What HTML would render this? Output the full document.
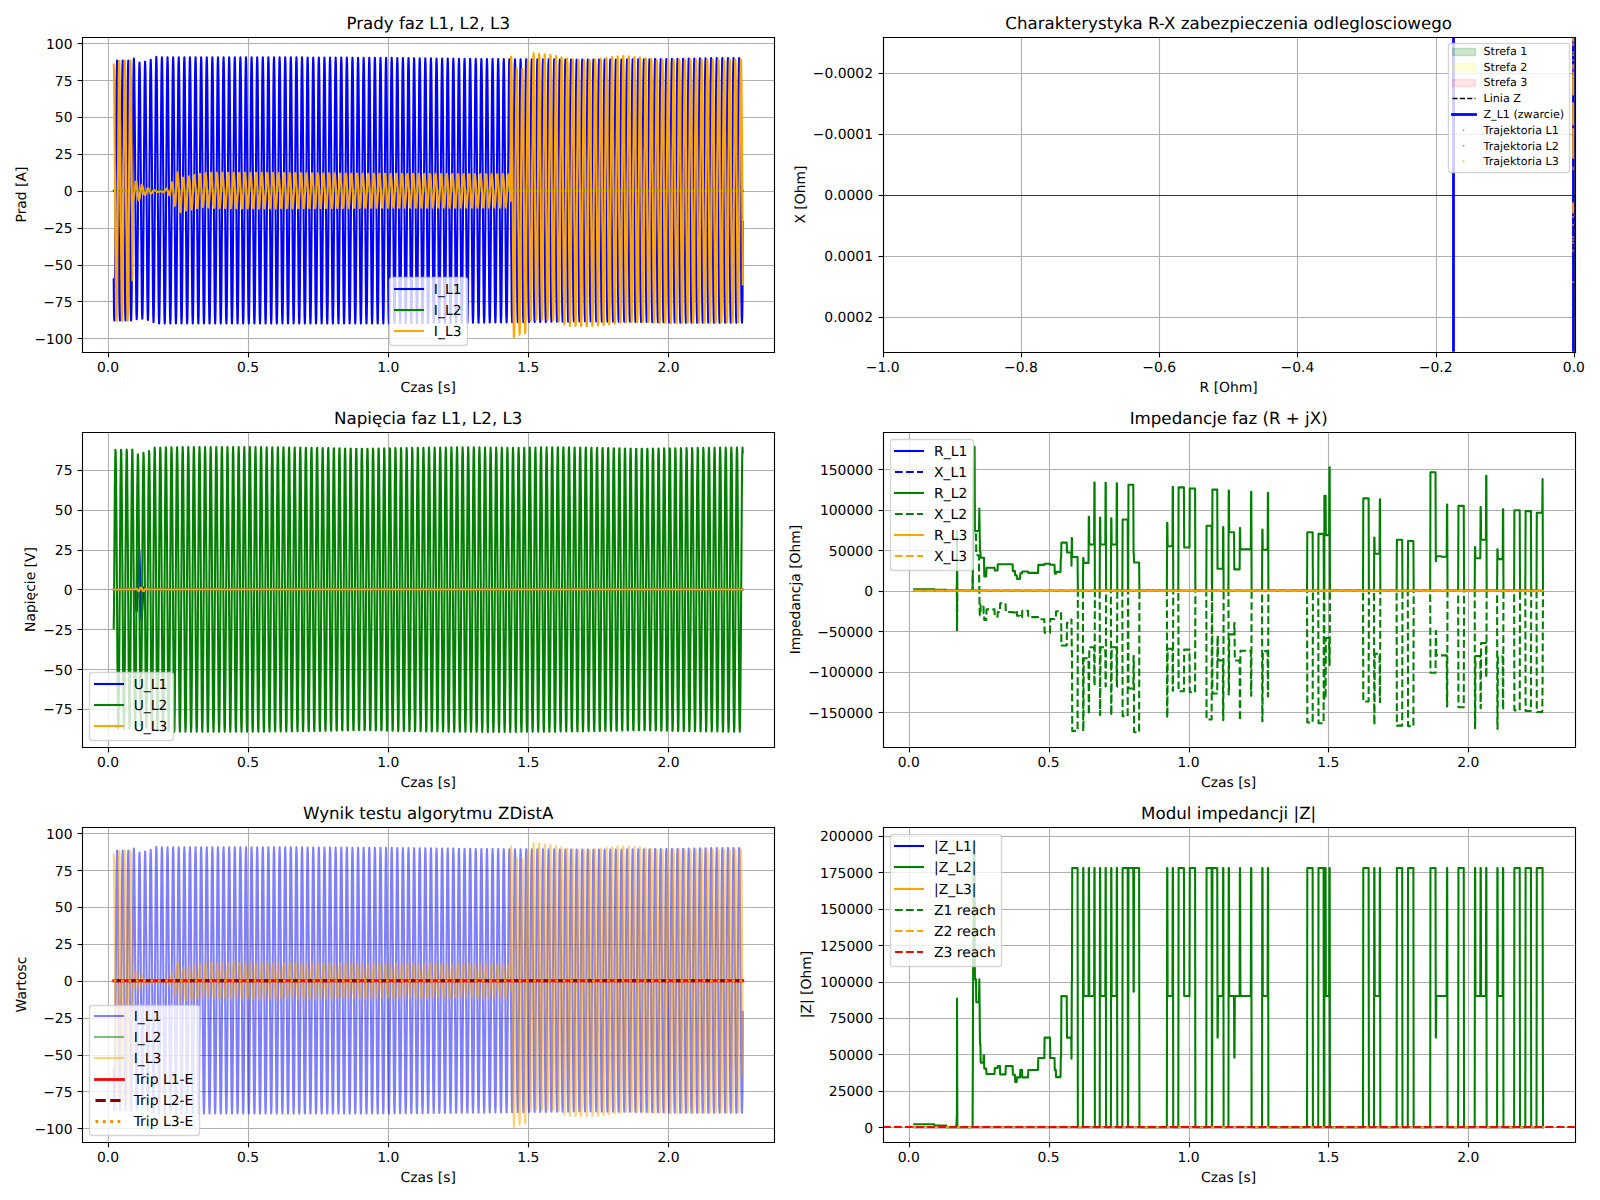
<!DOCTYPE html>
<html lang="pl"><head><meta charset="utf-8"><title>ZDistA test</title>
<style>html,body{margin:0;padding:0;background:#fff}svg{display:block}svg text{font-family:"DejaVu Sans","Liberation Sans",sans-serif;text-rendering:geometricPrecision}</style>
</head><body><svg width="1600" height="1200" viewBox="0 0 1152 864"><defs><style type="text/css">*{stroke-linejoin: round; stroke-linecap: butt}</style></defs><g id="figure_1"><g id="patch_1"><path d="M0 864L1152 864L1152 0L0 0z" style="fill:#ffffff"/></g><g id="axes_1"><g id="patch_2"><path d="M59.24 253.24L557.42 253.24L557.42 26.88L59.24 26.88z" style="fill:#ffffff"/></g><g id="matplotlib.axis_1"><g id="xtick_1"><g id="line2d_1"><path d="M78.12 253.8L78.12 27" clip-path="url(#p536cd106fd)" style="fill:none;stroke:#b0b0b0;stroke-width:0.8;stroke-linecap:square"/></g><g id="line2d_2"><defs><path id="m1504cfccaf" d="M0 0L0 3.5" style="stroke:#000000;stroke-width:0.8"/></defs><g><use x="78.12" y="253.8" style="stroke:#000000;stroke-width:0.8" href="#m1504cfccaf"/></g></g><g id="text_1"><text style="font-size:10px;text-anchor:middle" x="77.81" y="268.16">0.0</text></g></g><g id="xtick_2"><g id="line2d_3"><path d="M178.92 253.8L178.92 27" clip-path="url(#p536cd106fd)" style="fill:none;stroke:#b0b0b0;stroke-width:0.8;stroke-linecap:square"/></g><g id="line2d_4"><g><use x="178.92" y="253.8" style="stroke:#000000;stroke-width:0.8" href="#m1504cfccaf"/></g></g><g id="text_2"><text style="font-size:10px;text-anchor:middle" x="178.68" y="268.16">0.5</text></g></g><g id="xtick_3"><g id="line2d_5"><path d="M279.72 253.8L279.72 27" clip-path="url(#p536cd106fd)" style="fill:none;stroke:#b0b0b0;stroke-width:0.8;stroke-linecap:square"/></g><g id="line2d_6"><g><use x="279.72" y="253.8" style="stroke:#000000;stroke-width:0.8" href="#m1504cfccaf"/></g></g><g id="text_3"><text style="font-size:10px;text-anchor:middle" x="279.56" y="268.16">1.0</text></g></g><g id="xtick_4"><g id="line2d_7"><path d="M380.52 253.8L380.52 27" clip-path="url(#p536cd106fd)" style="fill:none;stroke:#b0b0b0;stroke-width:0.8;stroke-linecap:square"/></g><g id="line2d_8"><g><use x="380.52" y="253.8" style="stroke:#000000;stroke-width:0.8" href="#m1504cfccaf"/></g></g><g id="text_4"><text style="font-size:10px;text-anchor:middle" x="380.43" y="268.16">1.5</text></g></g><g id="xtick_5"><g id="line2d_9"><path d="M481.32 253.8L481.32 27" clip-path="url(#p536cd106fd)" style="fill:none;stroke:#b0b0b0;stroke-width:0.8;stroke-linecap:square"/></g><g id="line2d_10"><g><use x="481.32" y="253.8" style="stroke:#000000;stroke-width:0.8" href="#m1504cfccaf"/></g></g><g id="text_5"><text style="font-size:10px;text-anchor:middle" x="481.31" y="268.16">2.0</text></g></g><g id="text_6"><text style="font-size:10px;text-anchor:middle" x="308.33" y="282.24">Czas [s]</text></g></g><g id="matplotlib.axis_2"><g id="ytick_1"><g id="line2d_11"><path d="M59.4 243.72L557.64 243.72" clip-path="url(#p536cd106fd)" style="fill:none;stroke:#b0b0b0;stroke-width:0.8;stroke-linecap:square"/></g><g id="line2d_12"><defs><path id="m5d545ce8f8" d="M0 0L-3.5 0" style="stroke:#000000;stroke-width:0.8"/></defs><g><use x="59.4" y="243.72" style="stroke:#000000;stroke-width:0.8" href="#m5d545ce8f8"/></g></g><g id="text_7"><text style="font-size:10px;text-anchor:end" x="52.24" y="247.5">−100</text></g></g><g id="ytick_2"><g id="line2d_13"><path d="M59.4 217.08L557.64 217.08" clip-path="url(#p536cd106fd)" style="fill:none;stroke:#b0b0b0;stroke-width:0.8;stroke-linecap:square"/></g><g id="line2d_14"><g><use x="59.4" y="217.08" style="stroke:#000000;stroke-width:0.8" href="#m5d545ce8f8"/></g></g><g id="text_8"><text style="font-size:10px;text-anchor:end" x="52.24" y="220.95">−75</text></g></g><g id="ytick_3"><g id="line2d_15"><path d="M59.4 191.16L557.64 191.16" clip-path="url(#p536cd106fd)" style="fill:none;stroke:#b0b0b0;stroke-width:0.8;stroke-linecap:square"/></g><g id="line2d_16"><g><use x="59.4" y="191.16" style="stroke:#000000;stroke-width:0.8" href="#m5d545ce8f8"/></g></g><g id="text_9"><text style="font-size:10px;text-anchor:end" x="52.24" y="194.4">−50</text></g></g><g id="ytick_4"><g id="line2d_17"><path d="M59.4 164.52L557.64 164.52" clip-path="url(#p536cd106fd)" style="fill:none;stroke:#b0b0b0;stroke-width:0.8;stroke-linecap:square"/></g><g id="line2d_18"><g><use x="59.4" y="164.52" style="stroke:#000000;stroke-width:0.8" href="#m5d545ce8f8"/></g></g><g id="text_10"><text style="font-size:10px;text-anchor:end" x="52.24" y="167.85">−25</text></g></g><g id="ytick_5"><g id="line2d_19"><path d="M59.4 137.88L557.64 137.88" clip-path="url(#p536cd106fd)" style="fill:none;stroke:#b0b0b0;stroke-width:0.8;stroke-linecap:square"/></g><g id="line2d_20"><g><use x="59.4" y="137.88" style="stroke:#000000;stroke-width:0.8" href="#m5d545ce8f8"/></g></g><g id="text_11"><text style="font-size:10px;text-anchor:end" x="52.24" y="141.3">0</text></g></g><g id="ytick_6"><g id="line2d_21"><path d="M59.4 111.24L557.64 111.24" clip-path="url(#p536cd106fd)" style="fill:none;stroke:#b0b0b0;stroke-width:0.8;stroke-linecap:square"/></g><g id="line2d_22"><g><use x="59.4" y="111.24" style="stroke:#000000;stroke-width:0.8" href="#m5d545ce8f8"/></g></g><g id="text_12"><text style="font-size:10px;text-anchor:end" x="52.24" y="114.75">25</text></g></g><g id="ytick_7"><g id="line2d_23"><path d="M59.4 84.6L557.64 84.6" clip-path="url(#p536cd106fd)" style="fill:none;stroke:#b0b0b0;stroke-width:0.8;stroke-linecap:square"/></g><g id="line2d_24"><g><use x="59.4" y="84.6" style="stroke:#000000;stroke-width:0.8" href="#m5d545ce8f8"/></g></g><g id="text_13"><text style="font-size:10px;text-anchor:end" x="52.24" y="88.2">50</text></g></g><g id="ytick_8"><g id="line2d_25"><path d="M59.4 57.96L557.64 57.96" clip-path="url(#p536cd106fd)" style="fill:none;stroke:#b0b0b0;stroke-width:0.8;stroke-linecap:square"/></g><g id="line2d_26"><g><use x="59.4" y="57.96" style="stroke:#000000;stroke-width:0.8" href="#m5d545ce8f8"/></g></g><g id="text_14"><text style="font-size:10px;text-anchor:end" x="52.24" y="61.65">75</text></g></g><g id="ytick_9"><g id="line2d_27"><path d="M59.4 31.32L557.64 31.32" clip-path="url(#p536cd106fd)" style="fill:none;stroke:#b0b0b0;stroke-width:0.8;stroke-linecap:square"/></g><g id="line2d_28"><g><use x="59.4" y="31.32" style="stroke:#000000;stroke-width:0.8" href="#m5d545ce8f8"/></g></g><g id="text_15"><text style="font-size:10px;text-anchor:end" x="52.24" y="35.1">100</text></g></g><g id="text_16"><text style="font-size:10px;text-anchor:middle" x="18.72" y="140.06" transform="rotate(-90 18.72 140.06)">Prad [A]</text></g></g><g id="line2d_29"><path d="M81.88 201.06L82.09 226.23L82.29 230.8L82.49 226.23L82.69 212.95L83.09 166.22L83.9 61.47L84.1 48.15L84.31 43.56L84.51 48.15L84.71 61.47L85.11 108.36L85.92 212.95L86.12 226.23L86.32 230.8L86.52 226.23L86.73 212.95L87.13 166.22L87.94 61.47L88.14 48.15L88.34 43.56L88.54 48.15L88.74 61.47L89.15 108.36L89.95 212.95L90.16 226.23L90.36 230.8L90.56 226.23L90.76 212.95L91.16 166.22L91.97 61.47L92.17 48.15L92.38 43.56L92.58 48.15L92.78 61.47L93.18 108.36L93.99 212.95L94.19 226.23L94.39 230.8L94.59 226.23L94.8 212.95L95.2 166.22L96.01 60.58L96.21 46.9L96.41 42.1L96.61 46.86L97.02 81.55L98.02 212.29L98.23 225.38L98.43 229.83L98.63 225.23L98.83 212.04L99.23 165.82L100.04 62.64L100.24 49.66L100.45 45.11L100.65 49.6L100.85 62.67L101.25 108.8L102.06 211.84L102.26 224.94L102.46 229.47L102.66 224.98L102.87 211.91L103.27 165.84L104.08 62.21L104.28 48.99L104.48 44.4L104.68 48.88L104.88 62.04L105.29 108.54L106.09 212.45L106.3 225.72L106.5 230.35L106.7 225.88L106.9 212.72L107.3 166.19L108.11 61.15L108.31 47.7L108.52 43.01L108.72 47.52L108.92 60.85L109.32 108.05L110.13 213.82L110.33 227.29L110.53 231.97L110.73 227.38L110.94 213.97L111.34 166.64L112.15 59.4L112.35 45.61L112.55 40.81L112.75 45.55L112.95 59.27L113.36 107.53L114.16 214.58L114.37 228.14L114.57 232.82L114.77 228.14L114.97 214.58L115.37 166.84L116.18 59.52L116.38 45.87L116.59 41.19L116.79 45.91L116.99 59.58L117.39 107.65L118.2 214.58L118.4 228.14L118.6 232.82L118.8 228.14L119.01 214.58L119.41 166.84L120.22 59.67L120.42 46.03L120.62 41.33L120.82 46.03L121.02 59.67L121.43 107.67L122.23 214.58L122.44 228.14L122.64 232.82L122.84 228.14L123.04 214.58L123.44 166.84L124.25 59.66L124.45 46.03L124.66 41.33L124.86 46.02L125.06 59.66L125.46 107.67L126.27 214.58L126.47 228.14L126.67 232.82L126.87 228.14L127.08 214.58L127.48 166.84L128.29 59.66L128.49 46.02L128.69 41.32L128.89 46.02L129.09 59.66L129.5 107.67L130.3 214.58L130.51 228.14L130.71 232.82L130.91 228.14L131.11 214.58L131.51 166.84L132.32 59.65L132.52 46.02L132.73 41.31L132.93 46.01L133.13 59.65L133.53 107.67L134.34 214.58L134.54 228.14L134.74 232.82L134.94 228.14L135.15 214.58L135.55 166.84L136.36 59.65L136.56 46.01L136.76 41.31L136.96 46.01L137.16 59.65L137.57 107.67L138.37 214.58L138.58 228.14L138.78 232.82L138.98 228.14L139.18 214.58L139.58 166.84L140.39 59.65L140.59 46.01L140.8 41.3L141 46L141.2 59.65L141.6 107.66L142.41 214.58L142.61 228.14L142.81 232.82L143.01 228.14L143.22 214.58L143.62 166.84L144.43 59.64L144.63 46L144.83 41.3L145.03 46L145.23 59.64L145.64 107.66L146.44 214.58L146.65 228.14L146.85 232.82L147.05 228.14L147.25 214.58L147.65 166.84L148.46 59.64L148.66 45.99L148.87 41.29L149.07 45.99L149.27 59.64L149.67 107.66L150.48 214.58L150.68 228.14L150.88 232.82L151.08 228.14L151.29 214.58L151.69 166.84L152.5 59.63L152.7 45.99L152.9 41.29L153.1 45.99L153.3 59.63L153.71 107.66L154.51 214.58L154.72 228.14L154.92 232.82L155.12 228.14L155.32 214.58L155.72 166.84L156.53 59.63L156.73 45.98L156.94 41.28L157.14 45.98L157.34 59.63L157.74 107.66L158.55 214.58L158.75 228.14L158.95 232.82L159.15 228.14L159.36 214.58L159.76 166.84L160.57 59.62L160.77 45.98L160.97 41.28L161.17 45.98L161.37 59.62L161.78 107.66L162.58 214.58L162.79 228.14L162.99 232.82L163.19 228.14L163.39 214.58L163.79 166.84L164.6 59.62L164.8 45.97L165 41.27L165.21 45.97L165.41 59.62L165.81 107.65L166.62 214.58L166.82 228.14L167.02 232.82L167.22 228.14L167.43 214.58L167.83 166.84L168.64 59.62L168.84 45.97L169.04 41.27L169.24 45.97L169.44 59.62L169.85 107.65L170.65 214.58L170.86 228.14L171.06 232.82L171.26 228.14L171.46 214.58L171.86 166.84L172.67 59.61L172.87 45.96L173.07 41.26L173.28 45.96L173.48 59.61L173.88 107.65L174.69 214.58L174.89 228.14L175.09 232.82L175.29 228.14L175.5 214.58L175.9 166.84L176.71 59.61L176.91 45.96L177.11 41.26L177.31 45.96L177.51 59.61L177.92 107.65L178.72 214.58L178.93 228.14L179.13 232.82L179.33 228.14L179.53 214.58L179.93 166.84L180.74 59.6L180.94 45.95L181.14 41.25L181.35 45.95L181.55 59.6L181.95 107.65L182.76 214.58L182.96 228.14L183.16 232.82L183.36 228.14L183.57 214.58L183.97 166.84L184.78 59.6L184.98 45.95L185.18 41.25L185.38 45.95L185.58 59.6L185.99 107.65L186.79 214.58L187 228.14L187.2 232.82L187.4 228.14L187.6 214.58L188 166.84L188.81 59.59L189.01 45.94L189.21 41.24L189.42 45.94L189.62 59.59L190.02 107.64L190.83 214.58L191.03 228.14L191.23 232.82L191.43 228.14L191.64 214.58L192.04 166.84L192.85 59.59L193.05 45.94L193.25 41.24L193.45 45.94L193.65 59.59L194.06 107.64L194.86 214.58L195.07 228.14L195.27 232.82L195.47 228.14L195.67 214.58L196.07 166.84L196.88 59.59L197.08 45.93L197.28 41.23L197.49 45.93L197.69 59.59L198.09 107.64L198.9 214.58L199.1 228.14L199.3 232.82L199.5 228.14L199.71 214.58L200.11 166.84L200.92 59.59L201.12 45.94L201.32 41.24L201.52 45.95L201.72 59.6L202.13 107.65L202.93 214.58L203.14 228.14L203.34 232.82L203.54 228.14L203.74 214.58L204.14 166.84L204.95 59.61L205.15 45.96L205.35 41.26L205.56 45.97L205.76 59.61L206.16 107.65L206.97 214.58L207.17 228.14L207.37 232.82L207.57 228.14L207.78 214.58L208.18 166.84L208.99 59.63L209.19 45.98L209.39 41.28L209.59 45.99L209.79 59.63L210.2 107.66L211 214.58L211.21 228.14L211.41 232.82L211.61 228.14L211.81 214.58L212.21 166.84L213.02 59.64L213.22 46L213.42 41.3L213.63 46.01L213.83 59.65L214.23 107.67L215.04 214.58L215.24 228.14L215.44 232.82L215.64 228.14L215.85 214.58L216.25 166.84L217.06 59.66L217.26 46.02L217.46 41.33L217.66 46.03L217.86 59.66L218.27 107.67L219.07 214.58L219.28 228.14L219.48 232.82L219.68 228.14L219.88 214.58L220.28 166.84L221.09 59.68L221.29 46.04L221.49 41.35L221.7 46.05L221.9 59.68L222.3 107.68L223.11 214.58L223.31 228.14L223.51 232.82L223.71 228.14L223.92 214.58L224.32 166.84L225.13 59.7L225.33 46.06L225.53 41.37L225.73 46.07L225.93 59.7L226.34 107.69L227.14 214.58L227.35 228.14L227.55 232.82L227.75 228.14L227.95 214.58L228.35 166.84L229.16 59.71L229.36 46.08L229.56 41.39L229.77 46.09L229.97 59.72L230.37 107.69L231.18 214.58L231.38 228.14L231.58 232.82L231.78 228.14L231.99 214.58L232.39 166.84L233.2 59.73L233.4 46.1L233.6 41.41L233.8 46.11L234 59.73L234.41 107.7L235.21 214.58L235.42 228.14L235.62 232.82L235.82 228.14L236.02 214.58L236.42 166.84L237.23 59.75L237.43 46.13L237.63 41.43L237.84 46.13L238.04 59.75L238.44 107.7L239.25 214.58L239.45 228.14L239.65 232.82L239.85 228.14L240.06 214.58L240.46 166.84L241.27 59.76L241.47 46.15L241.67 41.45L241.87 46.15L242.07 59.77L242.48 107.71L243.28 214.58L243.49 228.14L243.69 232.82L243.89 228.14L244.09 214.58L244.49 166.84L245.3 59.78L245.5 46.17L245.7 41.47L245.91 46.17L246.11 59.79L246.51 107.72L247.32 214.58L247.52 228.14L247.72 232.82L247.92 228.14L248.13 214.58L248.53 166.84L249.34 59.8L249.54 46.19L249.74 41.5L249.94 46.19L250.14 59.8L250.55 107.72L251.35 214.58L251.56 228.14L251.76 232.82L251.96 228.14L252.16 214.58L252.56 166.84L253.37 59.82L253.57 46.21L253.77 41.52L253.98 46.21L254.18 59.82L254.58 107.73L255.39 214.58L255.59 228.14L255.79 232.82L255.99 228.14L256.2 214.58L256.6 166.84L257.41 59.83L257.61 46.23L257.81 41.54L258.01 46.23L258.21 59.84L258.62 107.74L259.42 214.58L259.63 228.14L259.83 232.82L260.03 228.14L260.23 214.58L260.63 166.84L261.44 59.85L261.64 46.25L261.84 41.56L262.05 46.25L262.25 59.85L262.65 107.74L263.46 214.58L263.66 228.14L263.86 232.82L264.06 228.14L264.27 214.58L264.67 166.84L265.48 59.87L265.68 46.27L265.88 41.58L266.08 46.27L266.28 59.87L266.69 107.75L267.49 214.58L267.7 228.14L267.9 232.82L268.1 228.14L268.3 214.58L268.7 166.84L269.51 59.88L269.71 46.29L269.91 41.6L270.12 46.29L270.32 59.89L270.72 107.76L271.53 214.58L271.73 228.14L271.93 232.82L272.13 228.14L272.34 214.58L272.74 166.84L273.55 59.9L273.75 46.31L273.95 41.62L274.15 46.31L274.35 59.91L274.76 107.76L275.56 214.58L275.77 228.14L275.97 232.82L276.17 228.14L276.37 214.58L276.77 166.84L277.58 59.92L277.78 46.33L277.98 41.64L278.19 46.33L278.39 59.92L278.79 107.77L279.6 214.58L279.8 228.14L280 232.81L280.2 228.14L280.41 214.58L280.81 166.84L281.62 59.95L281.82 46.36L282.02 41.68L282.22 46.37L282.42 59.96L282.83 107.78L283.63 214.56L283.84 228.11L284.04 232.78L284.24 228.11L284.44 214.55L284.84 166.83L285.65 59.99L285.85 46.41L286.05 41.73L286.26 46.41L286.46 60L286.86 107.8L287.67 214.53L287.87 228.08L288.07 232.75L288.27 228.08L288.48 214.53L288.88 166.82L289.69 60.03L289.89 46.46L290.09 41.78L290.29 46.46L290.49 60.04L290.9 107.81L291.7 214.51L291.91 228.05L292.11 232.72L292.31 228.05L292.51 214.5L292.91 166.81L293.72 60.07L293.92 46.5L294.12 41.83L294.33 46.51L294.53 60.08L294.93 107.83L295.74 214.48L295.94 228.02L296.14 232.69L296.34 228.02L296.55 214.47L296.95 166.8L297.76 60.11L297.96 46.55L298.16 41.88L298.36 46.56L298.56 60.12L298.97 107.85L299.77 214.45L299.98 227.99L300.18 232.65L300.38 227.99L300.58 214.45L300.98 166.79L301.79 60.15L301.99 46.6L302.19 41.93L302.4 46.6L302.6 60.16L303 107.86L303.81 214.43L304.01 227.96L304.21 232.62L304.41 227.96L304.62 214.42L305.02 166.78L305.83 60.19L306.03 46.65L306.23 41.98L306.43 46.65L306.63 60.2L307.04 107.88L307.84 214.4L308.05 227.93L308.25 232.59L308.45 227.93L308.65 214.4L309.05 166.77L309.86 60.23L310.06 46.69L310.26 42.03L310.47 46.7L310.67 60.24L311.07 107.89L311.88 214.38L312.08 227.9L312.28 232.56L312.48 227.9L312.69 214.37L313.09 166.76L313.9 60.27L314.1 46.74L314.3 42.08L314.5 46.74L314.7 60.28L315.11 107.91L315.91 214.35L316.12 227.87L316.32 232.53L316.52 227.87L316.72 214.35L317.12 166.75L317.93 60.31L318.13 46.79L318.33 42.13L318.54 46.79L318.74 60.32L319.14 107.92L319.95 214.32L320.15 227.84L320.35 232.5L320.55 227.84L320.76 214.32L321.16 166.74L321.97 60.35L322.17 46.83L322.37 42.18L322.57 46.84L322.77 60.36L323.18 107.94L323.98 214.3L324.19 227.81L324.39 232.46L324.59 227.81L324.79 214.29L325.19 166.73L326 60.39L326.2 46.88L326.4 42.23L326.61 46.89L326.81 60.4L327.21 107.95L328.02 214.27L328.22 227.78L328.42 232.43L328.62 227.78L328.83 214.27L329.23 166.72L330.04 60.43L330.24 46.93L330.44 42.28L330.64 46.93L330.84 60.44L331.25 107.97L332.05 214.25L332.26 227.75L332.46 232.4L332.66 227.75L332.86 214.24L333.26 166.71L334.07 60.47L334.27 46.98L334.47 42.33L334.68 46.98L334.88 60.48L335.28 107.98L336.09 214.22L336.29 227.72L336.49 232.37L336.69 227.72L336.9 214.22L337.3 166.7L338.11 60.51L338.31 47.02L338.51 42.38L338.71 47.03L338.91 60.52L339.32 108L340.12 214.2L340.33 227.69L340.53 232.34L340.73 227.68L340.93 214.19L341.33 166.69L342.14 60.54L342.34 47.06L342.54 42.42L342.75 47.06L342.95 60.55L343.35 108.01L344.16 214.17L344.36 227.66L344.56 232.3L344.76 227.65L344.97 214.17L345.37 166.68L346.18 60.57L346.38 47.09L346.58 42.45L346.78 47.09L346.98 60.57L347.39 108.02L348.19 214.14L348.39 227.63L348.6 232.27L348.8 227.62L349 214.14L349.4 166.67L350.21 60.6L350.41 47.12L350.61 42.48L350.82 47.13L351.02 60.6L351.42 108.03L352.23 214.12L352.43 227.6L352.63 232.24L352.83 227.59L353.04 214.11L353.44 166.66L354.25 60.62L354.45 47.15L354.65 42.51L354.85 47.16L355.05 60.63L355.46 108.04L356.26 214.09L356.46 227.57L356.67 232.21L356.87 227.56L357.07 214.09L357.47 166.65L358.28 60.65L358.48 47.18L358.68 42.55L358.89 47.19L359.09 60.65L359.49 108.05L360.3 214.07L360.5 227.53L360.7 232.17L360.9 227.53L361.11 214.06L361.51 166.64L362.32 60.67L362.52 47.22L362.72 42.58L362.92 47.22L363.12 60.68L363.53 108.06L364.33 214.02L364.53 227.47L364.74 232.11L364.94 227.47L365.14 214.01L365.54 166.62L366.35 60.7L366.55 47.25L366.75 42.61L366.96 47.25L367.16 60.7L367.56 108.07L368.37 213.96L368.57 227.41L368.77 232.05L368.97 227.41L369.18 213.95L369.58 166.6L370.39 60.7L370.59 47.25L370.79 42.61L370.99 47.25L371.19 60.7L371.6 108.07L372.4 213.91L372.6 227.35L372.81 231.98L373.01 227.35L373.21 213.9L373.61 166.58L374.42 60.7L374.62 47.25L374.82 42.61L375.03 47.25L375.23 60.7L375.63 108.07L376.44 213.86L376.64 227.29L376.84 231.92L377.04 227.29L377.25 213.85L377.65 166.56L378.46 60.7L378.66 47.25L378.86 42.61L379.06 47.25L379.26 60.7L379.67 108.07L380.47 213.81L380.67 227.23L380.88 231.86L381.08 227.23L381.28 213.8L381.68 166.55L382.49 60.71L382.69 47.26L382.89 42.63L383.1 47.27L383.3 60.72L383.7 108.08L384.51 213.77L384.71 227.19L384.91 231.81L385.11 227.19L385.32 213.77L385.72 166.53L386.53 60.74L386.73 47.29L386.93 42.66L387.13 47.3L387.33 60.74L387.74 108.09L388.54 213.74L388.74 227.15L388.95 231.77L389.15 227.15L389.35 213.73L389.75 166.52L390.56 60.77L390.76 47.32L390.96 42.69L391.17 47.33L391.37 60.77L391.77 108.09L392.58 213.71L392.78 227.11L392.98 231.73L393.18 227.11L393.39 213.7L393.79 166.51L394.6 60.79L394.8 47.35L395 42.72L395.2 47.36L395.4 60.8L395.81 108.1L396.61 213.67L396.81 227.07L397.02 231.69L397.22 227.07L397.42 213.66L397.82 166.49L398.63 60.82L398.83 47.38L399.03 42.76L399.24 47.39L399.44 60.82L399.84 108.11L400.65 213.64L400.85 227.03L401.05 231.64L401.25 227.03L401.46 213.63L401.86 166.48L402.67 60.84L402.87 47.41L403.07 42.79L403.27 47.42L403.47 60.85L403.88 108.12L404.68 213.6L404.88 226.99L405.09 231.6L405.29 226.99L405.49 213.6L405.89 166.47L406.7 60.87L406.9 47.44L407.1 42.82L407.31 47.45L407.51 60.87L407.91 108.13L408.72 213.57L408.92 226.95L409.12 231.56L409.32 226.95L409.52 213.56L409.93 166.45L410.74 60.89L410.94 47.47L411.14 42.85L411.34 47.48L411.54 60.9L411.95 108.14L412.75 213.53L412.95 226.91L413.16 231.52L413.36 226.91L413.56 213.53L413.96 166.44L414.77 60.92L414.97 47.5L415.17 42.88L415.38 47.51L415.58 60.93L415.98 108.15L416.79 213.5L416.99 226.87L417.19 231.47L417.39 226.87L417.59 213.49L418 166.43L418.81 60.95L419.01 47.53L419.21 42.91L419.41 47.54L419.61 60.95L420.02 108.16L420.82 213.47L421.02 226.83L421.23 231.44L421.43 226.84L421.63 213.47L422.03 166.42L422.84 60.95L423.04 47.54L423.24 42.91L423.45 47.53L423.65 60.95L424.05 108.16L424.86 213.49L425.06 226.86L425.26 231.47L425.46 226.87L425.66 213.5L426.07 166.43L426.88 60.93L427.08 47.52L427.28 42.89L427.48 47.51L427.68 60.93L428.09 108.15L428.89 213.52L429.09 226.89L429.3 231.5L429.5 226.9L429.7 213.52L430.1 166.44L430.91 60.92L431.11 47.5L431.31 42.87L431.52 47.49L431.72 60.91L432.12 108.15L432.93 213.54L433.13 226.92L433.33 231.54L433.53 226.93L433.73 213.55L434.14 166.45L434.95 60.9L435.15 47.48L435.35 42.85L435.55 47.47L435.75 60.89L436.16 108.14L436.96 213.57L437.16 226.95L437.37 231.57L437.57 226.96L437.77 213.57L438.17 166.46L438.98 60.88L439.18 47.46L439.38 42.83L439.59 47.45L439.79 60.88L440.19 108.13L441 213.6L441.2 226.98L441.4 231.6L441.6 226.99L441.8 213.6L442.21 166.47L443.02 60.86L443.22 47.44L443.42 42.81L443.62 47.43L443.82 60.86L444.23 108.13L445.03 213.62L445.23 227.01L445.44 231.63L445.64 227.02L445.84 213.63L446.24 166.48L447.05 60.85L447.25 47.42L447.45 42.79L447.66 47.41L447.86 60.84L448.26 108.12L449.07 213.65L449.27 227.05L449.47 231.66L449.67 227.05L449.87 213.65L450.28 166.49L451.09 60.83L451.29 47.4L451.49 42.77L451.69 47.39L451.89 60.83L452.3 108.11L453.1 213.67L453.3 227.08L453.51 231.7L453.71 227.08L453.91 213.68L454.31 166.5L455.12 60.81L455.32 47.38L455.52 42.74L455.73 47.37L455.93 60.81L456.33 108.11L457.14 213.7L457.34 227.11L457.54 231.73L457.74 227.11L457.94 213.7L458.35 166.51L459.16 60.8L459.36 47.36L459.56 42.72L459.76 47.35L459.96 60.79L460.37 108.1L461.17 213.72L461.37 227.14L461.58 231.76L461.78 227.15L461.98 213.74L462.38 166.52L463.19 60.76L463.39 47.32L463.59 42.68L463.8 47.31L464 60.75L464.4 108.09L465.21 213.78L465.41 227.21L465.61 231.83L465.81 227.21L466.01 213.79L466.42 166.55L467.23 60.72L467.43 47.26L467.63 42.62L467.83 47.26L468.03 60.71L468.44 108.07L469.24 213.84L469.44 227.27L469.65 231.9L469.85 227.28L470.05 213.85L470.45 166.57L471.26 60.67L471.46 47.21L471.66 42.57L471.87 47.2L472.07 60.66L472.47 108.05L473.28 213.9L473.48 227.34L473.68 231.98L473.88 227.35L474.08 213.91L474.49 166.59L475.3 60.63L475.5 47.15L475.7 42.51L475.9 47.15L476.1 60.62L476.51 108.03L477.31 213.95L477.51 227.41L477.72 232.05L477.92 227.41L478.12 213.96L478.52 166.61L479.33 60.58L479.53 47.1L479.73 42.45L479.94 47.1L480.14 60.57L480.54 108.02L481.35 214.01L481.55 227.48L481.75 232.12L481.95 227.48L482.15 214.02L482.56 166.63L483.37 60.53L483.57 47.05L483.77 42.4L483.97 47.04L484.17 60.53L484.58 108L485.38 214.07L485.58 227.54L485.79 232.19L485.99 227.55L486.19 214.08L486.59 166.65L487.4 60.49L487.6 46.99L487.8 42.34L488.01 46.99L488.21 60.48L488.61 107.98L489.42 214.13L489.62 227.61L489.82 232.26L490.02 227.62L490.22 214.14L490.63 166.68L491.44 60.44L491.64 46.94L491.84 42.28L492.04 46.93L492.24 60.43L492.65 107.96L493.45 214.16L493.65 227.64L493.86 232.29L494.06 227.64L494.26 214.16L494.66 166.68L495.47 60.37L495.67 46.86L495.87 42.2L496.08 46.85L496.28 60.36L496.68 107.93L497.49 214.16L497.69 227.65L497.89 232.3L498.09 227.65L498.29 214.17L498.7 166.69L499.51 60.3L499.71 46.78L499.91 42.11L500.11 46.77L500.31 60.29L500.72 107.91L501.52 214.17L501.72 227.66L501.93 232.31L502.13 227.66L502.33 214.17L502.73 166.69L503.54 60.24L503.74 46.69L503.94 42.03L504.15 46.69L504.35 60.22L504.75 107.88L505.56 214.18L505.76 227.67L505.96 232.32L506.16 227.67L506.36 214.18L506.77 166.69L507.58 60.17L507.78 46.61L507.98 41.94L508.18 46.61L508.38 60.15L508.79 107.86L509.59 214.18L509.79 227.68L510 232.33L510.2 227.68L510.4 214.19L510.8 166.69L511.61 60.1L511.81 46.54L512.01 41.86L512.22 46.54L512.42 60.1L512.82 107.84L513.63 214.19L513.83 227.68L514.03 232.33L514.23 227.69L514.43 214.19L514.84 166.7L515.65 60.09L515.85 46.52L516.05 41.85L516.25 46.52L516.45 60.09L516.86 107.83L517.66 214.2L517.86 227.69L518.07 232.34L518.27 227.69L518.47 214.2L518.87 166.7L519.68 60.08L519.88 46.51L520.08 41.84L520.29 46.51L520.49 60.07L520.89 107.83L521.7 214.2L521.9 227.7L522.1 232.35L522.3 227.7L522.5 214.21L522.91 166.7L523.72 60.06L523.92 46.5L524.12 41.82L524.32 46.5L524.52 60.06L524.93 107.82L525.73 214.21L525.93 227.71L526.14 232.36L526.34 227.71L526.54 214.21L526.94 166.7L527.75 60.05L527.95 46.48L528.15 41.81L528.36 46.48L528.56 60.05L528.96 107.82L529.77 214.22L529.97 227.72L530.17 232.37L530.37 227.72L530.57 214.22L530.98 166.71L531.78 60.04L531.99 46.47L532.19 41.79L532.39 46.47L532.59 60.04L533 107.81L533.8 214.23L534 227.72L534.21 232.38L534.41 227.73L534.61 214.23L534.81 159.64L534.81 159.64" clip-path="url(#p536cd106fd)" style="fill:none;stroke:#0000ff;stroke-width:1.5;stroke-linecap:square"/></g><g id="line2d_30"><path d="M81.88 137.34L534.81 137.34" clip-path="url(#p536cd106fd)" style="fill:none;stroke:#008000;stroke-width:1.5;stroke-linecap:square"/></g><g id="line2d_31"><path d="M81.88 46.43L82.09 52.01L82.49 91.91L83.5 219.98L83.7 229.98L83.9 230.91L84.1 222.67L84.51 182.77L85.52 54.7L85.72 44.7L85.92 43.78L86.12 52.01L86.52 91.91L87.53 219.98L87.74 229.98L87.94 230.91L88.14 222.67L88.54 182.77L89.55 54.7L89.75 44.7L89.95 43.78L90.16 52.01L90.56 91.91L91.57 219.98L91.77 229.98L91.97 230.91L92.17 222.67L92.58 182.77L93.59 54.7L93.79 44.7L93.99 43.78L94.19 52.01L94.59 91.91L95.4 201.9L95.6 144.54L95.81 144.75L96.01 144.33L96.41 141.82L97.62 131.22L97.82 130.65L98.02 130.66L98.23 131.26L98.63 133.97L99.64 143.01L99.84 143.97L100.04 144.38L100.24 144.11L100.65 142.01L101.86 133.55L102.06 133.12L102.26 133.13L102.46 133.53L102.87 135.23L103.67 139.36L104.08 140.37L104.48 140.45L104.68 140.26L105.09 139.29L106.3 135.48L106.5 135.3L106.7 135.44L107.1 136.3L108.11 139.07L108.52 139.32L108.92 139.25L109.32 138.84L110.53 137.1L110.94 136.9L111.34 136.98L111.94 137.41L112.95 138.23L113.36 138.32L113.96 138.16L114.97 137.72L115.58 137.76L116.38 137.99L116.99 138.11L117.8 138.3L118.2 138.09L118.6 137.56L119.61 135.88L119.81 135.79L120.01 135.85L120.42 136.48L121.23 138.81L121.83 140.5L122.03 140.62L122.23 140.33L122.44 139.6L123.04 135.47L123.65 131.71L123.85 131.22L124.05 131.35L124.25 132.15L124.66 135.61L125.66 147.64L125.87 148.13L126.07 147.56L126.27 145.93L126.67 140.08L127.48 126.55L127.68 124.68L127.88 124.16L128.08 125.3L128.49 130.72L129.7 152.35L129.9 152.89L130.1 151.7L130.51 145.44L131.11 133.47L131.51 128.95L131.72 127.93L131.92 127.79L132.12 128.43L132.52 132.21L132.93 138.36L133.53 149.51L133.73 151.19L133.94 151.53L134.14 150.5L134.54 144.84L135.35 130.75L135.75 127.28L135.95 126.94L136.15 127.62L136.56 131.69L137.16 142.37L137.57 148.78L137.77 150.43L137.97 150.79L138.17 149.84L138.58 144.51L139.38 130.21L139.79 126.38L139.99 125.99L140.19 126.71L140.59 131.14L141.8 149.59L142.01 149.95L142.21 149.07L142.61 144.11L143.62 127.24L143.82 125.67L144.02 125.24L144.22 126L144.63 130.68L145.64 147.19L145.84 148.65L146.04 149.02L146.24 148.29L146.65 143.78L147.86 125.11L148.06 124.64L148.26 125.42L148.66 130.29L149.67 147.38L149.87 148.97L150.08 149.42L150.28 148.69L150.68 144.07L151.89 124.77L152.09 124.29L152.29 125.09L152.7 130.08L153.71 147.58L153.91 149.21L154.11 149.68L154.31 148.94L154.72 144.25L155.93 124.81L156.13 124.31L156.33 125.08L156.73 130.02L157.74 147.59L157.94 149.25L158.15 149.75L158.35 149.03L158.75 144.35L159.96 124.85L160.16 124.32L160.36 125.06L160.77 129.95L161.78 147.6L161.98 149.29L162.18 149.81L162.38 149.12L162.79 144.46L164 124.89L164.2 124.33L164.4 125.05L164.8 129.89L165.81 147.61L166.01 149.33L166.22 149.88L166.42 149.21L166.82 144.56L168.03 124.93L168.23 124.35L168.43 125.03L168.84 129.83L169.85 147.61L170.05 149.37L170.25 149.95L170.45 149.3L170.86 144.67L172.07 124.97L172.27 124.36L172.47 125.02L172.87 129.77L173.88 147.62L174.08 149.41L174.29 150.01L174.49 149.39L174.69 147.58L175.09 141.24L175.9 126.84L176.1 125.01L176.3 124.38L176.5 125.01L176.71 126.85L177.11 133.32L177.92 147.62L178.12 149.44L178.32 150.08L178.52 149.47L178.72 147.68L179.13 141.33L179.93 126.91L180.14 125.05L180.34 124.4L180.54 125L180.74 126.82L181.14 133.25L181.95 147.57L182.15 149.41L182.36 150.07L182.56 149.49L182.76 147.71L183.16 141.41L183.97 126.98L184.17 125.1L184.37 124.42L184.57 125L184.78 126.79L185.18 133.17L185.99 147.51L186.19 149.37L186.39 150.05L186.59 149.49L186.79 147.75L187.2 141.48L188 127.05L188.21 125.15L188.41 124.45L188.61 125L188.81 126.76L189.21 133.1L190.02 147.45L190.22 149.32L190.43 150.03L190.63 149.5L190.83 147.78L191.23 141.55L192.04 127.12L192.24 125.21L192.44 124.48L192.64 125L192.85 126.73L193.25 133.03L194.06 147.38L194.26 149.28L194.46 150.01L194.66 149.51L194.86 147.82L195.27 141.63L196.07 127.19L196.28 125.26L196.48 124.5L196.68 125L196.88 126.71L197.28 132.96L198.09 147.32L198.29 149.24L198.5 149.99L198.7 149.52L198.9 147.85L199.3 141.7L200.11 127.27L200.31 125.31L200.51 124.53L200.71 125L200.92 126.68L201.32 132.89L202.13 147.25L202.33 149.19L202.53 149.97L202.73 149.52L202.93 147.88L203.34 141.77L204.14 127.34L204.35 125.36L204.55 124.56L204.75 125.01L204.95 126.66L205.35 132.82L206.16 147.19L206.36 149.15L206.57 149.95L206.77 149.53L206.97 147.91L207.37 141.84L208.18 127.41L208.38 125.42L208.58 124.59L208.78 125.01L208.99 126.63L209.39 132.75L210.2 147.12L210.4 149.1L210.6 149.93L210.8 149.53L211 147.94L211.41 141.91L212.21 127.48L212.42 125.47L212.62 124.62L212.82 125.01L213.02 126.61L213.42 132.69L214.23 147.06L214.43 149.06L214.64 149.91L214.84 149.54L215.04 147.97L215.44 141.98L216.25 127.56L216.45 125.53L216.65 124.65L216.85 125.02L217.06 126.59L217.46 132.62L218.27 146.99L218.47 149.01L218.67 149.89L218.87 149.54L219.07 148L219.48 142.05L220.28 127.63L220.49 125.58L220.69 124.68L220.89 125.02L221.09 126.56L221.49 132.55L222.3 146.93L222.5 148.96L222.71 149.86L222.91 149.54L223.11 148.03L223.51 142.12L224.32 127.7L224.52 125.64L224.72 124.71L224.92 125.03L225.13 126.54L225.53 132.48L226.34 146.86L226.74 149.84L226.94 149.55L227.14 148.06L227.55 142.19L228.35 127.77L228.76 124.75L228.96 125.03L229.16 126.52L229.56 132.42L230.37 146.79L230.78 149.82L230.98 149.55L231.18 148.09L231.58 142.26L232.39 127.85L232.79 124.78L232.99 125.04L233.2 126.5L233.6 132.35L234.41 146.73L234.81 149.79L235.01 149.55L235.21 148.11L235.62 142.33L236.42 127.92L236.83 124.81L237.03 125.05L237.23 126.48L237.63 132.29L238.44 146.66L238.85 149.77L239.05 149.55L239.25 148.14L239.65 142.4L240.46 127.99L240.86 124.85L241.06 125.05L241.27 126.46L241.67 132.22L242.48 146.59L242.88 149.74L243.08 149.55L243.28 148.17L243.69 142.46L244.49 128.07L244.9 124.88L245.1 125.06L245.3 126.44L245.7 132.16L246.51 146.53L246.92 149.72L247.12 149.55L247.32 148.19L247.72 142.53L248.53 128.14L248.93 124.91L249.13 125.07L249.34 126.42L249.74 132.09L250.55 146.46L250.95 149.69L251.15 149.55L251.35 148.22L251.76 142.6L252.56 128.22L252.97 124.95L253.17 125.08L253.37 126.41L253.77 132.03L254.58 146.39L254.99 149.66L255.19 149.55L255.39 148.24L255.79 142.66L256.8 126.09L257 124.99L257.2 125.09L257.41 126.39L257.81 131.97L258.62 146.32L259.02 149.64L259.22 149.55L259.42 148.26L259.83 142.73L260.84 126.15L261.04 125.02L261.24 125.1L261.44 126.37L261.84 131.9L262.85 148.47L263.06 149.61L263.26 149.54L263.46 148.29L263.86 142.79L264.87 126.21L265.07 125.06L265.27 125.11L265.48 126.36L265.88 131.84L266.89 148.42L267.09 149.58L267.29 149.54L267.49 148.31L267.9 142.86L268.91 126.26L269.11 125.1L269.31 125.12L269.51 126.34L269.91 131.78L270.92 148.37L271.13 149.55L271.33 149.54L271.53 148.33L271.93 142.92L272.94 126.32L273.14 125.13L273.34 125.13L273.55 126.33L273.95 131.72L274.96 148.32L275.16 149.52L275.36 149.53L275.56 148.35L275.97 142.99L276.98 126.38L277.18 125.17L277.38 125.15L277.58 126.32L277.98 131.66L278.99 148.27L279.2 149.49L279.4 149.53L279.6 148.37L280 143.05L281.01 126.44L281.21 125.21L281.41 125.16L281.62 126.3L282.02 131.6L283.03 148.22L283.23 149.47L283.43 149.53L283.63 148.4L284.04 143.12L285.05 126.5L285.25 125.24L285.45 125.17L285.65 126.28L286.05 131.54L287.06 148.18L287.26 149.44L287.47 149.53L287.67 148.43L288.07 143.18L289.08 126.55L289.28 125.27L289.48 125.17L289.69 126.26L290.09 131.48L291.1 148.13L291.3 149.42L291.5 149.53L291.7 148.45L292.11 143.25L293.12 126.61L293.32 125.31L293.52 125.18L293.72 126.25L294.12 131.42L295.13 148.08L295.33 149.4L295.54 149.53L295.74 148.48L296.14 143.32L297.15 126.66L297.35 125.34L297.55 125.19L297.76 126.23L298.16 131.36L299.17 148.03L299.37 149.37L299.57 149.53L299.77 148.5L300.18 143.38L301.19 126.72L301.39 125.38L301.59 125.2L301.79 126.22L302.19 131.3L303.2 147.99L303.4 149.35L303.61 149.53L303.81 148.53L304.21 143.45L305.22 126.77L305.42 125.41L305.62 125.21L305.83 126.2L306.23 131.24L307.24 147.94L307.44 149.32L307.64 149.53L307.84 148.55L308.25 143.51L309.26 126.83L309.46 125.45L309.66 125.22L309.86 126.19L310.26 131.18L311.27 147.89L311.47 149.29L311.68 149.53L311.88 148.57L312.28 143.57L313.29 126.89L313.49 125.48L313.69 125.24L313.9 126.17L314.3 131.12L315.31 147.84L315.51 149.27L315.71 149.53L315.91 148.6L316.32 143.64L317.33 126.95L317.53 125.52L317.73 125.25L317.93 126.16L318.33 131.06L319.34 147.79L319.54 149.24L319.75 149.52L319.95 148.62L320.35 143.7L321.36 127L321.56 125.56L321.76 125.26L321.97 126.15L322.37 131L323.38 147.74L323.58 149.21L323.78 149.52L323.98 148.64L324.39 143.76L325.4 127.06L325.6 125.59L325.8 125.27L326 126.13L326.4 130.95L327.41 147.69L327.61 149.18L327.82 149.52L328.02 148.66L328.42 143.83L329.43 127.12L329.63 125.63L329.83 125.29L330.04 126.12L330.44 130.89L331.45 147.64L331.65 149.15L331.85 149.51L332.05 148.68L332.46 143.89L333.47 127.18L333.67 125.67L333.87 125.3L334.07 126.11L334.47 130.83L335.48 147.59L335.68 149.12L335.89 149.51L336.09 148.7L336.49 143.95L337.5 127.24L337.7 125.71L337.9 125.32L338.11 126.1L338.51 130.78L339.52 147.54L339.72 149.09L339.92 149.5L340.12 148.72L340.53 144.01L341.54 127.3L341.74 125.75L341.94 125.33L342.14 126.09L342.54 130.72L343.55 147.48L343.75 149.06L343.96 149.5L344.16 148.74L344.56 144.07L345.57 127.35L345.77 125.79L345.97 125.35L346.18 126.08L346.58 130.67L347.59 147.43L347.79 149.03L347.99 149.49L348.19 148.76L348.6 144.13L349.61 127.41L349.81 125.83L350.01 125.37L350.21 126.07L350.61 130.61L351.62 147.38L351.82 149L352.03 149.48L352.23 148.78L352.63 144.19L353.64 127.47L353.84 125.87L354.04 125.38L354.25 126.06L354.65 130.56L355.86 148.97L356.06 149.47L356.26 148.79L356.67 144.25L357.68 127.53L357.88 125.91L358.08 125.4L358.28 126.06L358.68 130.51L359.89 148.94L360.1 149.47L360.3 148.81L360.7 144.31L361.71 127.6L361.91 125.95L362.11 125.42L362.32 126.05L362.72 130.45L363.93 148.9L364.13 149.46L364.33 148.83L364.74 144.37L365.75 127.66L365.95 125.99L366.15 125.44L366.35 126.04L366.75 130.4L367.56 144.5L367.76 49.41L367.96 40.93L368.17 41.89L368.37 52.19L368.77 96.35L369.78 233.44L369.98 242.71L370.18 241.66L370.39 230.41L370.79 182.48L371.6 71.77L372 48.99L372.2 50.31L372.4 60.1L372.81 99.79L373.82 231.97L374.02 241L374.22 239.88L374.42 228.73L374.82 181.7L375.63 72.84L376.03 49.51L376.24 50.36L376.44 59.72L376.84 99.33L377.85 230.89L378.05 239.86L378.25 238.79L378.46 227.8L378.86 180.88L379.67 68.69L380.07 43.21L380.27 43.8L380.47 53.58L380.88 96.45L381.68 206.89L382.09 231.03L382.29 229.62L382.49 219.24L382.89 177.14L383.9 47.34L384.1 38.44L384.31 39.19L384.51 49.58L384.91 94.73L385.72 205.54L386.12 230.17L386.32 229.25L386.53 219.34L386.93 177.19L387.94 47.3L388.14 38.65L388.34 39.67L388.54 50.23L388.95 95.03L389.75 205.62L390.16 230.29L390.36 229.37L390.56 219.45L390.96 177.24L391.97 47.64L392.17 39.01L392.38 40L392.58 50.52L392.98 95.18L393.79 205.71L394.19 230.4L394.39 229.49L394.6 219.55L395 177.29L396.01 48.1L396.21 39.52L396.41 40.51L396.61 50.98L397.02 95.42L397.82 205.8L398.23 230.52L398.43 229.6L398.63 219.65L399.03 177.34L400.04 48.83L400.24 40.33L400.45 41.33L400.65 51.73L401.05 95.78L401.86 206.34L402.26 231.45L402.46 230.63L402.67 220.65L403.07 177.91L404.08 49.68L404.28 41.27L404.48 42.27L404.68 52.57L405.09 96.19L405.89 207.86L406.3 233.52L406.5 232.66L406.7 222.47L407.1 178.79L407.91 67.38L408.31 42.22L408.52 43.21L408.72 53.4L409.12 96.58L410.13 226.15L410.33 234.72L410.53 233.76L410.74 223.36L411.14 179.14L411.95 67.82L412.35 42.78L412.55 43.74L412.75 53.86L413.16 96.79L414.17 226.2L414.37 234.77L414.57 233.81L414.77 223.4L415.17 179.16L415.98 68.09L416.38 43.12L416.59 44.07L416.79 54.14L417.19 96.92L418.2 226.25L418.4 234.83L418.6 233.86L418.81 223.45L419.21 179.18L420.02 68.13L420.42 43.14L420.62 44.08L420.82 54.14L421.23 96.92L422.24 226.29L422.44 234.88L422.64 233.91L422.84 223.5L423.24 179.21L424.05 68.13L424.45 43.14L424.66 44.08L424.86 54.14L425.26 96.9L426.27 226.19L426.47 234.74L426.67 233.75L426.88 223.33L427.28 179.1L428.09 67.88L428.49 42.76L428.69 43.68L428.89 53.76L429.3 96.71L430.31 225.82L430.51 234.34L430.71 233.36L430.91 222.98L431.31 178.94L432.12 67.51L432.52 42.24L432.73 43.16L432.93 53.3L433.33 96.48L434.34 225.48L434.54 233.97L434.74 232.99L434.95 222.66L435.35 178.78L436.16 67.06L436.56 41.62L436.76 42.54L436.96 52.74L437.37 96.21L438.17 208.06L438.58 233.53L438.78 232.56L438.98 222.26L439.38 178.58L440.19 66.59L440.59 40.99L440.8 41.91L441 52.18L441.4 95.95L442.21 207.67L442.61 233.01L442.81 232.03L443.02 221.79L443.42 178.35L444.43 49.08L444.63 40.55L444.83 41.49L445.03 51.81L445.44 95.78L446.24 207.3L446.65 232.5L446.85 231.54L447.05 221.35L447.45 178.14L448.46 48.86L448.66 40.32L448.87 41.27L449.07 51.63L449.47 95.7L450.28 206.95L450.68 232.03L450.88 231.07L451.09 220.93L451.49 177.94L452.5 49L452.7 40.49L452.9 41.46L453.1 51.82L453.51 95.81L454.31 206.71L454.72 231.75L454.92 230.81L455.12 220.73L455.52 177.86L456.53 49.36L456.73 40.89L456.94 41.87L457.14 52.19L457.54 95.99L458.35 206.71L458.75 231.75L458.95 230.81L459.16 220.73L459.56 177.86L460.57 49.74L460.77 41.32L460.97 42.29L461.17 52.56L461.58 96.18L462.38 206.71L462.79 231.75L462.99 230.81L463.19 220.73L463.59 177.86L464.6 50.29L464.8 41.93L465.01 42.91L465.21 53.12L465.61 96.45L466.42 206.82L466.82 231.94L467.02 231.03L467.23 220.94L467.63 177.98L468.44 67.65L468.84 42.56L469.04 43.53L469.24 53.68L469.65 96.71L470.45 207.16L470.86 232.42L471.06 231.5L471.26 221.36L471.66 178.18L472.47 68.06L472.87 43.1L473.08 44.06L473.28 54.14L473.68 96.92L474.69 224.29L474.89 232.67L475.09 231.73L475.3 221.54L475.7 178.25L476.51 68.13L476.91 43.14L477.11 44.08L477.31 54.14L477.72 96.92L478.72 224.24L478.93 232.62L479.13 231.68L479.33 221.5L479.73 178.23L480.54 68.13L480.94 43.14L481.15 44.08L481.35 54.14L481.75 96.91L482.76 224.28L482.96 232.68L483.16 231.74L483.37 221.57L483.77 178.27L484.58 68L484.98 42.95L485.18 43.88L485.38 53.95L485.79 96.83L486.79 224.31L487 232.69L487.2 231.73L487.4 221.53L487.8 178.24L488.61 67.97L489.01 42.93L489.22 43.87L489.42 53.95L489.82 96.83L490.83 224.05L491.03 232.41L491.23 231.45L491.44 221.29L491.84 178.13L492.65 67.97L493.05 42.93L493.25 43.87L493.45 53.95L493.86 96.83L494.66 207.16L495.07 232.37L495.27 231.42L495.47 221.27L495.87 178.12L496.68 67.97L497.08 42.93L497.29 43.87L497.49 53.95L497.89 96.83L498.7 207.15L499.1 232.35L499.3 231.41L499.51 221.26L499.91 178.11L500.72 67.97L501.12 42.93L501.32 43.87L501.52 53.95L501.93 96.83L502.73 207.14L503.14 232.33L503.34 231.39L503.54 221.24L503.94 178.11L504.75 67.97L505.15 42.93L505.36 43.87L505.56 53.95L505.96 96.83L506.77 207.13L507.17 232.31L507.37 231.37L507.58 221.23L507.98 178.1L508.79 67.97L509.19 42.93L509.39 43.87L509.59 53.95L510 96.83L510.8 207.11L511.21 232.3L511.41 231.36L511.61 221.21L512.01 178.09L512.82 67.97L513.22 42.93L513.43 43.87L513.63 53.95L514.03 96.83L514.84 207.1L515.24 232.28L515.44 231.34L515.65 221.2L516.05 178.08L516.86 67.97L517.26 42.93L517.46 43.87L517.66 53.95L518.07 96.83L518.87 207.09L519.28 232.26L519.48 231.32L519.68 221.18L520.08 178.08L520.89 67.97L521.29 42.93L521.5 43.87L521.7 53.95L522.1 96.83L522.91 207.08L523.31 232.25L523.51 231.31L523.72 221.17L524.12 178.07L524.93 67.97L525.33 42.93L525.53 43.87L525.73 53.95L526.14 96.83L526.94 207.06L527.35 232.23L527.55 231.29L527.75 221.15L528.15 178.06L528.96 67.97L529.36 42.93L529.57 43.87L529.77 53.95L530.17 96.83L530.98 207.05L531.38 232.21L531.58 231.27L531.78 221.14L532.19 178.06L533 67.97L533.4 42.93L533.6 43.87L533.8 53.95L534.21 96.83L534.61 155.26L534.81 204.78L534.81 204.78" clip-path="url(#p536cd106fd)" style="fill:none;stroke:#ffa500;stroke-width:1.5;stroke-linecap:square"/></g><g id="patch_3"><path d="M59.4 253.8L59.4 27" style="fill:none;stroke:#000000;stroke-width:0.8;stroke-linejoin:miter;stroke-linecap:square"/></g><g id="patch_4"><path d="M557.64 253.8L557.64 27" style="fill:none;stroke:#000000;stroke-width:0.8;stroke-linejoin:miter;stroke-linecap:square"/></g><g id="patch_5"><path d="M59.4 253.8L557.64 253.8" style="fill:none;stroke:#000000;stroke-width:0.8;stroke-linejoin:miter;stroke-linecap:square"/></g><g id="patch_6"><path d="M59.4 27L557.64 27" style="fill:none;stroke:#000000;stroke-width:0.8;stroke-linejoin:miter;stroke-linecap:square"/></g><g id="text_17"><text style="font-size:12px;text-anchor:middle" x="308.33" y="20.88">Prady faz L1, L2, L3</text></g><g id="legend_1"><g id="patch_7"><path d="M282.6 248.76L334.44 248.76Q336.6 248.76 336.6 246.6L336.6 201.96Q336.6 199.8 334.44 199.8L282.6 199.8Q280.44 199.8 280.44 201.96L280.44 246.6Q280.44 248.76 282.6 248.76z" style="fill:#ffffff;fill-opacity:0.8;stroke-opacity:0.8;stroke:#cccccc;stroke-linejoin:miter"/></g><g id="line2d_32"><path d="M284.4 208.08L294.48 208.08L304.56 208.08" style="fill:none;stroke:#0000ff;stroke-width:1.5;stroke-linecap:square"/></g><g id="text_18"><text style="font-size:10px;text-anchor:start" x="312.38" y="211.62">I_L1</text></g><g id="line2d_33"><path d="M284.4 223.2L294.48 223.2L304.56 223.2" style="fill:none;stroke:#008000;stroke-width:1.5;stroke-linecap:square"/></g><g id="text_19"><text style="font-size:10px;text-anchor:start" x="312.38" y="226.8">I_L2</text></g><g id="line2d_34"><path d="M284.4 238.32L294.48 238.32L304.56 238.32" style="fill:none;stroke:#ffa500;stroke-width:1.5;stroke-linecap:square"/></g><g id="text_20"><text style="font-size:10px;text-anchor:start" x="312.38" y="241.98">I_L3</text></g></g></g><g id="axes_2"><g id="patch_8"><path d="M635.56 253.24L1133.73 253.24L1133.73 26.88L635.56 26.88z" style="fill:#ffffff"/></g><g id="patch_9"><path d="M1133.64 140.76L1133.64 140.76L1133.64 184.68L1133.64 184.68z" clip-path="url(#p5d44a16f98)" style="fill:#008000;fill-opacity:0.2;stroke-opacity:0.2;stroke:#008000;stroke-linejoin:miter"/></g><g id="patch_10"><path d="M1133.64 140.76L1133.64 140.76L1133.64 207L1133.64 207z" clip-path="url(#p5d44a16f98)" style="fill:#ffff00;fill-opacity:0.15;stroke-opacity:0.15;stroke:#ffff00;stroke-linejoin:miter"/></g><g id="patch_11"><path d="M1133.64 140.76L1133.64 140.76L1133.64 228.6L1133.64 228.6z" clip-path="url(#p5d44a16f98)" style="fill:#ff0000;fill-opacity:0.1;stroke-opacity:0.1;stroke:#ff0000;stroke-linejoin:miter"/></g><g id="matplotlib.axis_3"><g id="xtick_6"><g id="line2d_35"><path d="M636.12 253.8L636.12 27" clip-path="url(#p5d44a16f98)" style="fill:none;stroke:#b0b0b0;stroke-width:0.8;stroke-linecap:square"/></g><g id="line2d_36"><g><use x="636.12" y="253.8" style="stroke:#000000;stroke-width:0.8" href="#m1504cfccaf"/></g></g><g id="text_21"><text style="font-size:10px;text-anchor:middle" x="635.56" y="268.16">−1.0</text></g></g><g id="xtick_7"><g id="line2d_37"><path d="M735.48 253.8L735.48 27" clip-path="url(#p5d44a16f98)" style="fill:none;stroke:#b0b0b0;stroke-width:0.8;stroke-linecap:square"/></g><g id="line2d_38"><g><use x="735.48" y="253.8" style="stroke:#000000;stroke-width:0.8" href="#m1504cfccaf"/></g></g><g id="text_22"><text style="font-size:10px;text-anchor:middle" x="735.09" y="268.16">−0.8</text></g></g><g id="xtick_8"><g id="line2d_39"><path d="M834.84 253.8L834.84 27" clip-path="url(#p5d44a16f98)" style="fill:none;stroke:#b0b0b0;stroke-width:0.8;stroke-linecap:square"/></g><g id="line2d_40"><g><use x="834.84" y="253.8" style="stroke:#000000;stroke-width:0.8" href="#m1504cfccaf"/></g></g><g id="text_23"><text style="font-size:10px;text-anchor:middle" x="834.63" y="268.16">−0.6</text></g></g><g id="xtick_9"><g id="line2d_41"><path d="M934.2 253.8L934.2 27" clip-path="url(#p5d44a16f98)" style="fill:none;stroke:#b0b0b0;stroke-width:0.8;stroke-linecap:square"/></g><g id="line2d_42"><g><use x="934.2" y="253.8" style="stroke:#000000;stroke-width:0.8" href="#m1504cfccaf"/></g></g><g id="text_24"><text style="font-size:10px;text-anchor:middle" x="934.16" y="268.16">−0.4</text></g></g><g id="xtick_10"><g id="line2d_43"><path d="M1034.28 253.8L1034.28 27" clip-path="url(#p5d44a16f98)" style="fill:none;stroke:#b0b0b0;stroke-width:0.8;stroke-linecap:square"/></g><g id="line2d_44"><g><use x="1034.28" y="253.8" style="stroke:#000000;stroke-width:0.8" href="#m1504cfccaf"/></g></g><g id="text_25"><text style="font-size:10px;text-anchor:middle" x="1033.7" y="268.16">−0.2</text></g></g><g id="xtick_11"><g id="line2d_45"><path d="M1133.64 253.8L1133.64 27" clip-path="url(#p5d44a16f98)" style="fill:none;stroke:#b0b0b0;stroke-width:0.8;stroke-linecap:square"/></g><g id="line2d_46"><g><use x="1133.64" y="253.8" style="stroke:#000000;stroke-width:0.8" href="#m1504cfccaf"/></g></g><g id="text_26"><text style="font-size:10px;text-anchor:middle" x="1133.23" y="268.16">0.0</text></g></g><g id="text_27"><text style="font-size:10px;text-anchor:middle" x="884.64" y="282.24">R [Ohm]</text></g></g><g id="matplotlib.axis_4"><g id="ytick_10"><g id="line2d_47"><path d="M636.12 52.92L1134.36 52.92" clip-path="url(#p5d44a16f98)" style="fill:none;stroke:#b0b0b0;stroke-width:0.8;stroke-linecap:square"/></g><g id="line2d_48"><g><use x="636.12" y="52.92" style="stroke:#000000;stroke-width:0.8" href="#m5d545ce8f8"/></g></g><g id="text_28"><text style="font-size:10px;text-anchor:end" x="628.56" y="56.52">−0.0002</text></g></g><g id="ytick_11"><g id="line2d_49"><path d="M636.12 96.84L1134.36 96.84" clip-path="url(#p5d44a16f98)" style="fill:none;stroke:#b0b0b0;stroke-width:0.8;stroke-linecap:square"/></g><g id="line2d_50"><g><use x="636.12" y="96.84" style="stroke:#000000;stroke-width:0.8" href="#m5d545ce8f8"/></g></g><g id="text_29"><text style="font-size:10px;text-anchor:end" x="628.56" y="100.44">−0.0001</text></g></g><g id="ytick_12"><g id="line2d_51"><path d="M636.12 140.76L1134.36 140.76" clip-path="url(#p5d44a16f98)" style="fill:none;stroke:#b0b0b0;stroke-width:0.8;stroke-linecap:square"/></g><g id="line2d_52"><g><use x="636.12" y="140.76" style="stroke:#000000;stroke-width:0.8" href="#m5d545ce8f8"/></g></g><g id="text_30"><text style="font-size:10px;text-anchor:end" x="628.56" y="144.36">0.0000</text></g></g><g id="ytick_13"><g id="line2d_53"><path d="M636.12 184.68L1134.36 184.68" clip-path="url(#p5d44a16f98)" style="fill:none;stroke:#b0b0b0;stroke-width:0.8;stroke-linecap:square"/></g><g id="line2d_54"><g><use x="636.12" y="184.68" style="stroke:#000000;stroke-width:0.8" href="#m5d545ce8f8"/></g></g><g id="text_31"><text style="font-size:10px;text-anchor:end" x="628.56" y="188.28">0.0001</text></g></g><g id="ytick_14"><g id="line2d_55"><path d="M636.12 228.6L1134.36 228.6" clip-path="url(#p5d44a16f98)" style="fill:none;stroke:#b0b0b0;stroke-width:0.8;stroke-linecap:square"/></g><g id="line2d_56"><g><use x="636.12" y="228.6" style="stroke:#000000;stroke-width:0.8" href="#m5d545ce8f8"/></g></g><g id="text_32"><text style="font-size:10px;text-anchor:end" x="628.56" y="232.2">0.0002</text></g></g><g id="text_33"><text style="font-size:10px;text-anchor:middle" x="579.29" y="140.06" transform="rotate(-90 579.29 140.06)">X [Ohm]</text></g></g><g id="line2d_57"><path d="M1133.23 140.4L1133.26 228.24" clip-path="url(#p5d44a16f98)" style="fill:none;stroke-dasharray:3.7,1.6;stroke-dashoffset:0;stroke:#000000"/></g><g id="line2d_58"><path d="M1046.52 -0.36L1046.52 865.08M1132.92 -0.36L1132.92 865.08" clip-path="url(#p5d44a16f98)" style="fill:none;stroke:#0000ff;stroke-width:2;stroke-linecap:square"/></g><g id="line2d_59"><defs><path id="m9ddd6b55b9" d="M0 0.25C0.07 0.25 0.13 0.22 0.18 0.18C0.22 0.13 0.25 0.07 0.25 0C0.25 -0.07 0.22 -0.13 0.18 -0.18C0.13 -0.22 0.07 -0.25 0 -0.25C-0.07 -0.25 -0.13 -0.22 -0.18 -0.18C-0.22 -0.13 -0.25 -0.07 -0.25 0C-0.25 0.07 -0.22 0.13 -0.18 0.18C-0.13 0.22 -0.07 0.25 0 0.25z" style="stroke:#0000ff;stroke-opacity:0.3"/></defs><g clip-path="url(#p5d44a16f98)"><use x="1132.685" y="25.924" style="fill:#0000ff;fill-opacity:0.3;stroke:#0000ff;stroke-opacity:0.3" href="#m9ddd6b55b9"/><use x="1132.685" y="27.004" style="fill:#0000ff;fill-opacity:0.3;stroke:#0000ff;stroke-opacity:0.3" href="#m9ddd6b55b9"/><use x="1132.685" y="28.084" style="fill:#0000ff;fill-opacity:0.3;stroke:#0000ff;stroke-opacity:0.3" href="#m9ddd6b55b9"/><use x="1132.685" y="29.164" style="fill:#0000ff;fill-opacity:0.3;stroke:#0000ff;stroke-opacity:0.3" href="#m9ddd6b55b9"/><use x="1132.685" y="30.244" style="fill:#0000ff;fill-opacity:0.3;stroke:#0000ff;stroke-opacity:0.3" href="#m9ddd6b55b9"/><use x="1132.685" y="31.324" style="fill:#0000ff;fill-opacity:0.3;stroke:#0000ff;stroke-opacity:0.3" href="#m9ddd6b55b9"/><use x="1132.685" y="32.404" style="fill:#0000ff;fill-opacity:0.3;stroke:#0000ff;stroke-opacity:0.3" href="#m9ddd6b55b9"/><use x="1132.685" y="33.484" style="fill:#0000ff;fill-opacity:0.3;stroke:#0000ff;stroke-opacity:0.3" href="#m9ddd6b55b9"/><use x="1132.685" y="34.564" style="fill:#0000ff;fill-opacity:0.3;stroke:#0000ff;stroke-opacity:0.3" href="#m9ddd6b55b9"/><use x="1132.685" y="35.644" style="fill:#0000ff;fill-opacity:0.3;stroke:#0000ff;stroke-opacity:0.3" href="#m9ddd6b55b9"/><use x="1132.685" y="36.724" style="fill:#0000ff;fill-opacity:0.3;stroke:#0000ff;stroke-opacity:0.3" href="#m9ddd6b55b9"/><use x="1132.685" y="37.804" style="fill:#0000ff;fill-opacity:0.3;stroke:#0000ff;stroke-opacity:0.3" href="#m9ddd6b55b9"/><use x="1132.685" y="38.884" style="fill:#0000ff;fill-opacity:0.3;stroke:#0000ff;stroke-opacity:0.3" href="#m9ddd6b55b9"/><use x="1132.685" y="39.964" style="fill:#0000ff;fill-opacity:0.3;stroke:#0000ff;stroke-opacity:0.3" href="#m9ddd6b55b9"/><use x="1132.685" y="41.044" style="fill:#0000ff;fill-opacity:0.3;stroke:#0000ff;stroke-opacity:0.3" href="#m9ddd6b55b9"/><use x="1132.685" y="42.124" style="fill:#0000ff;fill-opacity:0.3;stroke:#0000ff;stroke-opacity:0.3" href="#m9ddd6b55b9"/><use x="1132.685" y="43.204" style="fill:#0000ff;fill-opacity:0.3;stroke:#0000ff;stroke-opacity:0.3" href="#m9ddd6b55b9"/><use x="1132.685" y="44.284" style="fill:#0000ff;fill-opacity:0.3;stroke:#0000ff;stroke-opacity:0.3" href="#m9ddd6b55b9"/><use x="1132.685" y="45.364" style="fill:#0000ff;fill-opacity:0.3;stroke:#0000ff;stroke-opacity:0.3" href="#m9ddd6b55b9"/><use x="1132.685" y="46.444" style="fill:#0000ff;fill-opacity:0.3;stroke:#0000ff;stroke-opacity:0.3" href="#m9ddd6b55b9"/><use x="1132.685" y="47.524" style="fill:#0000ff;fill-opacity:0.3;stroke:#0000ff;stroke-opacity:0.3" href="#m9ddd6b55b9"/><use x="1132.685" y="48.604" style="fill:#0000ff;fill-opacity:0.3;stroke:#0000ff;stroke-opacity:0.3" href="#m9ddd6b55b9"/><use x="1132.685" y="49.684" style="fill:#0000ff;fill-opacity:0.3;stroke:#0000ff;stroke-opacity:0.3" href="#m9ddd6b55b9"/><use x="1132.685" y="50.764" style="fill:#0000ff;fill-opacity:0.3;stroke:#0000ff;stroke-opacity:0.3" href="#m9ddd6b55b9"/><use x="1132.685" y="51.844" style="fill:#0000ff;fill-opacity:0.3;stroke:#0000ff;stroke-opacity:0.3" href="#m9ddd6b55b9"/><use x="1132.685" y="52.924" style="fill:#0000ff;fill-opacity:0.3;stroke:#0000ff;stroke-opacity:0.3" href="#m9ddd6b55b9"/><use x="1132.685" y="54.004" style="fill:#0000ff;fill-opacity:0.3;stroke:#0000ff;stroke-opacity:0.3" href="#m9ddd6b55b9"/><use x="1132.685" y="55.084" style="fill:#0000ff;fill-opacity:0.3;stroke:#0000ff;stroke-opacity:0.3" href="#m9ddd6b55b9"/><use x="1132.685" y="56.164" style="fill:#0000ff;fill-opacity:0.3;stroke:#0000ff;stroke-opacity:0.3" href="#m9ddd6b55b9"/><use x="1132.685" y="57.244" style="fill:#0000ff;fill-opacity:0.3;stroke:#0000ff;stroke-opacity:0.3" href="#m9ddd6b55b9"/><use x="1132.685" y="58.324" style="fill:#0000ff;fill-opacity:0.3;stroke:#0000ff;stroke-opacity:0.3" href="#m9ddd6b55b9"/><use x="1132.685" y="59.404" style="fill:#0000ff;fill-opacity:0.3;stroke:#0000ff;stroke-opacity:0.3" href="#m9ddd6b55b9"/><use x="1132.685" y="60.484" style="fill:#0000ff;fill-opacity:0.3;stroke:#0000ff;stroke-opacity:0.3" href="#m9ddd6b55b9"/><use x="1132.685" y="61.564" style="fill:#0000ff;fill-opacity:0.3;stroke:#0000ff;stroke-opacity:0.3" href="#m9ddd6b55b9"/><use x="1132.685" y="62.644" style="fill:#0000ff;fill-opacity:0.3;stroke:#0000ff;stroke-opacity:0.3" href="#m9ddd6b55b9"/><use x="1132.685" y="63.724" style="fill:#0000ff;fill-opacity:0.3;stroke:#0000ff;stroke-opacity:0.3" href="#m9ddd6b55b9"/><use x="1132.685" y="64.804" style="fill:#0000ff;fill-opacity:0.3;stroke:#0000ff;stroke-opacity:0.3" href="#m9ddd6b55b9"/><use x="1132.685" y="65.884" style="fill:#0000ff;fill-opacity:0.3;stroke:#0000ff;stroke-opacity:0.3" href="#m9ddd6b55b9"/><use x="1132.685" y="66.964" style="fill:#0000ff;fill-opacity:0.3;stroke:#0000ff;stroke-opacity:0.3" href="#m9ddd6b55b9"/><use x="1132.685" y="68.044" style="fill:#0000ff;fill-opacity:0.3;stroke:#0000ff;stroke-opacity:0.3" href="#m9ddd6b55b9"/><use x="1132.685" y="69.124" style="fill:#0000ff;fill-opacity:0.3;stroke:#0000ff;stroke-opacity:0.3" href="#m9ddd6b55b9"/><use x="1132.685" y="70.204" style="fill:#0000ff;fill-opacity:0.3;stroke:#0000ff;stroke-opacity:0.3" href="#m9ddd6b55b9"/><use x="1132.685" y="71.284" style="fill:#0000ff;fill-opacity:0.3;stroke:#0000ff;stroke-opacity:0.3" href="#m9ddd6b55b9"/><use x="1132.685" y="72.364" style="fill:#0000ff;fill-opacity:0.3;stroke:#0000ff;stroke-opacity:0.3" href="#m9ddd6b55b9"/><use x="1132.685" y="73.444" style="fill:#0000ff;fill-opacity:0.3;stroke:#0000ff;stroke-opacity:0.3" href="#m9ddd6b55b9"/><use x="1132.685" y="74.524" style="fill:#0000ff;fill-opacity:0.3;stroke:#0000ff;stroke-opacity:0.3" href="#m9ddd6b55b9"/><use x="1132.685" y="75.604" style="fill:#0000ff;fill-opacity:0.3;stroke:#0000ff;stroke-opacity:0.3" href="#m9ddd6b55b9"/><use x="1132.685" y="76.684" style="fill:#0000ff;fill-opacity:0.3;stroke:#0000ff;stroke-opacity:0.3" href="#m9ddd6b55b9"/><use x="1132.685" y="77.764" style="fill:#0000ff;fill-opacity:0.3;stroke:#0000ff;stroke-opacity:0.3" href="#m9ddd6b55b9"/><use x="1132.685" y="78.844" style="fill:#0000ff;fill-opacity:0.3;stroke:#0000ff;stroke-opacity:0.3" href="#m9ddd6b55b9"/><use x="1132.685" y="79.924" style="fill:#0000ff;fill-opacity:0.3;stroke:#0000ff;stroke-opacity:0.3" href="#m9ddd6b55b9"/><use x="1132.685" y="81.004" style="fill:#0000ff;fill-opacity:0.3;stroke:#0000ff;stroke-opacity:0.3" href="#m9ddd6b55b9"/><use x="1132.685" y="82.084" style="fill:#0000ff;fill-opacity:0.3;stroke:#0000ff;stroke-opacity:0.3" href="#m9ddd6b55b9"/><use x="1132.685" y="83.164" style="fill:#0000ff;fill-opacity:0.3;stroke:#0000ff;stroke-opacity:0.3" href="#m9ddd6b55b9"/><use x="1132.685" y="84.243" style="fill:#0000ff;fill-opacity:0.3;stroke:#0000ff;stroke-opacity:0.3" href="#m9ddd6b55b9"/><use x="1132.685" y="85.323" style="fill:#0000ff;fill-opacity:0.3;stroke:#0000ff;stroke-opacity:0.3" href="#m9ddd6b55b9"/><use x="1132.685" y="86.403" style="fill:#0000ff;fill-opacity:0.3;stroke:#0000ff;stroke-opacity:0.3" href="#m9ddd6b55b9"/><use x="1132.685" y="87.483" style="fill:#0000ff;fill-opacity:0.3;stroke:#0000ff;stroke-opacity:0.3" href="#m9ddd6b55b9"/><use x="1132.685" y="88.563" style="fill:#0000ff;fill-opacity:0.3;stroke:#0000ff;stroke-opacity:0.3" href="#m9ddd6b55b9"/><use x="1132.685" y="89.643" style="fill:#0000ff;fill-opacity:0.3;stroke:#0000ff;stroke-opacity:0.3" href="#m9ddd6b55b9"/><use x="1132.685" y="90.723" style="fill:#0000ff;fill-opacity:0.3;stroke:#0000ff;stroke-opacity:0.3" href="#m9ddd6b55b9"/><use x="1132.685" y="91.803" style="fill:#0000ff;fill-opacity:0.3;stroke:#0000ff;stroke-opacity:0.3" href="#m9ddd6b55b9"/><use x="1132.685" y="92.883" style="fill:#0000ff;fill-opacity:0.3;stroke:#0000ff;stroke-opacity:0.3" href="#m9ddd6b55b9"/><use x="1132.685" y="93.963" style="fill:#0000ff;fill-opacity:0.3;stroke:#0000ff;stroke-opacity:0.3" href="#m9ddd6b55b9"/><use x="1132.685" y="95.043" style="fill:#0000ff;fill-opacity:0.3;stroke:#0000ff;stroke-opacity:0.3" href="#m9ddd6b55b9"/><use x="1132.685" y="96.123" style="fill:#0000ff;fill-opacity:0.3;stroke:#0000ff;stroke-opacity:0.3" href="#m9ddd6b55b9"/><use x="1132.685" y="97.203" style="fill:#0000ff;fill-opacity:0.3;stroke:#0000ff;stroke-opacity:0.3" href="#m9ddd6b55b9"/><use x="1132.685" y="98.283" style="fill:#0000ff;fill-opacity:0.3;stroke:#0000ff;stroke-opacity:0.3" href="#m9ddd6b55b9"/><use x="1132.685" y="99.363" style="fill:#0000ff;fill-opacity:0.3;stroke:#0000ff;stroke-opacity:0.3" href="#m9ddd6b55b9"/><use x="1132.685" y="100.443" style="fill:#0000ff;fill-opacity:0.3;stroke:#0000ff;stroke-opacity:0.3" href="#m9ddd6b55b9"/><use x="1132.685" y="101.523" style="fill:#0000ff;fill-opacity:0.3;stroke:#0000ff;stroke-opacity:0.3" href="#m9ddd6b55b9"/><use x="1132.685" y="102.603" style="fill:#0000ff;fill-opacity:0.3;stroke:#0000ff;stroke-opacity:0.3" href="#m9ddd6b55b9"/><use x="1132.685" y="103.683" style="fill:#0000ff;fill-opacity:0.3;stroke:#0000ff;stroke-opacity:0.3" href="#m9ddd6b55b9"/><use x="1132.685" y="104.763" style="fill:#0000ff;fill-opacity:0.3;stroke:#0000ff;stroke-opacity:0.3" href="#m9ddd6b55b9"/><use x="1132.685" y="105.843" style="fill:#0000ff;fill-opacity:0.3;stroke:#0000ff;stroke-opacity:0.3" href="#m9ddd6b55b9"/><use x="1132.685" y="106.923" style="fill:#0000ff;fill-opacity:0.3;stroke:#0000ff;stroke-opacity:0.3" href="#m9ddd6b55b9"/><use x="1132.685" y="108.003" style="fill:#0000ff;fill-opacity:0.3;stroke:#0000ff;stroke-opacity:0.3" href="#m9ddd6b55b9"/><use x="1132.685" y="109.083" style="fill:#0000ff;fill-opacity:0.3;stroke:#0000ff;stroke-opacity:0.3" href="#m9ddd6b55b9"/><use x="1132.685" y="110.163" style="fill:#0000ff;fill-opacity:0.3;stroke:#0000ff;stroke-opacity:0.3" href="#m9ddd6b55b9"/><use x="1132.685" y="111.243" style="fill:#0000ff;fill-opacity:0.3;stroke:#0000ff;stroke-opacity:0.3" href="#m9ddd6b55b9"/><use x="1132.685" y="112.323" style="fill:#0000ff;fill-opacity:0.3;stroke:#0000ff;stroke-opacity:0.3" href="#m9ddd6b55b9"/><use x="1132.685" y="113.403" style="fill:#0000ff;fill-opacity:0.3;stroke:#0000ff;stroke-opacity:0.3" href="#m9ddd6b55b9"/><use x="1132.685" y="114.483" style="fill:#0000ff;fill-opacity:0.3;stroke:#0000ff;stroke-opacity:0.3" href="#m9ddd6b55b9"/><use x="1132.685" y="115.563" style="fill:#0000ff;fill-opacity:0.3;stroke:#0000ff;stroke-opacity:0.3" href="#m9ddd6b55b9"/><use x="1132.685" y="116.643" style="fill:#0000ff;fill-opacity:0.3;stroke:#0000ff;stroke-opacity:0.3" href="#m9ddd6b55b9"/><use x="1132.685" y="117.723" style="fill:#0000ff;fill-opacity:0.3;stroke:#0000ff;stroke-opacity:0.3" href="#m9ddd6b55b9"/><use x="1132.685" y="118.803" style="fill:#0000ff;fill-opacity:0.3;stroke:#0000ff;stroke-opacity:0.3" href="#m9ddd6b55b9"/><use x="1132.685" y="119.883" style="fill:#0000ff;fill-opacity:0.3;stroke:#0000ff;stroke-opacity:0.3" href="#m9ddd6b55b9"/><use x="1132.685" y="120.963" style="fill:#0000ff;fill-opacity:0.3;stroke:#0000ff;stroke-opacity:0.3" href="#m9ddd6b55b9"/><use x="1132.685" y="122.043" style="fill:#0000ff;fill-opacity:0.3;stroke:#0000ff;stroke-opacity:0.3" href="#m9ddd6b55b9"/><use x="1132.685" y="123.123" style="fill:#0000ff;fill-opacity:0.3;stroke:#0000ff;stroke-opacity:0.3" href="#m9ddd6b55b9"/><use x="1132.685" y="124.203" style="fill:#0000ff;fill-opacity:0.3;stroke:#0000ff;stroke-opacity:0.3" href="#m9ddd6b55b9"/><use x="1132.685" y="125.283" style="fill:#0000ff;fill-opacity:0.3;stroke:#0000ff;stroke-opacity:0.3" href="#m9ddd6b55b9"/><use x="1132.685" y="126.363" style="fill:#0000ff;fill-opacity:0.3;stroke:#0000ff;stroke-opacity:0.3" href="#m9ddd6b55b9"/><use x="1132.685" y="127.443" style="fill:#0000ff;fill-opacity:0.3;stroke:#0000ff;stroke-opacity:0.3" href="#m9ddd6b55b9"/><use x="1132.685" y="128.523" style="fill:#0000ff;fill-opacity:0.3;stroke:#0000ff;stroke-opacity:0.3" href="#m9ddd6b55b9"/><use x="1132.685" y="129.603" style="fill:#0000ff;fill-opacity:0.3;stroke:#0000ff;stroke-opacity:0.3" href="#m9ddd6b55b9"/><use x="1132.685" y="130.683" style="fill:#0000ff;fill-opacity:0.3;stroke:#0000ff;stroke-opacity:0.3" href="#m9ddd6b55b9"/><use x="1132.685" y="131.763" style="fill:#0000ff;fill-opacity:0.3;stroke:#0000ff;stroke-opacity:0.3" href="#m9ddd6b55b9"/><use x="1132.685" y="132.843" style="fill:#0000ff;fill-opacity:0.3;stroke:#0000ff;stroke-opacity:0.3" href="#m9ddd6b55b9"/><use x="1132.685" y="133.923" style="fill:#0000ff;fill-opacity:0.3;stroke:#0000ff;stroke-opacity:0.3" href="#m9ddd6b55b9"/><use x="1132.685" y="135.003" style="fill:#0000ff;fill-opacity:0.3;stroke:#0000ff;stroke-opacity:0.3" href="#m9ddd6b55b9"/><use x="1132.685" y="136.083" style="fill:#0000ff;fill-opacity:0.3;stroke:#0000ff;stroke-opacity:0.3" href="#m9ddd6b55b9"/><use x="1132.685" y="137.163" style="fill:#0000ff;fill-opacity:0.3;stroke:#0000ff;stroke-opacity:0.3" href="#m9ddd6b55b9"/><use x="1132.685" y="138.243" style="fill:#0000ff;fill-opacity:0.3;stroke:#0000ff;stroke-opacity:0.3" href="#m9ddd6b55b9"/><use x="1132.685" y="139.323" style="fill:#0000ff;fill-opacity:0.3;stroke:#0000ff;stroke-opacity:0.3" href="#m9ddd6b55b9"/><use x="1132.685" y="140.403" style="fill:#0000ff;fill-opacity:0.3;stroke:#0000ff;stroke-opacity:0.3" href="#m9ddd6b55b9"/><use x="1132.685" y="141.483" style="fill:#0000ff;fill-opacity:0.3;stroke:#0000ff;stroke-opacity:0.3" href="#m9ddd6b55b9"/><use x="1132.685" y="142.563" style="fill:#0000ff;fill-opacity:0.3;stroke:#0000ff;stroke-opacity:0.3" href="#m9ddd6b55b9"/><use x="1132.685" y="143.643" style="fill:#0000ff;fill-opacity:0.3;stroke:#0000ff;stroke-opacity:0.3" href="#m9ddd6b55b9"/><use x="1132.685" y="144.722" style="fill:#0000ff;fill-opacity:0.3;stroke:#0000ff;stroke-opacity:0.3" href="#m9ddd6b55b9"/><use x="1132.685" y="145.802" style="fill:#0000ff;fill-opacity:0.3;stroke:#0000ff;stroke-opacity:0.3" href="#m9ddd6b55b9"/><use x="1132.685" y="146.882" style="fill:#0000ff;fill-opacity:0.3;stroke:#0000ff;stroke-opacity:0.3" href="#m9ddd6b55b9"/><use x="1132.685" y="147.962" style="fill:#0000ff;fill-opacity:0.3;stroke:#0000ff;stroke-opacity:0.3" href="#m9ddd6b55b9"/><use x="1132.685" y="149.042" style="fill:#0000ff;fill-opacity:0.3;stroke:#0000ff;stroke-opacity:0.3" href="#m9ddd6b55b9"/><use x="1132.685" y="150.122" style="fill:#0000ff;fill-opacity:0.3;stroke:#0000ff;stroke-opacity:0.3" href="#m9ddd6b55b9"/><use x="1132.685" y="151.202" style="fill:#0000ff;fill-opacity:0.3;stroke:#0000ff;stroke-opacity:0.3" href="#m9ddd6b55b9"/><use x="1132.685" y="152.282" style="fill:#0000ff;fill-opacity:0.3;stroke:#0000ff;stroke-opacity:0.3" href="#m9ddd6b55b9"/><use x="1132.685" y="153.362" style="fill:#0000ff;fill-opacity:0.3;stroke:#0000ff;stroke-opacity:0.3" href="#m9ddd6b55b9"/><use x="1132.685" y="154.442" style="fill:#0000ff;fill-opacity:0.3;stroke:#0000ff;stroke-opacity:0.3" href="#m9ddd6b55b9"/><use x="1132.685" y="155.522" style="fill:#0000ff;fill-opacity:0.3;stroke:#0000ff;stroke-opacity:0.3" href="#m9ddd6b55b9"/><use x="1132.685" y="156.602" style="fill:#0000ff;fill-opacity:0.3;stroke:#0000ff;stroke-opacity:0.3" href="#m9ddd6b55b9"/><use x="1132.685" y="157.682" style="fill:#0000ff;fill-opacity:0.3;stroke:#0000ff;stroke-opacity:0.3" href="#m9ddd6b55b9"/><use x="1132.685" y="158.762" style="fill:#0000ff;fill-opacity:0.3;stroke:#0000ff;stroke-opacity:0.3" href="#m9ddd6b55b9"/><use x="1132.685" y="159.842" style="fill:#0000ff;fill-opacity:0.3;stroke:#0000ff;stroke-opacity:0.3" href="#m9ddd6b55b9"/><use x="1132.685" y="160.922" style="fill:#0000ff;fill-opacity:0.3;stroke:#0000ff;stroke-opacity:0.3" href="#m9ddd6b55b9"/><use x="1132.685" y="162.002" style="fill:#0000ff;fill-opacity:0.3;stroke:#0000ff;stroke-opacity:0.3" href="#m9ddd6b55b9"/><use x="1132.685" y="163.082" style="fill:#0000ff;fill-opacity:0.3;stroke:#0000ff;stroke-opacity:0.3" href="#m9ddd6b55b9"/><use x="1132.685" y="164.162" style="fill:#0000ff;fill-opacity:0.3;stroke:#0000ff;stroke-opacity:0.3" href="#m9ddd6b55b9"/><use x="1132.685" y="165.242" style="fill:#0000ff;fill-opacity:0.3;stroke:#0000ff;stroke-opacity:0.3" href="#m9ddd6b55b9"/><use x="1132.685" y="166.322" style="fill:#0000ff;fill-opacity:0.3;stroke:#0000ff;stroke-opacity:0.3" href="#m9ddd6b55b9"/><use x="1132.685" y="167.402" style="fill:#0000ff;fill-opacity:0.3;stroke:#0000ff;stroke-opacity:0.3" href="#m9ddd6b55b9"/><use x="1132.685" y="168.482" style="fill:#0000ff;fill-opacity:0.3;stroke:#0000ff;stroke-opacity:0.3" href="#m9ddd6b55b9"/><use x="1132.685" y="169.562" style="fill:#0000ff;fill-opacity:0.3;stroke:#0000ff;stroke-opacity:0.3" href="#m9ddd6b55b9"/><use x="1132.685" y="170.642" style="fill:#0000ff;fill-opacity:0.3;stroke:#0000ff;stroke-opacity:0.3" href="#m9ddd6b55b9"/><use x="1132.685" y="171.722" style="fill:#0000ff;fill-opacity:0.3;stroke:#0000ff;stroke-opacity:0.3" href="#m9ddd6b55b9"/><use x="1132.685" y="172.802" style="fill:#0000ff;fill-opacity:0.3;stroke:#0000ff;stroke-opacity:0.3" href="#m9ddd6b55b9"/><use x="1132.685" y="173.882" style="fill:#0000ff;fill-opacity:0.3;stroke:#0000ff;stroke-opacity:0.3" href="#m9ddd6b55b9"/><use x="1132.685" y="174.962" style="fill:#0000ff;fill-opacity:0.3;stroke:#0000ff;stroke-opacity:0.3" href="#m9ddd6b55b9"/><use x="1132.685" y="176.042" style="fill:#0000ff;fill-opacity:0.3;stroke:#0000ff;stroke-opacity:0.3" href="#m9ddd6b55b9"/><use x="1132.685" y="177.122" style="fill:#0000ff;fill-opacity:0.3;stroke:#0000ff;stroke-opacity:0.3" href="#m9ddd6b55b9"/><use x="1132.685" y="178.202" style="fill:#0000ff;fill-opacity:0.3;stroke:#0000ff;stroke-opacity:0.3" href="#m9ddd6b55b9"/><use x="1132.685" y="179.282" style="fill:#0000ff;fill-opacity:0.3;stroke:#0000ff;stroke-opacity:0.3" href="#m9ddd6b55b9"/><use x="1132.685" y="180.362" style="fill:#0000ff;fill-opacity:0.3;stroke:#0000ff;stroke-opacity:0.3" href="#m9ddd6b55b9"/><use x="1132.685" y="181.442" style="fill:#0000ff;fill-opacity:0.3;stroke:#0000ff;stroke-opacity:0.3" href="#m9ddd6b55b9"/><use x="1132.685" y="182.522" style="fill:#0000ff;fill-opacity:0.3;stroke:#0000ff;stroke-opacity:0.3" href="#m9ddd6b55b9"/><use x="1132.685" y="183.602" style="fill:#0000ff;fill-opacity:0.3;stroke:#0000ff;stroke-opacity:0.3" href="#m9ddd6b55b9"/><use x="1132.685" y="184.682" style="fill:#0000ff;fill-opacity:0.3;stroke:#0000ff;stroke-opacity:0.3" href="#m9ddd6b55b9"/><use x="1132.685" y="185.762" style="fill:#0000ff;fill-opacity:0.3;stroke:#0000ff;stroke-opacity:0.3" href="#m9ddd6b55b9"/><use x="1132.685" y="186.842" style="fill:#0000ff;fill-opacity:0.3;stroke:#0000ff;stroke-opacity:0.3" href="#m9ddd6b55b9"/><use x="1132.685" y="187.922" style="fill:#0000ff;fill-opacity:0.3;stroke:#0000ff;stroke-opacity:0.3" href="#m9ddd6b55b9"/><use x="1132.685" y="189.002" style="fill:#0000ff;fill-opacity:0.3;stroke:#0000ff;stroke-opacity:0.3" href="#m9ddd6b55b9"/><use x="1132.685" y="190.082" style="fill:#0000ff;fill-opacity:0.3;stroke:#0000ff;stroke-opacity:0.3" href="#m9ddd6b55b9"/><use x="1132.685" y="191.162" style="fill:#0000ff;fill-opacity:0.3;stroke:#0000ff;stroke-opacity:0.3" href="#m9ddd6b55b9"/><use x="1132.685" y="192.242" style="fill:#0000ff;fill-opacity:0.3;stroke:#0000ff;stroke-opacity:0.3" href="#m9ddd6b55b9"/><use x="1132.685" y="193.322" style="fill:#0000ff;fill-opacity:0.3;stroke:#0000ff;stroke-opacity:0.3" href="#m9ddd6b55b9"/><use x="1132.685" y="194.402" style="fill:#0000ff;fill-opacity:0.3;stroke:#0000ff;stroke-opacity:0.3" href="#m9ddd6b55b9"/><use x="1132.685" y="195.482" style="fill:#0000ff;fill-opacity:0.3;stroke:#0000ff;stroke-opacity:0.3" href="#m9ddd6b55b9"/><use x="1132.685" y="196.562" style="fill:#0000ff;fill-opacity:0.3;stroke:#0000ff;stroke-opacity:0.3" href="#m9ddd6b55b9"/><use x="1132.685" y="197.642" style="fill:#0000ff;fill-opacity:0.3;stroke:#0000ff;stroke-opacity:0.3" href="#m9ddd6b55b9"/><use x="1132.685" y="198.722" style="fill:#0000ff;fill-opacity:0.3;stroke:#0000ff;stroke-opacity:0.3" href="#m9ddd6b55b9"/><use x="1132.685" y="199.802" style="fill:#0000ff;fill-opacity:0.3;stroke:#0000ff;stroke-opacity:0.3" href="#m9ddd6b55b9"/><use x="1132.685" y="200.882" style="fill:#0000ff;fill-opacity:0.3;stroke:#0000ff;stroke-opacity:0.3" href="#m9ddd6b55b9"/><use x="1132.685" y="201.962" style="fill:#0000ff;fill-opacity:0.3;stroke:#0000ff;stroke-opacity:0.3" href="#m9ddd6b55b9"/><use x="1132.685" y="203.042" style="fill:#0000ff;fill-opacity:0.3;stroke:#0000ff;stroke-opacity:0.3" href="#m9ddd6b55b9"/><use x="1132.685" y="204.122" style="fill:#0000ff;fill-opacity:0.3;stroke:#0000ff;stroke-opacity:0.3" href="#m9ddd6b55b9"/><use x="1132.685" y="205.202" style="fill:#0000ff;fill-opacity:0.3;stroke:#0000ff;stroke-opacity:0.3" href="#m9ddd6b55b9"/><use x="1132.685" y="206.281" style="fill:#0000ff;fill-opacity:0.3;stroke:#0000ff;stroke-opacity:0.3" href="#m9ddd6b55b9"/><use x="1132.685" y="207.361" style="fill:#0000ff;fill-opacity:0.3;stroke:#0000ff;stroke-opacity:0.3" href="#m9ddd6b55b9"/><use x="1132.685" y="208.441" style="fill:#0000ff;fill-opacity:0.3;stroke:#0000ff;stroke-opacity:0.3" href="#m9ddd6b55b9"/><use x="1132.685" y="209.521" style="fill:#0000ff;fill-opacity:0.3;stroke:#0000ff;stroke-opacity:0.3" href="#m9ddd6b55b9"/><use x="1132.685" y="210.601" style="fill:#0000ff;fill-opacity:0.3;stroke:#0000ff;stroke-opacity:0.3" href="#m9ddd6b55b9"/><use x="1132.685" y="211.681" style="fill:#0000ff;fill-opacity:0.3;stroke:#0000ff;stroke-opacity:0.3" href="#m9ddd6b55b9"/><use x="1132.685" y="212.761" style="fill:#0000ff;fill-opacity:0.3;stroke:#0000ff;stroke-opacity:0.3" href="#m9ddd6b55b9"/><use x="1132.685" y="213.841" style="fill:#0000ff;fill-opacity:0.3;stroke:#0000ff;stroke-opacity:0.3" href="#m9ddd6b55b9"/><use x="1132.685" y="214.921" style="fill:#0000ff;fill-opacity:0.3;stroke:#0000ff;stroke-opacity:0.3" href="#m9ddd6b55b9"/><use x="1132.685" y="216.001" style="fill:#0000ff;fill-opacity:0.3;stroke:#0000ff;stroke-opacity:0.3" href="#m9ddd6b55b9"/><use x="1132.685" y="217.081" style="fill:#0000ff;fill-opacity:0.3;stroke:#0000ff;stroke-opacity:0.3" href="#m9ddd6b55b9"/><use x="1132.685" y="218.161" style="fill:#0000ff;fill-opacity:0.3;stroke:#0000ff;stroke-opacity:0.3" href="#m9ddd6b55b9"/><use x="1132.685" y="219.241" style="fill:#0000ff;fill-opacity:0.3;stroke:#0000ff;stroke-opacity:0.3" href="#m9ddd6b55b9"/><use x="1132.685" y="220.321" style="fill:#0000ff;fill-opacity:0.3;stroke:#0000ff;stroke-opacity:0.3" href="#m9ddd6b55b9"/><use x="1132.685" y="221.401" style="fill:#0000ff;fill-opacity:0.3;stroke:#0000ff;stroke-opacity:0.3" href="#m9ddd6b55b9"/><use x="1132.685" y="222.481" style="fill:#0000ff;fill-opacity:0.3;stroke:#0000ff;stroke-opacity:0.3" href="#m9ddd6b55b9"/><use x="1132.685" y="223.561" style="fill:#0000ff;fill-opacity:0.3;stroke:#0000ff;stroke-opacity:0.3" href="#m9ddd6b55b9"/><use x="1132.685" y="224.641" style="fill:#0000ff;fill-opacity:0.3;stroke:#0000ff;stroke-opacity:0.3" href="#m9ddd6b55b9"/><use x="1132.685" y="225.721" style="fill:#0000ff;fill-opacity:0.3;stroke:#0000ff;stroke-opacity:0.3" href="#m9ddd6b55b9"/><use x="1132.685" y="226.801" style="fill:#0000ff;fill-opacity:0.3;stroke:#0000ff;stroke-opacity:0.3" href="#m9ddd6b55b9"/><use x="1132.685" y="227.881" style="fill:#0000ff;fill-opacity:0.3;stroke:#0000ff;stroke-opacity:0.3" href="#m9ddd6b55b9"/><use x="1132.685" y="228.961" style="fill:#0000ff;fill-opacity:0.3;stroke:#0000ff;stroke-opacity:0.3" href="#m9ddd6b55b9"/><use x="1132.685" y="230.041" style="fill:#0000ff;fill-opacity:0.3;stroke:#0000ff;stroke-opacity:0.3" href="#m9ddd6b55b9"/><use x="1132.685" y="231.121" style="fill:#0000ff;fill-opacity:0.3;stroke:#0000ff;stroke-opacity:0.3" href="#m9ddd6b55b9"/><use x="1132.685" y="232.201" style="fill:#0000ff;fill-opacity:0.3;stroke:#0000ff;stroke-opacity:0.3" href="#m9ddd6b55b9"/><use x="1132.685" y="233.281" style="fill:#0000ff;fill-opacity:0.3;stroke:#0000ff;stroke-opacity:0.3" href="#m9ddd6b55b9"/><use x="1132.685" y="234.361" style="fill:#0000ff;fill-opacity:0.3;stroke:#0000ff;stroke-opacity:0.3" href="#m9ddd6b55b9"/><use x="1132.685" y="235.441" style="fill:#0000ff;fill-opacity:0.3;stroke:#0000ff;stroke-opacity:0.3" href="#m9ddd6b55b9"/><use x="1132.685" y="236.521" style="fill:#0000ff;fill-opacity:0.3;stroke:#0000ff;stroke-opacity:0.3" href="#m9ddd6b55b9"/><use x="1132.685" y="237.601" style="fill:#0000ff;fill-opacity:0.3;stroke:#0000ff;stroke-opacity:0.3" href="#m9ddd6b55b9"/><use x="1132.685" y="238.681" style="fill:#0000ff;fill-opacity:0.3;stroke:#0000ff;stroke-opacity:0.3" href="#m9ddd6b55b9"/><use x="1132.685" y="239.761" style="fill:#0000ff;fill-opacity:0.3;stroke:#0000ff;stroke-opacity:0.3" href="#m9ddd6b55b9"/><use x="1132.685" y="240.841" style="fill:#0000ff;fill-opacity:0.3;stroke:#0000ff;stroke-opacity:0.3" href="#m9ddd6b55b9"/><use x="1132.685" y="241.921" style="fill:#0000ff;fill-opacity:0.3;stroke:#0000ff;stroke-opacity:0.3" href="#m9ddd6b55b9"/><use x="1132.685" y="243.001" style="fill:#0000ff;fill-opacity:0.3;stroke:#0000ff;stroke-opacity:0.3" href="#m9ddd6b55b9"/><use x="1132.685" y="244.081" style="fill:#0000ff;fill-opacity:0.3;stroke:#0000ff;stroke-opacity:0.3" href="#m9ddd6b55b9"/><use x="1132.685" y="245.161" style="fill:#0000ff;fill-opacity:0.3;stroke:#0000ff;stroke-opacity:0.3" href="#m9ddd6b55b9"/><use x="1132.685" y="246.241" style="fill:#0000ff;fill-opacity:0.3;stroke:#0000ff;stroke-opacity:0.3" href="#m9ddd6b55b9"/><use x="1132.685" y="247.321" style="fill:#0000ff;fill-opacity:0.3;stroke:#0000ff;stroke-opacity:0.3" href="#m9ddd6b55b9"/><use x="1132.685" y="248.401" style="fill:#0000ff;fill-opacity:0.3;stroke:#0000ff;stroke-opacity:0.3" href="#m9ddd6b55b9"/><use x="1132.685" y="249.481" style="fill:#0000ff;fill-opacity:0.3;stroke:#0000ff;stroke-opacity:0.3" href="#m9ddd6b55b9"/><use x="1132.685" y="250.561" style="fill:#0000ff;fill-opacity:0.3;stroke:#0000ff;stroke-opacity:0.3" href="#m9ddd6b55b9"/><use x="1132.685" y="251.641" style="fill:#0000ff;fill-opacity:0.3;stroke:#0000ff;stroke-opacity:0.3" href="#m9ddd6b55b9"/><use x="1132.685" y="252.721" style="fill:#0000ff;fill-opacity:0.3;stroke:#0000ff;stroke-opacity:0.3" href="#m9ddd6b55b9"/><use x="1132.685" y="253.801" style="fill:#0000ff;fill-opacity:0.3;stroke:#0000ff;stroke-opacity:0.3" href="#m9ddd6b55b9"/></g></g><g id="line2d_60"><defs><path id="m09cc9a606d" d="M0 0.25C0.07 0.25 0.13 0.22 0.18 0.18C0.22 0.13 0.25 0.07 0.25 0C0.25 -0.07 0.22 -0.13 0.18 -0.18C0.13 -0.22 0.07 -0.25 0 -0.25C-0.07 -0.25 -0.13 -0.22 -0.18 -0.18C-0.22 -0.13 -0.25 -0.07 -0.25 0C-0.25 0.07 -0.22 0.13 -0.18 0.18C-0.13 0.22 -0.07 0.25 0 0.25z" style="stroke:#008000;stroke-opacity:0.5"/></defs><g clip-path="url(#p5d44a16f98)"><use x="1132.685" y="103.323" style="fill:#008000;fill-opacity:0.5;stroke:#008000;stroke-opacity:0.5" href="#m09cc9a606d"/><use x="1132.685" y="104.403" style="fill:#008000;fill-opacity:0.5;stroke:#008000;stroke-opacity:0.5" href="#m09cc9a606d"/></g></g><g id="line2d_61"><defs><path id="m63e0c51bf4" d="M0 0.25C0.07 0.25 0.13 0.22 0.18 0.18C0.22 0.13 0.25 0.07 0.25 0C0.25 -0.07 0.22 -0.13 0.18 -0.18C0.13 -0.22 0.07 -0.25 0 -0.25C-0.07 -0.25 -0.13 -0.22 -0.18 -0.18C-0.22 -0.13 -0.25 -0.07 -0.25 0C-0.25 0.07 -0.22 0.13 -0.18 0.18C-0.13 0.22 -0.07 0.25 0 0.25z" style="stroke:#ffa500;stroke-opacity:0.7"/></defs><g clip-path="url(#p5d44a16f98)"><use x="1132.685" y="25.924" style="fill:#ffa500;fill-opacity:0.7;stroke:#ffa500;stroke-opacity:0.7" href="#m63e0c51bf4"/><use x="1132.685" y="26.428" style="fill:#ffa500;fill-opacity:0.7;stroke:#ffa500;stroke-opacity:0.7" href="#m63e0c51bf4"/><use x="1132.685" y="26.932" style="fill:#ffa500;fill-opacity:0.7;stroke:#ffa500;stroke-opacity:0.7" href="#m63e0c51bf4"/><use x="1132.685" y="27.436" style="fill:#ffa500;fill-opacity:0.7;stroke:#ffa500;stroke-opacity:0.7" href="#m63e0c51bf4"/><use x="1132.685" y="27.94" style="fill:#ffa500;fill-opacity:0.7;stroke:#ffa500;stroke-opacity:0.7" href="#m63e0c51bf4"/><use x="1132.685" y="28.444" style="fill:#ffa500;fill-opacity:0.7;stroke:#ffa500;stroke-opacity:0.7" href="#m63e0c51bf4"/><use x="1132.685" y="28.948" style="fill:#ffa500;fill-opacity:0.7;stroke:#ffa500;stroke-opacity:0.7" href="#m63e0c51bf4"/><use x="1132.685" y="54.004" style="fill:#ffa500;fill-opacity:0.7;stroke:#ffa500;stroke-opacity:0.7" href="#m63e0c51bf4"/><use x="1132.685" y="54.508" style="fill:#ffa500;fill-opacity:0.7;stroke:#ffa500;stroke-opacity:0.7" href="#m63e0c51bf4"/><use x="1132.685" y="55.012" style="fill:#ffa500;fill-opacity:0.7;stroke:#ffa500;stroke-opacity:0.7" href="#m63e0c51bf4"/><use x="1132.685" y="55.516" style="fill:#ffa500;fill-opacity:0.7;stroke:#ffa500;stroke-opacity:0.7" href="#m63e0c51bf4"/><use x="1132.685" y="56.02" style="fill:#ffa500;fill-opacity:0.7;stroke:#ffa500;stroke-opacity:0.7" href="#m63e0c51bf4"/><use x="1132.685" y="56.524" style="fill:#ffa500;fill-opacity:0.7;stroke:#ffa500;stroke-opacity:0.7" href="#m63e0c51bf4"/><use x="1132.685" y="57.028" style="fill:#ffa500;fill-opacity:0.7;stroke:#ffa500;stroke-opacity:0.7" href="#m63e0c51bf4"/><use x="1132.685" y="57.532" style="fill:#ffa500;fill-opacity:0.7;stroke:#ffa500;stroke-opacity:0.7" href="#m63e0c51bf4"/><use x="1132.685" y="58.036" style="fill:#ffa500;fill-opacity:0.7;stroke:#ffa500;stroke-opacity:0.7" href="#m63e0c51bf4"/><use x="1132.685" y="58.54" style="fill:#ffa500;fill-opacity:0.7;stroke:#ffa500;stroke-opacity:0.7" href="#m63e0c51bf4"/><use x="1132.685" y="59.044" style="fill:#ffa500;fill-opacity:0.7;stroke:#ffa500;stroke-opacity:0.7" href="#m63e0c51bf4"/><use x="1132.685" y="59.548" style="fill:#ffa500;fill-opacity:0.7;stroke:#ffa500;stroke-opacity:0.7" href="#m63e0c51bf4"/><use x="1132.685" y="60.052" style="fill:#ffa500;fill-opacity:0.7;stroke:#ffa500;stroke-opacity:0.7" href="#m63e0c51bf4"/><use x="1132.685" y="60.556" style="fill:#ffa500;fill-opacity:0.7;stroke:#ffa500;stroke-opacity:0.7" href="#m63e0c51bf4"/><use x="1132.685" y="61.06" style="fill:#ffa500;fill-opacity:0.7;stroke:#ffa500;stroke-opacity:0.7" href="#m63e0c51bf4"/><use x="1132.685" y="61.564" style="fill:#ffa500;fill-opacity:0.7;stroke:#ffa500;stroke-opacity:0.7" href="#m63e0c51bf4"/><use x="1132.685" y="62.068" style="fill:#ffa500;fill-opacity:0.7;stroke:#ffa500;stroke-opacity:0.7" href="#m63e0c51bf4"/><use x="1132.685" y="62.572" style="fill:#ffa500;fill-opacity:0.7;stroke:#ffa500;stroke-opacity:0.7" href="#m63e0c51bf4"/><use x="1132.685" y="63.076" style="fill:#ffa500;fill-opacity:0.7;stroke:#ffa500;stroke-opacity:0.7" href="#m63e0c51bf4"/><use x="1132.685" y="63.58" style="fill:#ffa500;fill-opacity:0.7;stroke:#ffa500;stroke-opacity:0.7" href="#m63e0c51bf4"/><use x="1132.685" y="64.084" style="fill:#ffa500;fill-opacity:0.7;stroke:#ffa500;stroke-opacity:0.7" href="#m63e0c51bf4"/><use x="1132.685" y="64.588" style="fill:#ffa500;fill-opacity:0.7;stroke:#ffa500;stroke-opacity:0.7" href="#m63e0c51bf4"/><use x="1132.685" y="65.092" style="fill:#ffa500;fill-opacity:0.7;stroke:#ffa500;stroke-opacity:0.7" href="#m63e0c51bf4"/><use x="1132.685" y="65.596" style="fill:#ffa500;fill-opacity:0.7;stroke:#ffa500;stroke-opacity:0.7" href="#m63e0c51bf4"/><use x="1132.685" y="66.1" style="fill:#ffa500;fill-opacity:0.7;stroke:#ffa500;stroke-opacity:0.7" href="#m63e0c51bf4"/><use x="1132.685" y="66.604" style="fill:#ffa500;fill-opacity:0.7;stroke:#ffa500;stroke-opacity:0.7" href="#m63e0c51bf4"/><use x="1132.685" y="67.108" style="fill:#ffa500;fill-opacity:0.7;stroke:#ffa500;stroke-opacity:0.7" href="#m63e0c51bf4"/><use x="1132.685" y="67.612" style="fill:#ffa500;fill-opacity:0.7;stroke:#ffa500;stroke-opacity:0.7" href="#m63e0c51bf4"/><use x="1132.685" y="68.116" style="fill:#ffa500;fill-opacity:0.7;stroke:#ffa500;stroke-opacity:0.7" href="#m63e0c51bf4"/><use x="1132.685" y="74.164" style="fill:#ffa500;fill-opacity:0.7;stroke:#ffa500;stroke-opacity:0.7" href="#m63e0c51bf4"/><use x="1132.685" y="74.668" style="fill:#ffa500;fill-opacity:0.7;stroke:#ffa500;stroke-opacity:0.7" href="#m63e0c51bf4"/><use x="1132.685" y="75.172" style="fill:#ffa500;fill-opacity:0.7;stroke:#ffa500;stroke-opacity:0.7" href="#m63e0c51bf4"/><use x="1132.685" y="75.676" style="fill:#ffa500;fill-opacity:0.7;stroke:#ffa500;stroke-opacity:0.7" href="#m63e0c51bf4"/><use x="1132.685" y="76.18" style="fill:#ffa500;fill-opacity:0.7;stroke:#ffa500;stroke-opacity:0.7" href="#m63e0c51bf4"/><use x="1132.685" y="76.684" style="fill:#ffa500;fill-opacity:0.7;stroke:#ffa500;stroke-opacity:0.7" href="#m63e0c51bf4"/><use x="1132.685" y="77.188" style="fill:#ffa500;fill-opacity:0.7;stroke:#ffa500;stroke-opacity:0.7" href="#m63e0c51bf4"/><use x="1132.685" y="77.692" style="fill:#ffa500;fill-opacity:0.7;stroke:#ffa500;stroke-opacity:0.7" href="#m63e0c51bf4"/><use x="1132.685" y="78.196" style="fill:#ffa500;fill-opacity:0.7;stroke:#ffa500;stroke-opacity:0.7" href="#m63e0c51bf4"/><use x="1132.685" y="78.7" style="fill:#ffa500;fill-opacity:0.7;stroke:#ffa500;stroke-opacity:0.7" href="#m63e0c51bf4"/><use x="1132.685" y="79.204" style="fill:#ffa500;fill-opacity:0.7;stroke:#ffa500;stroke-opacity:0.7" href="#m63e0c51bf4"/><use x="1132.685" y="79.708" style="fill:#ffa500;fill-opacity:0.7;stroke:#ffa500;stroke-opacity:0.7" href="#m63e0c51bf4"/><use x="1132.685" y="80.212" style="fill:#ffa500;fill-opacity:0.7;stroke:#ffa500;stroke-opacity:0.7" href="#m63e0c51bf4"/><use x="1132.685" y="80.716" style="fill:#ffa500;fill-opacity:0.7;stroke:#ffa500;stroke-opacity:0.7" href="#m63e0c51bf4"/><use x="1132.685" y="81.22" style="fill:#ffa500;fill-opacity:0.7;stroke:#ffa500;stroke-opacity:0.7" href="#m63e0c51bf4"/><use x="1132.685" y="81.724" style="fill:#ffa500;fill-opacity:0.7;stroke:#ffa500;stroke-opacity:0.7" href="#m63e0c51bf4"/><use x="1132.685" y="82.228" style="fill:#ffa500;fill-opacity:0.7;stroke:#ffa500;stroke-opacity:0.7" href="#m63e0c51bf4"/><use x="1132.685" y="82.732" style="fill:#ffa500;fill-opacity:0.7;stroke:#ffa500;stroke-opacity:0.7" href="#m63e0c51bf4"/><use x="1132.685" y="83.236" style="fill:#ffa500;fill-opacity:0.7;stroke:#ffa500;stroke-opacity:0.7" href="#m63e0c51bf4"/><use x="1132.685" y="83.739" style="fill:#ffa500;fill-opacity:0.7;stroke:#ffa500;stroke-opacity:0.7" href="#m63e0c51bf4"/><use x="1132.685" y="84.243" style="fill:#ffa500;fill-opacity:0.7;stroke:#ffa500;stroke-opacity:0.7" href="#m63e0c51bf4"/><use x="1132.685" y="84.747" style="fill:#ffa500;fill-opacity:0.7;stroke:#ffa500;stroke-opacity:0.7" href="#m63e0c51bf4"/><use x="1132.685" y="85.251" style="fill:#ffa500;fill-opacity:0.7;stroke:#ffa500;stroke-opacity:0.7" href="#m63e0c51bf4"/><use x="1132.685" y="85.755" style="fill:#ffa500;fill-opacity:0.7;stroke:#ffa500;stroke-opacity:0.7" href="#m63e0c51bf4"/><use x="1132.685" y="86.259" style="fill:#ffa500;fill-opacity:0.7;stroke:#ffa500;stroke-opacity:0.7" href="#m63e0c51bf4"/><use x="1132.685" y="86.763" style="fill:#ffa500;fill-opacity:0.7;stroke:#ffa500;stroke-opacity:0.7" href="#m63e0c51bf4"/><use x="1132.685" y="87.267" style="fill:#ffa500;fill-opacity:0.7;stroke:#ffa500;stroke-opacity:0.7" href="#m63e0c51bf4"/><use x="1132.685" y="87.771" style="fill:#ffa500;fill-opacity:0.7;stroke:#ffa500;stroke-opacity:0.7" href="#m63e0c51bf4"/><use x="1132.685" y="88.275" style="fill:#ffa500;fill-opacity:0.7;stroke:#ffa500;stroke-opacity:0.7" href="#m63e0c51bf4"/><use x="1132.685" y="88.779" style="fill:#ffa500;fill-opacity:0.7;stroke:#ffa500;stroke-opacity:0.7" href="#m63e0c51bf4"/><use x="1132.685" y="89.283" style="fill:#ffa500;fill-opacity:0.7;stroke:#ffa500;stroke-opacity:0.7" href="#m63e0c51bf4"/><use x="1132.685" y="89.787" style="fill:#ffa500;fill-opacity:0.7;stroke:#ffa500;stroke-opacity:0.7" href="#m63e0c51bf4"/><use x="1132.685" y="92.523" style="fill:#ffa500;fill-opacity:0.7;stroke:#ffa500;stroke-opacity:0.7" href="#m63e0c51bf4"/><use x="1132.685" y="93.027" style="fill:#ffa500;fill-opacity:0.7;stroke:#ffa500;stroke-opacity:0.7" href="#m63e0c51bf4"/><use x="1132.685" y="93.531" style="fill:#ffa500;fill-opacity:0.7;stroke:#ffa500;stroke-opacity:0.7" href="#m63e0c51bf4"/><use x="1132.685" y="94.035" style="fill:#ffa500;fill-opacity:0.7;stroke:#ffa500;stroke-opacity:0.7" href="#m63e0c51bf4"/><use x="1132.685" y="94.539" style="fill:#ffa500;fill-opacity:0.7;stroke:#ffa500;stroke-opacity:0.7" href="#m63e0c51bf4"/><use x="1132.685" y="95.043" style="fill:#ffa500;fill-opacity:0.7;stroke:#ffa500;stroke-opacity:0.7" href="#m63e0c51bf4"/><use x="1132.685" y="95.547" style="fill:#ffa500;fill-opacity:0.7;stroke:#ffa500;stroke-opacity:0.7" href="#m63e0c51bf4"/><use x="1132.685" y="96.051" style="fill:#ffa500;fill-opacity:0.7;stroke:#ffa500;stroke-opacity:0.7" href="#m63e0c51bf4"/><use x="1132.685" y="96.555" style="fill:#ffa500;fill-opacity:0.7;stroke:#ffa500;stroke-opacity:0.7" href="#m63e0c51bf4"/><use x="1132.685" y="97.059" style="fill:#ffa500;fill-opacity:0.7;stroke:#ffa500;stroke-opacity:0.7" href="#m63e0c51bf4"/><use x="1132.685" y="97.563" style="fill:#ffa500;fill-opacity:0.7;stroke:#ffa500;stroke-opacity:0.7" href="#m63e0c51bf4"/><use x="1132.685" y="98.067" style="fill:#ffa500;fill-opacity:0.7;stroke:#ffa500;stroke-opacity:0.7" href="#m63e0c51bf4"/><use x="1132.685" y="98.571" style="fill:#ffa500;fill-opacity:0.7;stroke:#ffa500;stroke-opacity:0.7" href="#m63e0c51bf4"/><use x="1132.685" y="99.075" style="fill:#ffa500;fill-opacity:0.7;stroke:#ffa500;stroke-opacity:0.7" href="#m63e0c51bf4"/><use x="1132.685" y="99.579" style="fill:#ffa500;fill-opacity:0.7;stroke:#ffa500;stroke-opacity:0.7" href="#m63e0c51bf4"/><use x="1132.685" y="100.083" style="fill:#ffa500;fill-opacity:0.7;stroke:#ffa500;stroke-opacity:0.7" href="#m63e0c51bf4"/><use x="1132.685" y="100.587" style="fill:#ffa500;fill-opacity:0.7;stroke:#ffa500;stroke-opacity:0.7" href="#m63e0c51bf4"/><use x="1132.685" y="101.091" style="fill:#ffa500;fill-opacity:0.7;stroke:#ffa500;stroke-opacity:0.7" href="#m63e0c51bf4"/><use x="1132.685" y="101.595" style="fill:#ffa500;fill-opacity:0.7;stroke:#ffa500;stroke-opacity:0.7" href="#m63e0c51bf4"/><use x="1132.685" y="102.099" style="fill:#ffa500;fill-opacity:0.7;stroke:#ffa500;stroke-opacity:0.7" href="#m63e0c51bf4"/><use x="1132.685" y="102.603" style="fill:#ffa500;fill-opacity:0.7;stroke:#ffa500;stroke-opacity:0.7" href="#m63e0c51bf4"/><use x="1132.685" y="103.107" style="fill:#ffa500;fill-opacity:0.7;stroke:#ffa500;stroke-opacity:0.7" href="#m63e0c51bf4"/><use x="1132.685" y="103.611" style="fill:#ffa500;fill-opacity:0.7;stroke:#ffa500;stroke-opacity:0.7" href="#m63e0c51bf4"/><use x="1132.685" y="104.115" style="fill:#ffa500;fill-opacity:0.7;stroke:#ffa500;stroke-opacity:0.7" href="#m63e0c51bf4"/><use x="1132.685" y="104.619" style="fill:#ffa500;fill-opacity:0.7;stroke:#ffa500;stroke-opacity:0.7" href="#m63e0c51bf4"/><use x="1132.685" y="105.123" style="fill:#ffa500;fill-opacity:0.7;stroke:#ffa500;stroke-opacity:0.7" href="#m63e0c51bf4"/><use x="1132.685" y="105.627" style="fill:#ffa500;fill-opacity:0.7;stroke:#ffa500;stroke-opacity:0.7" href="#m63e0c51bf4"/><use x="1132.685" y="106.131" style="fill:#ffa500;fill-opacity:0.7;stroke:#ffa500;stroke-opacity:0.7" href="#m63e0c51bf4"/><use x="1132.685" y="106.635" style="fill:#ffa500;fill-opacity:0.7;stroke:#ffa500;stroke-opacity:0.7" href="#m63e0c51bf4"/><use x="1132.685" y="107.139" style="fill:#ffa500;fill-opacity:0.7;stroke:#ffa500;stroke-opacity:0.7" href="#m63e0c51bf4"/><use x="1132.685" y="107.643" style="fill:#ffa500;fill-opacity:0.7;stroke:#ffa500;stroke-opacity:0.7" href="#m63e0c51bf4"/><use x="1132.685" y="108.147" style="fill:#ffa500;fill-opacity:0.7;stroke:#ffa500;stroke-opacity:0.7" href="#m63e0c51bf4"/><use x="1132.685" y="108.651" style="fill:#ffa500;fill-opacity:0.7;stroke:#ffa500;stroke-opacity:0.7" href="#m63e0c51bf4"/><use x="1132.685" y="109.155" style="fill:#ffa500;fill-opacity:0.7;stroke:#ffa500;stroke-opacity:0.7" href="#m63e0c51bf4"/><use x="1132.685" y="109.659" style="fill:#ffa500;fill-opacity:0.7;stroke:#ffa500;stroke-opacity:0.7" href="#m63e0c51bf4"/><use x="1132.685" y="110.163" style="fill:#ffa500;fill-opacity:0.7;stroke:#ffa500;stroke-opacity:0.7" href="#m63e0c51bf4"/><use x="1132.685" y="110.667" style="fill:#ffa500;fill-opacity:0.7;stroke:#ffa500;stroke-opacity:0.7" href="#m63e0c51bf4"/><use x="1132.685" y="111.171" style="fill:#ffa500;fill-opacity:0.7;stroke:#ffa500;stroke-opacity:0.7" href="#m63e0c51bf4"/><use x="1132.685" y="111.675" style="fill:#ffa500;fill-opacity:0.7;stroke:#ffa500;stroke-opacity:0.7" href="#m63e0c51bf4"/><use x="1132.685" y="112.179" style="fill:#ffa500;fill-opacity:0.7;stroke:#ffa500;stroke-opacity:0.7" href="#m63e0c51bf4"/><use x="1132.685" y="112.683" style="fill:#ffa500;fill-opacity:0.7;stroke:#ffa500;stroke-opacity:0.7" href="#m63e0c51bf4"/><use x="1132.685" y="113.187" style="fill:#ffa500;fill-opacity:0.7;stroke:#ffa500;stroke-opacity:0.7" href="#m63e0c51bf4"/><use x="1132.685" y="113.691" style="fill:#ffa500;fill-opacity:0.7;stroke:#ffa500;stroke-opacity:0.7" href="#m63e0c51bf4"/><use x="1132.685" y="146.162" style="fill:#ffa500;fill-opacity:0.7;stroke:#ffa500;stroke-opacity:0.7" href="#m63e0c51bf4"/><use x="1132.685" y="146.666" style="fill:#ffa500;fill-opacity:0.7;stroke:#ffa500;stroke-opacity:0.7" href="#m63e0c51bf4"/><use x="1132.685" y="147.17" style="fill:#ffa500;fill-opacity:0.7;stroke:#ffa500;stroke-opacity:0.7" href="#m63e0c51bf4"/><use x="1132.685" y="147.674" style="fill:#ffa500;fill-opacity:0.7;stroke:#ffa500;stroke-opacity:0.7" href="#m63e0c51bf4"/><use x="1132.685" y="148.178" style="fill:#ffa500;fill-opacity:0.7;stroke:#ffa500;stroke-opacity:0.7" href="#m63e0c51bf4"/><use x="1132.685" y="148.682" style="fill:#ffa500;fill-opacity:0.7;stroke:#ffa500;stroke-opacity:0.7" href="#m63e0c51bf4"/><use x="1132.685" y="149.186" style="fill:#ffa500;fill-opacity:0.7;stroke:#ffa500;stroke-opacity:0.7" href="#m63e0c51bf4"/><use x="1132.685" y="149.69" style="fill:#ffa500;fill-opacity:0.7;stroke:#ffa500;stroke-opacity:0.7" href="#m63e0c51bf4"/><use x="1132.685" y="150.194" style="fill:#ffa500;fill-opacity:0.7;stroke:#ffa500;stroke-opacity:0.7" href="#m63e0c51bf4"/><use x="1132.685" y="150.698" style="fill:#ffa500;fill-opacity:0.7;stroke:#ffa500;stroke-opacity:0.7" href="#m63e0c51bf4"/><use x="1132.685" y="151.202" style="fill:#ffa500;fill-opacity:0.7;stroke:#ffa500;stroke-opacity:0.7" href="#m63e0c51bf4"/><use x="1132.685" y="151.706" style="fill:#ffa500;fill-opacity:0.7;stroke:#ffa500;stroke-opacity:0.7" href="#m63e0c51bf4"/><use x="1132.685" y="152.21" style="fill:#ffa500;fill-opacity:0.7;stroke:#ffa500;stroke-opacity:0.7" href="#m63e0c51bf4"/><use x="1132.685" y="152.714" style="fill:#ffa500;fill-opacity:0.7;stroke:#ffa500;stroke-opacity:0.7" href="#m63e0c51bf4"/><use x="1132.685" y="153.218" style="fill:#ffa500;fill-opacity:0.7;stroke:#ffa500;stroke-opacity:0.7" href="#m63e0c51bf4"/><use x="1132.685" y="29.812" style="fill:#ffa500;fill-opacity:0.7;stroke:#ffa500;stroke-opacity:0.7" href="#m63e0c51bf4"/><use x="1132.685" y="31.756" style="fill:#ffa500;fill-opacity:0.7;stroke:#ffa500;stroke-opacity:0.7" href="#m63e0c51bf4"/><use x="1132.685" y="32.404" style="fill:#ffa500;fill-opacity:0.7;stroke:#ffa500;stroke-opacity:0.7" href="#m63e0c51bf4"/><use x="1132.685" y="37.588" style="fill:#ffa500;fill-opacity:0.7;stroke:#ffa500;stroke-opacity:0.7" href="#m63e0c51bf4"/><use x="1132.685" y="39.532" style="fill:#ffa500;fill-opacity:0.7;stroke:#ffa500;stroke-opacity:0.7" href="#m63e0c51bf4"/><use x="1132.685" y="43.42" style="fill:#ffa500;fill-opacity:0.7;stroke:#ffa500;stroke-opacity:0.7" href="#m63e0c51bf4"/><use x="1132.685" y="46.66" style="fill:#ffa500;fill-opacity:0.7;stroke:#ffa500;stroke-opacity:0.7" href="#m63e0c51bf4"/><use x="1132.685" y="47.308" style="fill:#ffa500;fill-opacity:0.7;stroke:#ffa500;stroke-opacity:0.7" href="#m63e0c51bf4"/><use x="1132.685" y="47.956" style="fill:#ffa500;fill-opacity:0.7;stroke:#ffa500;stroke-opacity:0.7" href="#m63e0c51bf4"/><use x="1132.685" y="48.604" style="fill:#ffa500;fill-opacity:0.7;stroke:#ffa500;stroke-opacity:0.7" href="#m63e0c51bf4"/><use x="1132.685" y="49.9" style="fill:#ffa500;fill-opacity:0.7;stroke:#ffa500;stroke-opacity:0.7" href="#m63e0c51bf4"/><use x="1132.685" y="51.844" style="fill:#ffa500;fill-opacity:0.7;stroke:#ffa500;stroke-opacity:0.7" href="#m63e0c51bf4"/><use x="1132.685" y="52.492" style="fill:#ffa500;fill-opacity:0.7;stroke:#ffa500;stroke-opacity:0.7" href="#m63e0c51bf4"/><use x="1132.685" y="53.14" style="fill:#ffa500;fill-opacity:0.7;stroke:#ffa500;stroke-opacity:0.7" href="#m63e0c51bf4"/><use x="1132.685" y="120.603" style="fill:#ffa500;fill-opacity:0.7;stroke:#ffa500;stroke-opacity:0.7" href="#m63e0c51bf4"/><use x="1132.685" y="121.899" style="fill:#ffa500;fill-opacity:0.7;stroke:#ffa500;stroke-opacity:0.7" href="#m63e0c51bf4"/><use x="1132.685" y="156.242" style="fill:#ffa500;fill-opacity:0.7;stroke:#ffa500;stroke-opacity:0.7" href="#m63e0c51bf4"/><use x="1132.685" y="162.002" style="fill:#ffa500;fill-opacity:0.7;stroke:#ffa500;stroke-opacity:0.7" href="#m63e0c51bf4"/><use x="1132.685" y="170.642" style="fill:#ffa500;fill-opacity:0.7;stroke:#ffa500;stroke-opacity:0.7" href="#m63e0c51bf4"/><use x="1132.685" y="172.802" style="fill:#ffa500;fill-opacity:0.7;stroke:#ffa500;stroke-opacity:0.7" href="#m63e0c51bf4"/><use x="1132.685" y="174.962" style="fill:#ffa500;fill-opacity:0.7;stroke:#ffa500;stroke-opacity:0.7" href="#m63e0c51bf4"/><use x="1132.685" y="180.362" style="fill:#ffa500;fill-opacity:0.7;stroke:#ffa500;stroke-opacity:0.7" href="#m63e0c51bf4"/><use x="1132.685" y="203.042" style="fill:#ffa500;fill-opacity:0.7;stroke:#ffa500;stroke-opacity:0.7" href="#m63e0c51bf4"/></g></g><g id="line2d_62"><path d="M636.12 140.76L1134.36 140.76" clip-path="url(#p5d44a16f98)" style="fill:none;stroke:#000000;stroke-width:0.5;stroke-linecap:square"/></g><g id="line2d_63"><path d="M1133.64 253.8L1133.64 27" clip-path="url(#p5d44a16f98)" style="fill:none;stroke:#000000;stroke-width:0.5;stroke-linecap:square"/></g><g id="patch_12"><path d="M636.12 253.8L636.12 27" style="fill:none;stroke:#000000;stroke-width:0.8;stroke-linejoin:miter;stroke-linecap:square"/></g><g id="patch_13"><path d="M1134.36 253.8L1134.36 27" style="fill:none;stroke:#000000;stroke-width:0.8;stroke-linejoin:miter;stroke-linecap:square"/></g><g id="patch_14"><path d="M636.12 253.8L1134.36 253.8" style="fill:none;stroke:#000000;stroke-width:0.8;stroke-linejoin:miter;stroke-linecap:square"/></g><g id="patch_15"><path d="M636.12 27L1134.36 27" style="fill:none;stroke:#000000;stroke-width:0.8;stroke-linejoin:miter;stroke-linecap:square"/></g><g id="text_34"><text style="font-size:12px;text-anchor:middle" x="884.64" y="20.88">Charakterystyka R-X zabezpieczenia odleglosciowego</text></g><g id="legend_2"><g id="patch_16"><path d="M1044.36 124.2L1128.6 124.2Q1130.04 124.2 1130.04 122.04L1130.04 32.76Q1130.04 31.32 1128.6 31.32L1044.36 31.32Q1042.92 31.32 1042.92 32.76L1042.92 122.04Q1042.92 124.2 1044.36 124.2z" style="fill:#ffffff;fill-opacity:0.8;stroke-opacity:0.8;stroke:#cccccc;stroke-linejoin:miter"/></g><g id="patch_17"><path d="M1045.8 39.96L1062.36 39.96L1062.36 34.92L1045.8 34.92z" style="fill:#008000;fill-opacity:0.2;stroke-opacity:0.2;stroke:#008000;stroke-linejoin:miter"/></g><g id="text_35"><text style="font-size:8px;text-anchor:start" x="1068.12" y="39.84">Strefa 1</text></g><g id="patch_18"><path d="M1045.8 51.48L1062.36 51.48L1062.36 45.72L1045.8 45.72z" style="fill:#ffff00;fill-opacity:0.15;stroke-opacity:0.15;stroke:#ffff00;stroke-linejoin:miter"/></g><g id="text_36"><text style="font-size:8px;text-anchor:start" x="1068.12" y="51.04">Strefa 2</text></g><g id="patch_19"><path d="M1045.8 62.28L1062.36 62.28L1062.36 57.24L1045.8 57.24z" style="fill:#ff0000;fill-opacity:0.1;stroke-opacity:0.1;stroke:#ff0000;stroke-linejoin:miter"/></g><g id="text_37"><text style="font-size:8px;text-anchor:start" x="1068.12" y="62.24">Strefa 3</text></g><g id="line2d_64"><path d="M1045.8 70.92L1054.44 70.92L1062.36 70.92" style="fill:none;stroke-dasharray:3.7,1.6;stroke-dashoffset:0;stroke:#000000"/></g><g id="text_38"><text style="font-size:8px;text-anchor:start" x="1068.12" y="73.44">Linia Z</text></g><g id="line2d_65"><path d="M1045.8 82.44L1054.44 82.44L1062.36 82.44" style="fill:none;stroke:#0000ff;stroke-width:2;stroke-linecap:square"/></g><g id="text_39"><text style="font-size:8px;text-anchor:start" x="1068.12" y="84.64">Z_L1 (zwarcie)</text></g><g id="line2d_66"><g><use x="1053.72" y="93.692" style="fill:#0000ff;fill-opacity:0.3;stroke:#0000ff;stroke-opacity:0.3" href="#m9ddd6b55b9"/></g></g><g id="text_40"><text style="font-size:8px;text-anchor:start" x="1068.12" y="96.49">Trajektoria L1</text></g><g id="line2d_67"><g><use x="1053.72" y="104.892" style="fill:#008000;fill-opacity:0.5;stroke:#008000;stroke-opacity:0.5" href="#m09cc9a606d"/></g></g><g id="text_41"><text style="font-size:8px;text-anchor:start" x="1068.12" y="107.69">Trajektoria L2</text></g><g id="line2d_68"><g><use x="1053.72" y="116.093" style="fill:#ffa500;fill-opacity:0.7;stroke:#ffa500;stroke-opacity:0.7" href="#m63e0c51bf4"/></g></g><g id="text_42"><text style="font-size:8px;text-anchor:start" x="1068.12" y="118.89">Trajektoria L3</text></g></g></g><g id="axes_3"><g id="patch_20"><path d="M59.24 537.64L557.42 537.64L557.42 311.28L59.24 311.28z" style="fill:#ffffff"/></g><g id="matplotlib.axis_5"><g id="xtick_12"><g id="line2d_69"><path d="M78.12 538.2L78.12 311.4" clip-path="url(#p6669831fa6)" style="fill:none;stroke:#b0b0b0;stroke-width:0.8;stroke-linecap:square"/></g><g id="line2d_70"><g><use x="78.12" y="538.2" style="stroke:#000000;stroke-width:0.8" href="#m1504cfccaf"/></g></g><g id="text_43"><text style="font-size:10px;text-anchor:middle" x="77.81" y="552.56">0.0</text></g></g><g id="xtick_13"><g id="line2d_71"><path d="M178.92 538.2L178.92 311.4" clip-path="url(#p6669831fa6)" style="fill:none;stroke:#b0b0b0;stroke-width:0.8;stroke-linecap:square"/></g><g id="line2d_72"><g><use x="178.92" y="538.2" style="stroke:#000000;stroke-width:0.8" href="#m1504cfccaf"/></g></g><g id="text_44"><text style="font-size:10px;text-anchor:middle" x="178.68" y="552.56">0.5</text></g></g><g id="xtick_14"><g id="line2d_73"><path d="M279.72 538.2L279.72 311.4" clip-path="url(#p6669831fa6)" style="fill:none;stroke:#b0b0b0;stroke-width:0.8;stroke-linecap:square"/></g><g id="line2d_74"><g><use x="279.72" y="538.2" style="stroke:#000000;stroke-width:0.8" href="#m1504cfccaf"/></g></g><g id="text_45"><text style="font-size:10px;text-anchor:middle" x="279.56" y="552.56">1.0</text></g></g><g id="xtick_15"><g id="line2d_75"><path d="M380.52 538.2L380.52 311.4" clip-path="url(#p6669831fa6)" style="fill:none;stroke:#b0b0b0;stroke-width:0.8;stroke-linecap:square"/></g><g id="line2d_76"><g><use x="380.52" y="538.2" style="stroke:#000000;stroke-width:0.8" href="#m1504cfccaf"/></g></g><g id="text_46"><text style="font-size:10px;text-anchor:middle" x="380.43" y="552.56">1.5</text></g></g><g id="xtick_16"><g id="line2d_77"><path d="M481.32 538.2L481.32 311.4" clip-path="url(#p6669831fa6)" style="fill:none;stroke:#b0b0b0;stroke-width:0.8;stroke-linecap:square"/></g><g id="line2d_78"><g><use x="481.32" y="538.2" style="stroke:#000000;stroke-width:0.8" href="#m1504cfccaf"/></g></g><g id="text_47"><text style="font-size:10px;text-anchor:middle" x="481.31" y="552.56">2.0</text></g></g><g id="text_48"><text style="font-size:10px;text-anchor:middle" x="308.33" y="566.64">Czas [s]</text></g></g><g id="matplotlib.axis_6"><g id="ytick_15"><g id="line2d_79"><path d="M59.4 510.84L557.64 510.84" clip-path="url(#p6669831fa6)" style="fill:none;stroke:#b0b0b0;stroke-width:0.8;stroke-linecap:square"/></g><g id="line2d_80"><g><use x="59.4" y="510.84" style="stroke:#000000;stroke-width:0.8" href="#m5d545ce8f8"/></g></g><g id="text_49"><text style="font-size:10px;text-anchor:end" x="52.24" y="514.43">−75</text></g></g><g id="ytick_16"><g id="line2d_81"><path d="M59.4 482.04L557.64 482.04" clip-path="url(#p6669831fa6)" style="fill:none;stroke:#b0b0b0;stroke-width:0.8;stroke-linecap:square"/></g><g id="line2d_82"><g><use x="59.4" y="482.04" style="stroke:#000000;stroke-width:0.8" href="#m5d545ce8f8"/></g></g><g id="text_50"><text style="font-size:10px;text-anchor:end" x="52.24" y="485.76">−50</text></g></g><g id="ytick_17"><g id="line2d_83"><path d="M59.4 453.24L557.64 453.24" clip-path="url(#p6669831fa6)" style="fill:none;stroke:#b0b0b0;stroke-width:0.8;stroke-linecap:square"/></g><g id="line2d_84"><g><use x="59.4" y="453.24" style="stroke:#000000;stroke-width:0.8" href="#m5d545ce8f8"/></g></g><g id="text_51"><text style="font-size:10px;text-anchor:end" x="52.24" y="457.08">−25</text></g></g><g id="ytick_18"><g id="line2d_85"><path d="M59.4 424.44L557.64 424.44" clip-path="url(#p6669831fa6)" style="fill:none;stroke:#b0b0b0;stroke-width:0.8;stroke-linecap:square"/></g><g id="line2d_86"><g><use x="59.4" y="424.44" style="stroke:#000000;stroke-width:0.8" href="#m5d545ce8f8"/></g></g><g id="text_52"><text style="font-size:10px;text-anchor:end" x="52.24" y="428.4">0</text></g></g><g id="ytick_19"><g id="line2d_87"><path d="M59.4 396.36L557.64 396.36" clip-path="url(#p6669831fa6)" style="fill:none;stroke:#b0b0b0;stroke-width:0.8;stroke-linecap:square"/></g><g id="line2d_88"><g><use x="59.4" y="396.36" style="stroke:#000000;stroke-width:0.8" href="#m5d545ce8f8"/></g></g><g id="text_53"><text style="font-size:10px;text-anchor:end" x="52.24" y="399.72">25</text></g></g><g id="ytick_20"><g id="line2d_89"><path d="M59.4 367.56L557.64 367.56" clip-path="url(#p6669831fa6)" style="fill:none;stroke:#b0b0b0;stroke-width:0.8;stroke-linecap:square"/></g><g id="line2d_90"><g><use x="59.4" y="367.56" style="stroke:#000000;stroke-width:0.8" href="#m5d545ce8f8"/></g></g><g id="text_54"><text style="font-size:10px;text-anchor:end" x="52.24" y="371.04">50</text></g></g><g id="ytick_21"><g id="line2d_91"><path d="M59.4 338.76L557.64 338.76" clip-path="url(#p6669831fa6)" style="fill:none;stroke:#b0b0b0;stroke-width:0.8;stroke-linecap:square"/></g><g id="line2d_92"><g><use x="59.4" y="338.76" style="stroke:#000000;stroke-width:0.8" href="#m5d545ce8f8"/></g></g><g id="text_55"><text style="font-size:10px;text-anchor:end" x="52.24" y="342.36">75</text></g></g><g id="text_56"><text style="font-size:10px;text-anchor:middle" x="25.11" y="424.46" transform="rotate(-90 25.11 424.46)">Napięcie [V]</text></g></g><g id="line2d_93"><path d="M81.88 424.44L97.22 424.44L97.42 425.56L98.02 438.13L98.23 440.18L98.43 439.97L98.63 437.24L99.03 425.13L99.84 397.19L100.04 394.99L100.24 395.89L100.45 399.82L100.85 414.61L101.45 439.53L101.86 446.95L102.06 446.57L102.26 443.76L103.27 422.96L103.47 424.44L534.81 424.44L534.81 424.44" clip-path="url(#p6669831fa6)" style="fill:none;stroke:#0000ff;stroke-width:1.5;stroke-linecap:square"/></g><g id="line2d_94"><path d="M81.88 452.43L82.09 436.42L82.69 350.07L83.09 323.84L83.3 325.1L83.5 336.11L83.9 382.18L84.71 498.77L85.11 524.73L85.31 523.37L85.52 512.31L85.92 466.26L86.73 349.64L87.13 323.77L87.33 325.23L87.53 336.42L87.94 382.76L88.74 499.19L89.15 524.8L89.35 523.24L89.55 512L89.95 465.68L90.76 349.21L91.16 323.7L91.37 325.36L91.57 336.74L91.97 383.34L92.78 499.62L93.18 524.87L93.38 523.11L93.59 511.68L93.99 465.11L94.8 348.79L95.2 323.63L95.4 325.49L95.6 337.06L96.01 383.92L96.81 499.83L97.22 524.4L97.42 522.33L97.62 510.68L98.02 464.11L98.83 350.66L99.23 327.09L99.44 329.06L99.64 340.35L100.04 385.83L100.85 498.82L101.25 522.88L101.45 520.8L101.66 509.27L102.06 463.16L102.87 349.93L103.27 326.04L103.47 328.18L103.67 339.77L104.08 385.98L104.88 499.85L105.29 523.86L105.49 521.62L105.69 509.84L106.09 463.03L106.9 348.59L107.3 324.73L107.51 327.04L107.71 338.92L108.11 385.98L108.92 501.53L109.12 518.13L109.32 525.55L109.52 523.07L109.73 510.9L110.13 463.06L110.94 346.44L111.14 329.73L111.34 322.28L111.54 324.95L111.74 337.4L112.15 385.83L112.95 502.84L113.16 519.39L113.36 526.63L113.56 523.84L113.76 511.31L114.16 462.74L114.97 345.81L115.17 329.33L115.37 322.19L115.58 325.08L115.78 337.71L116.18 386.42L116.99 503.25L117.19 519.63L117.39 526.67L117.59 523.68L117.8 510.96L118.2 462.14L119.01 345.37L119.21 329.06L119.41 322.12L119.61 325.2L119.81 338.02L120.22 387L121.02 503.66L121.23 519.87L121.43 526.71L121.63 523.52L121.83 510.62L122.23 461.54L123.04 344.93L123.24 328.8L123.44 322.04L123.65 325.33L123.85 338.34L124.25 387.59L125.06 504.07L125.26 520.1L125.46 526.75L125.66 523.36L125.87 510.27L126.27 460.94L127.08 344.5L127.28 328.54L127.48 321.98L127.68 325.47L127.88 338.67L128.29 388.18L129.09 504.47L129.3 520.33L129.5 526.78L129.7 523.19L129.9 509.92L130.3 460.34L131.11 344.07L131.31 328.28L131.51 321.91L131.72 325.61L131.92 338.99L132.32 388.77L133.13 504.88L133.33 520.56L133.53 526.81L133.73 523.02L133.94 509.56L134.34 459.74L135.15 343.65L135.35 328.02L135.55 321.85L135.75 325.75L135.95 339.32L136.36 389.37L137.16 505.27L137.37 520.78L137.57 526.83L137.77 522.84L137.97 509.2L138.37 459.13L139.18 343.23L139.38 327.78L139.58 321.81L139.79 325.91L139.99 339.67L140.39 389.97L141.2 505.67L141.4 521L141.6 526.85L141.8 522.66L142.01 508.84L142.41 458.53L143.22 342.84L143.42 327.57L143.62 321.8L143.82 326.1L144.02 340.04L144.43 390.58L145.23 506.06L145.44 521.21L145.64 526.87L145.84 522.48L146.04 508.48L146.44 457.92L147.25 342.45L147.45 327.36L147.65 321.79L147.86 326.29L148.06 340.41L148.46 391.19L149.27 506.45L149.47 521.42L149.67 526.88L149.87 522.29L150.08 508.11L150.48 457.31L151.29 342.07L151.49 327.16L151.69 321.79L151.89 326.48L152.09 340.79L152.5 391.8L153.3 506.83L153.51 521.63L153.71 526.89L153.91 522.1L154.11 507.73L154.51 456.7L155.32 341.69L155.52 326.96L155.72 321.79L155.93 326.68L156.13 341.17L156.53 392.42L157.34 507.21L157.54 521.83L157.74 526.89L157.94 521.91L158.15 507.36L158.55 456.09L159.36 341.31L159.56 326.76L159.76 321.79L159.96 326.89L160.16 341.55L160.57 393.03L161.37 507.59L161.58 522.03L161.78 526.89L161.98 521.71L162.38 484.16L163.59 326.57L163.79 321.8L164 327.09L164.4 364.87L165.61 522.22L165.81 526.89L166.01 521.5L166.42 483.63L167.63 326.38L167.83 321.81L168.03 327.3L168.43 365.4L169.44 508.34L169.65 522.41L169.85 526.88L170.05 521.3L170.45 483.11L171.46 340.2L171.66 326.2L171.86 321.83L172.07 327.52L172.47 365.93L173.48 508.71L173.68 522.6L173.88 526.87L174.08 521.08L174.49 482.58L175.5 339.84L175.7 326.02L175.9 321.85L176.1 327.74L176.5 366.46L177.51 509.07L177.72 522.79L177.92 526.85L178.12 520.87L178.52 482.05L179.53 339.48L179.73 325.84L179.93 321.87L180.14 327.96L180.54 367L181.55 509.44L181.75 522.97L181.95 526.83L182.15 520.65L182.56 481.52L183.57 339.13L183.77 325.67L183.97 321.9L184.17 328.18L184.57 367.54L185.58 509.8L185.79 523.14L185.99 526.81L186.19 520.43L186.59 480.98L187.6 338.77L187.8 325.5L188 321.93L188.21 328.41L188.61 368.08L189.62 510.15L189.82 523.31L190.02 526.78L190.22 520.2L190.63 480.44L191.64 338.42L191.84 325.33L192.04 321.97L192.24 328.65L192.64 368.62L193.65 510.5L193.86 523.48L194.06 526.74L194.26 519.97L194.66 479.9L195.67 338.08L195.87 325.17L196.07 322.01L196.28 328.89L196.68 369.16L197.69 510.85L197.89 523.64L198.09 526.71L198.29 519.74L198.7 479.36L199.71 337.73L199.91 325.02L200.11 322.05L200.31 329.13L200.71 369.71L201.72 511.2L201.93 523.8L202.13 526.67L202.33 519.5L202.73 478.82L203.74 337.4L203.94 324.86L204.14 322.1L204.35 329.37L204.75 370.26L205.76 511.54L205.96 523.96L206.16 526.62L206.36 519.26L206.77 478.27L207.78 337.06L207.98 324.72L208.18 322.15L208.38 329.62L208.78 370.81L209.79 511.88L210 524.11L210.2 526.57L210.4 519.02L210.8 477.72L211.81 336.73L212.01 324.57L212.21 322.21L212.42 329.87L212.82 371.36L213.83 512.21L214.03 524.26L214.23 526.52L214.43 518.77L214.84 477.17L215.85 336.4L216.05 324.43L216.25 322.27L216.45 330.13L216.85 371.92L217.86 512.54L218.07 524.41L218.27 526.46L218.47 518.52L218.87 476.62L219.88 336.07L220.08 324.29L220.28 322.33L220.49 330.39L220.89 372.48L221.9 512.87L222.1 524.55L222.3 526.4L222.5 518.26L222.91 476.07L223.92 335.75L224.12 324.16L224.32 322.4L224.52 330.65L224.92 373.04L225.93 513.2L226.13 524.68L226.34 526.34L226.54 518L226.94 475.51L227.95 335.43L228.15 324.03L228.35 322.47L228.56 330.92L228.96 373.6L229.97 513.52L230.17 524.82L230.37 526.27L230.57 517.74L230.98 474.95L231.99 335.12L232.19 323.9L232.39 322.55L232.59 331.19L232.99 374.16L234 513.83L234.2 524.94L234.41 526.2L234.61 517.47L235.01 474.39L236.02 334.81L236.22 323.78L236.42 322.63L236.63 331.46L237.03 374.72L238.04 514.15L238.24 525.07L238.44 526.12L238.64 517.2L239.05 473.83L240.06 334.5L240.26 323.67L240.46 322.72L240.66 331.74L241.06 375.29L242.07 514.46L242.27 525.19L242.48 526.04L242.68 516.92L243.08 473.26L244.09 334.2L244.29 323.55L244.49 322.8L244.7 332.02L245.1 375.86L246.11 514.76L246.31 525.31L246.51 525.95L246.71 516.65L247.12 472.7L248.13 333.9L248.33 323.44L248.53 322.9L248.73 332.31L249.13 376.43L250.14 515.07L250.34 525.42L250.55 525.87L250.75 516.36L251.15 472.13L252.16 333.6L252.36 323.34L252.56 322.99L252.77 332.6L253.17 377L254.18 515.37L254.38 525.53L254.58 525.77L254.78 516.08L255.19 471.56L256.2 333.31L256.4 323.24L256.6 323.09L256.8 332.89L257.2 377.58L258.21 515.66L258.41 525.63L258.62 525.68L258.82 515.79L259.22 470.99L260.23 333.02L260.43 323.14L260.63 323.2L260.84 333.19L261.24 378.15L262.25 515.96L262.45 525.73L262.65 525.58L262.85 515.5L263.26 470.41L264.27 332.73L264.47 323.05L264.67 323.31L264.87 333.49L265.27 378.73L266.28 516.25L266.48 525.83L266.69 525.47L266.89 515.2L267.29 469.84L268.3 332.45L268.5 322.96L268.7 323.42L268.91 333.79L269.31 379.31L270.32 516.53L270.52 525.92L270.72 525.36L270.92 514.9L271.33 469.26L272.34 332.17L272.54 322.87L272.74 323.54L272.94 334.09L273.34 379.89L274.35 516.81L274.55 526.01L274.76 525.25L274.96 514.6L275.36 468.68L276.17 350.08L276.57 322.79L276.77 323.66L276.98 334.41L277.38 380.47L278.19 499L278.59 526.1L278.79 525.13L278.99 514.29L279.4 468.1L280.2 349.64L280.61 322.71L280.81 323.78L281.01 334.72L281.41 381.06L282.22 499.44L282.62 526.18L282.83 525.01L283.03 513.98L283.43 467.51L284.24 349.2L284.64 322.64L284.84 323.91L285.05 335.04L285.45 381.65L286.26 499.88L286.66 526.25L286.86 524.89L287.06 513.67L287.47 466.93L288.27 348.77L288.68 322.57L288.88 324.04L289.08 335.36L289.48 382.23L290.29 500.31L290.69 526.33L290.9 524.76L291.1 513.35L291.5 466.34L292.31 348.34L292.71 322.51L292.91 324.18L293.12 335.68L293.52 382.82L294.33 500.74L294.73 526.4L294.93 524.62L295.13 513.03L295.54 465.76L296.34 347.92L296.75 322.45L296.95 324.32L297.15 336.01L297.55 383.41L298.36 501.17L298.76 526.46L298.97 524.49L299.17 512.7L299.57 465.17L300.38 347.49L300.78 322.39L300.98 324.46L301.19 336.34L301.59 384.01L302.4 501.6L302.8 526.52L303 524.35L303.2 512.37L303.61 464.57L304.41 347.07L304.82 322.34L305.02 324.61L305.22 336.68L305.62 384.6L306.43 502.02L306.83 526.58L307.04 524.2L307.24 512.04L307.64 463.98L308.45 346.65L308.65 329.83L308.85 322.29L309.05 324.76L309.26 337.01L309.66 385.2L310.47 502.44L310.67 519.18L310.87 526.63L311.07 524.05L311.27 511.71L311.68 463.39L312.48 346.24L312.69 329.59L312.89 322.24L313.09 324.92L313.29 337.36L313.69 385.79L314.5 502.86L314.7 519.43L314.9 526.68L315.11 523.9L315.31 511.37L315.71 462.79L316.52 345.83L316.72 329.35L316.92 322.2L317.12 325.08L317.33 337.7L317.73 386.39L318.54 503.27L318.74 519.67L318.94 526.72L319.14 523.74L319.34 511.03L319.75 462.19L320.55 345.42L320.76 329.12L320.96 322.16L321.16 325.24L321.36 338.05L321.76 386.99L322.57 503.68L322.77 519.91L322.97 526.76L323.18 523.58L323.38 510.68L323.78 461.59L324.59 345.02L324.79 328.89L324.99 322.13L325.19 325.41L325.4 338.4L325.8 387.59L326.61 504.09L326.81 520.14L327.01 526.8L327.21 523.42L327.41 510.33L327.82 460.99L328.62 344.61L328.83 328.66L329.03 322.1L329.23 325.58L329.43 338.76L329.83 388.2L330.64 504.5L330.84 520.37L331.04 526.83L331.25 523.25L331.45 509.98L331.85 460.39L332.66 344.22L332.86 328.44L333.06 322.08L333.26 325.76L333.47 339.11L333.87 388.8L334.68 504.9L334.88 520.59L335.08 526.86L335.28 523.08L335.48 509.63L335.89 459.79L336.69 343.82L336.9 328.22L337.1 322.06L337.3 325.94L337.5 339.48L337.9 389.41L338.71 505.3L338.91 520.82L339.11 526.88L339.32 522.9L339.52 509.27L339.92 459.18L340.73 343.44L340.93 328.02L341.13 322.06L341.33 326.14L341.54 339.86L341.94 390.02L342.75 505.69L342.95 521.04L343.15 526.9L343.35 522.72L343.55 508.9L343.96 458.58L344.76 343.09L344.97 327.86L345.17 322.1L345.37 326.38L345.57 340.27L345.97 390.65L346.78 506.08L346.98 521.25L347.18 526.92L347.39 522.54L347.59 508.54L347.99 457.97L348.8 342.75L349 327.71L349.2 322.15L349.4 326.62L349.61 340.69L350.01 391.28L350.82 506.47L351.02 521.46L351.22 526.93L351.42 522.35L351.62 508.17L352.03 457.36L352.83 342.42L353.04 327.56L353.24 322.2L353.44 326.87L353.64 341.11L354.04 391.91L354.85 506.86L355.05 521.67L355.25 526.94L355.46 522.16L355.66 507.8L356.06 456.75L356.87 342.08L357.07 327.41L357.27 322.26L357.47 327.12L357.68 341.53L358.08 392.54L358.89 507.24L359.09 521.87L359.29 526.95L359.49 521.97L359.69 507.42L360.1 456.14L360.9 341.75L361.11 327.27L361.31 322.32L361.51 327.38L361.71 341.96L362.11 393.16L362.92 507.62L363.12 522.07L363.32 526.95L363.53 521.77L363.93 484.22L365.14 327.13L365.34 322.38L365.54 327.64L365.95 365.19L367.16 522.27L367.36 526.94L367.56 521.56L367.96 483.69L368.97 341.11L369.18 327L369.38 322.45L369.58 327.9L369.98 365.75L371.19 522.46L371.39 526.93L371.6 521.36L372 483.17L373.01 340.71L373.21 326.77L373.41 322.41L373.61 328.05L374.02 366.23L375.03 508.74L375.23 522.64L375.43 526.92L375.63 521.15L376.03 482.64L377.04 340.27L377.25 326.49L377.45 322.33L377.65 328.18L378.05 366.7L379.06 509.1L379.26 522.83L379.46 526.91L379.67 520.93L380.07 482.11L381.08 339.83L381.28 326.23L381.48 322.26L381.68 328.31L382.09 367.18L383.1 509.46L383.3 523.01L383.5 526.88L383.7 520.71L384.1 481.57L385.11 339.39L385.32 325.96L385.52 322.19L385.72 328.44L386.12 367.66L387.13 509.82L387.33 523.18L387.53 526.86L387.74 520.49L388.14 481.04L389.15 338.96L389.35 325.7L389.55 322.12L389.75 328.58L390.16 368.15L391.17 510.18L391.37 523.36L391.57 526.83L391.77 520.27L392.17 480.5L393.18 338.53L393.39 325.44L393.59 322.06L393.79 328.72L394.19 368.64L395.2 510.53L395.4 523.52L395.6 526.8L395.81 520.04L396.21 479.96L397.22 338.1L397.42 325.19L397.62 322.01L397.82 328.87L398.23 369.13L399.24 510.88L399.44 523.69L399.64 526.76L399.84 519.8L400.24 479.42L401.25 337.69L401.46 324.96L401.66 321.98L401.86 329.05L402.26 369.65L403.27 511.22L403.47 523.85L403.67 526.72L403.88 519.56L404.28 478.87L405.29 337.36L405.49 324.81L405.69 322.03L405.89 329.3L406.3 370.2L407.31 511.57L407.51 524.01L407.71 526.68L407.91 519.32L408.31 478.33L409.32 337.03L409.52 324.67L409.73 322.09L409.93 329.55L410.33 370.75L411.34 511.91L411.54 524.16L411.74 526.63L411.95 519.08L412.35 477.78L413.36 336.7L413.56 324.53L413.76 322.15L413.96 329.81L414.37 371.31L415.38 512.24L415.58 524.31L415.78 526.58L415.98 518.83L416.38 477.23L417.39 336.38L417.59 324.39L417.8 322.22L418 330.07L418.4 371.87L419.41 512.57L419.61 524.45L419.81 526.52L420.02 518.58L420.42 476.68L421.43 336.05L421.63 324.26L421.83 322.29L422.03 330.34L422.44 372.43L423.45 512.9L423.65 524.59L423.85 526.46L424.05 518.32L424.45 476.12L425.46 335.74L425.66 324.13L425.87 322.36L426.07 330.6L426.47 372.99L427.48 513.23L427.68 524.73L427.88 526.4L428.09 518.06L428.49 475.56L429.5 335.42L429.7 324.01L429.9 322.44L430.1 330.88L430.51 373.55L431.52 513.55L431.72 524.86L431.92 526.33L432.12 517.8L432.52 475.01L433.53 335.11L433.73 323.89L433.94 322.52L434.14 331.15L434.54 374.12L435.55 513.86L435.75 524.99L435.95 526.25L436.16 517.53L436.56 474.44L437.57 334.81L437.77 323.77L437.97 322.61L438.17 331.43L438.58 374.69L439.59 514.18L439.79 525.12L439.99 526.18L440.19 517.26L440.59 473.88L441.6 334.5L441.8 323.66L442.01 322.7L442.21 331.71L442.61 375.26L443.62 514.49L443.82 525.24L444.02 526.1L444.23 516.99L444.63 473.32L445.64 334.2L445.84 323.55L446.04 322.79L446.24 332L446.65 375.83L447.66 514.8L447.86 525.35L448.06 526.01L448.26 516.71L448.66 472.75L449.67 333.91L449.87 323.44L450.08 322.89L450.28 332.29L450.68 376.4L451.69 515.1L451.89 525.47L452.09 525.92L452.3 516.43L452.7 472.18L453.71 333.62L453.91 323.34L454.11 322.99L454.31 332.58L454.72 376.97L455.73 515.4L455.93 525.58L456.13 525.83L456.33 516.14L456.73 471.61L457.74 333.33L457.94 323.25L458.15 323.09L458.35 332.88L458.75 377.55L459.76 515.7L459.96 525.68L460.16 525.73L460.37 515.85L460.77 471.04L461.78 333.04L461.98 323.16L462.18 323.2L462.38 333.18L462.79 378.13L463.8 515.99L464 525.78L464.2 525.63L464.4 515.56L464.8 470.46L465.81 332.76L466.01 323.07L466.22 323.32L466.42 333.48L466.82 378.71L467.83 516.28L468.03 525.88L468.23 525.53L468.44 515.26L468.84 469.89L469.85 332.48L470.05 322.98L470.25 323.43L470.45 333.79L470.86 379.29L471.87 516.56L472.07 525.97L472.27 525.42L472.47 514.96L472.87 469.31L473.88 332.21L474.08 322.9L474.29 323.56L474.49 334.1L474.89 379.87L475.9 516.85L476.1 526.06L476.3 525.31L476.51 514.66L476.91 468.73L477.72 350.12L478.12 322.83L478.32 323.68L478.52 334.42L478.93 380.46L479.73 499.01L480.14 526.15L480.34 525.19L480.54 514.35L480.94 468.15L481.75 349.69L482.15 322.76L482.36 323.81L482.56 334.74L482.96 381.05L483.77 499.46L484.17 526.23L484.37 525.07L484.58 514.04L484.98 467.57L485.79 349.26L486.19 322.69L486.39 323.94L486.59 335.06L487 381.63L487.8 499.89L488.21 526.3L488.41 524.95L488.61 513.73L489.01 466.98L489.82 348.83L490.22 322.62L490.43 324.08L490.63 335.38L491.03 382.22L491.84 500.33L492.24 526.38L492.44 524.82L492.65 513.41L493.05 466.39L493.86 348.4L494.26 322.56L494.46 324.22L494.66 335.71L495.07 382.82L495.87 500.76L496.28 526.45L496.48 524.68L496.68 513.09L497.08 465.81L497.89 347.98L498.29 322.51L498.5 324.37L498.7 336.04L499.1 383.41L499.91 501.19L500.31 526.51L500.51 524.55L500.72 512.77L501.12 465.22L501.93 347.56L502.33 322.45L502.53 324.52L502.73 336.38L503.14 384L503.94 501.62L504.35 526.57L504.55 524.41L504.75 512.44L505.15 464.62L505.96 347.14L506.36 322.41L506.57 324.67L506.77 336.72L507.17 384.6L507.98 502.04L508.38 526.63L508.58 524.26L508.79 512.11L509.19 464.03L510 346.73L510.2 329.91L510.4 322.36L510.6 324.83L510.8 337.06L511.21 385.2L512.01 502.46L512.22 519.22L512.42 526.68L512.62 524.11L512.82 511.77L513.22 463.44L514.03 346.32L514.23 329.67L514.43 322.32L514.64 324.99L514.84 337.41L515.24 385.79L516.05 502.88L516.25 519.46L516.45 526.73L516.65 523.96L516.86 511.43L517.26 462.84L518.07 345.91L518.27 329.44L518.47 322.29L518.67 325.15L518.87 337.75L519.28 386.39L520.08 503.29L520.29 519.71L520.49 526.77L520.69 523.81L520.89 511.09L521.29 462.24L522.1 345.51L522.3 329.21L522.5 322.26L522.71 325.32L522.91 338.11L523.31 387L524.12 503.71L524.32 519.94L524.52 526.81L524.72 523.64L524.93 510.74L525.33 461.64L526.14 345.11L526.34 328.99L526.54 322.23L526.74 325.49L526.94 338.46L527.35 387.6L528.15 504.11L528.36 520.18L528.56 526.85L528.76 523.48L528.96 510.4L529.36 461.04L530.17 344.71L530.37 328.77L530.57 322.2L530.78 325.67L530.98 338.82L531.38 388.2L532.19 504.52L532.39 520.41L532.59 526.88L532.79 523.31L533 510.04L533.4 460.44L534.21 344.32L534.41 328.55L534.61 322.18L534.81 325.85L534.81 325.85" clip-path="url(#p6669831fa6)" style="fill:none;stroke:#008000;stroke-width:1.5;stroke-linecap:square"/></g><g id="line2d_95"><path d="M81.88 424.44L97.22 424.39L98.23 423.91L98.63 424.19L99.64 425.61L99.84 425.66L100.04 425.55L100.45 424.9L101.25 423.15L101.45 422.97L101.66 422.97L101.86 423.14L102.26 423.91L102.87 425.26L103.27 425.63L103.47 425.59L103.87 425.13L104.68 424.03L105.09 423.96L106.3 424.44L534.81 424.44L534.81 424.44" clip-path="url(#p6669831fa6)" style="fill:none;stroke:#ffa500;stroke-width:1.5;stroke-linecap:square"/></g><g id="patch_21"><path d="M59.4 538.2L59.4 311.4" style="fill:none;stroke:#000000;stroke-width:0.8;stroke-linejoin:miter;stroke-linecap:square"/></g><g id="patch_22"><path d="M557.64 538.2L557.64 311.4" style="fill:none;stroke:#000000;stroke-width:0.8;stroke-linejoin:miter;stroke-linecap:square"/></g><g id="patch_23"><path d="M59.4 538.2L557.64 538.2" style="fill:none;stroke:#000000;stroke-width:0.8;stroke-linejoin:miter;stroke-linecap:square"/></g><g id="patch_24"><path d="M59.4 311.4L557.64 311.4" style="fill:none;stroke:#000000;stroke-width:0.8;stroke-linejoin:miter;stroke-linecap:square"/></g><g id="text_57"><text style="font-size:12px;text-anchor:middle" x="308.33" y="305.28">Napięcia faz L1, L2, L3</text></g><g id="legend_3"><g id="patch_25"><path d="M66.6 533.16L122.76 533.16Q124.92 533.16 124.92 531L124.92 486.36Q124.92 484.2 122.76 484.2L66.6 484.2Q64.44 484.2 64.44 486.36L64.44 531Q64.44 533.16 66.6 533.16z" style="fill:#ffffff;fill-opacity:0.8;stroke-opacity:0.8;stroke:#cccccc;stroke-linejoin:miter"/></g><g id="line2d_96"><path d="M68.4 492.48L78.48 492.48L88.56 492.48" style="fill:none;stroke:#0000ff;stroke-width:1.5;stroke-linecap:square"/></g><g id="text_58"><text style="font-size:10px;text-anchor:start" x="96.24" y="496.02">U_L1</text></g><g id="line2d_97"><path d="M68.4 507.6L78.48 507.6L88.56 507.6" style="fill:none;stroke:#008000;stroke-width:1.5;stroke-linecap:square"/></g><g id="text_59"><text style="font-size:10px;text-anchor:start" x="96.24" y="511.2">U_L2</text></g><g id="line2d_98"><path d="M68.4 522.72L78.48 522.72L88.56 522.72" style="fill:none;stroke:#ffa500;stroke-width:1.5;stroke-linecap:square"/></g><g id="text_60"><text style="font-size:10px;text-anchor:start" x="96.24" y="526.38">U_L3</text></g></g></g><g id="axes_4"><g id="patch_26"><path d="M635.56 537.64L1133.73 537.64L1133.73 311.28L635.56 311.28z" style="fill:#ffffff"/></g><g id="matplotlib.axis_7"><g id="xtick_17"><g id="line2d_99"><path d="M654.84 538.2L654.84 311.4" clip-path="url(#p0b3b7d0bce)" style="fill:none;stroke:#b0b0b0;stroke-width:0.8;stroke-linecap:square"/></g><g id="line2d_100"><g><use x="654.84" y="538.2" style="stroke:#000000;stroke-width:0.8" href="#m1504cfccaf"/></g></g><g id="text_61"><text style="font-size:10px;text-anchor:middle" x="654.33" y="552.56">0.0</text></g></g><g id="xtick_18"><g id="line2d_101"><path d="M755.64 538.2L755.64 311.4" clip-path="url(#p0b3b7d0bce)" style="fill:none;stroke:#b0b0b0;stroke-width:0.8;stroke-linecap:square"/></g><g id="line2d_102"><g><use x="755.64" y="538.2" style="stroke:#000000;stroke-width:0.8" href="#m1504cfccaf"/></g></g><g id="text_62"><text style="font-size:10px;text-anchor:middle" x="755.04" y="552.56">0.5</text></g></g><g id="xtick_19"><g id="line2d_103"><path d="M856.44 538.2L856.44 311.4" clip-path="url(#p0b3b7d0bce)" style="fill:none;stroke:#b0b0b0;stroke-width:0.8;stroke-linecap:square"/></g><g id="line2d_104"><g><use x="856.44" y="538.2" style="stroke:#000000;stroke-width:0.8" href="#m1504cfccaf"/></g></g><g id="text_63"><text style="font-size:10px;text-anchor:middle" x="855.75" y="552.56">1.0</text></g></g><g id="xtick_20"><g id="line2d_105"><path d="M956.52 538.2L956.52 311.4" clip-path="url(#p0b3b7d0bce)" style="fill:none;stroke:#b0b0b0;stroke-width:0.8;stroke-linecap:square"/></g><g id="line2d_106"><g><use x="956.52" y="538.2" style="stroke:#000000;stroke-width:0.8" href="#m1504cfccaf"/></g></g><g id="text_64"><text style="font-size:10px;text-anchor:middle" x="956.46" y="552.56">1.5</text></g></g><g id="xtick_21"><g id="line2d_107"><path d="M1057.32 538.2L1057.32 311.4" clip-path="url(#p0b3b7d0bce)" style="fill:none;stroke:#b0b0b0;stroke-width:0.8;stroke-linecap:square"/></g><g id="line2d_108"><g><use x="1057.32" y="538.2" style="stroke:#000000;stroke-width:0.8" href="#m1504cfccaf"/></g></g><g id="text_65"><text style="font-size:10px;text-anchor:middle" x="1057.17" y="552.56">2.0</text></g></g><g id="text_66"><text style="font-size:10px;text-anchor:middle" x="884.64" y="566.64">Czas [s]</text></g></g><g id="matplotlib.axis_8"><g id="ytick_22"><g id="line2d_109"><path d="M636.12 513L1134.36 513" clip-path="url(#p0b3b7d0bce)" style="fill:none;stroke:#b0b0b0;stroke-width:0.8;stroke-linecap:square"/></g><g id="line2d_110"><g><use x="636.12" y="513" style="stroke:#000000;stroke-width:0.8" href="#m5d545ce8f8"/></g></g><g id="text_67"><text style="font-size:10px;text-anchor:end" x="628.56" y="516.82">−150000</text></g></g><g id="ytick_23"><g id="line2d_111"><path d="M636.12 484.2L1134.36 484.2" clip-path="url(#p0b3b7d0bce)" style="fill:none;stroke:#b0b0b0;stroke-width:0.8;stroke-linecap:square"/></g><g id="line2d_112"><g><use x="636.12" y="484.2" style="stroke:#000000;stroke-width:0.8" href="#m5d545ce8f8"/></g></g><g id="text_68"><text style="font-size:10px;text-anchor:end" x="628.56" y="487.66">−100000</text></g></g><g id="ytick_24"><g id="line2d_113"><path d="M636.12 454.68L1134.36 454.68" clip-path="url(#p0b3b7d0bce)" style="fill:none;stroke:#b0b0b0;stroke-width:0.8;stroke-linecap:square"/></g><g id="line2d_114"><g><use x="636.12" y="454.68" style="stroke:#000000;stroke-width:0.8" href="#m5d545ce8f8"/></g></g><g id="text_69"><text style="font-size:10px;text-anchor:end" x="628.56" y="458.5">−50000</text></g></g><g id="ytick_25"><g id="line2d_115"><path d="M636.12 425.88L1134.36 425.88" clip-path="url(#p0b3b7d0bce)" style="fill:none;stroke:#b0b0b0;stroke-width:0.8;stroke-linecap:square"/></g><g id="line2d_116"><g><use x="636.12" y="425.88" style="stroke:#000000;stroke-width:0.8" href="#m5d545ce8f8"/></g></g><g id="text_70"><text style="font-size:10px;text-anchor:end" x="628.56" y="429.34">0</text></g></g><g id="ytick_26"><g id="line2d_117"><path d="M636.12 396.36L1134.36 396.36" clip-path="url(#p0b3b7d0bce)" style="fill:none;stroke:#b0b0b0;stroke-width:0.8;stroke-linecap:square"/></g><g id="line2d_118"><g><use x="636.12" y="396.36" style="stroke:#000000;stroke-width:0.8" href="#m5d545ce8f8"/></g></g><g id="text_71"><text style="font-size:10px;text-anchor:end" x="628.56" y="400.18">50000</text></g></g><g id="ytick_27"><g id="line2d_119"><path d="M636.12 367.56L1134.36 367.56" clip-path="url(#p0b3b7d0bce)" style="fill:none;stroke:#b0b0b0;stroke-width:0.8;stroke-linecap:square"/></g><g id="line2d_120"><g><use x="636.12" y="367.56" style="stroke:#000000;stroke-width:0.8" href="#m5d545ce8f8"/></g></g><g id="text_72"><text style="font-size:10px;text-anchor:end" x="628.56" y="371.02">100000</text></g></g><g id="ytick_28"><g id="line2d_121"><path d="M636.12 338.04L1134.36 338.04" clip-path="url(#p0b3b7d0bce)" style="fill:none;stroke:#b0b0b0;stroke-width:0.8;stroke-linecap:square"/></g><g id="line2d_122"><g><use x="636.12" y="338.04" style="stroke:#000000;stroke-width:0.8" href="#m5d545ce8f8"/></g></g><g id="text_73"><text style="font-size:10px;text-anchor:end" x="628.56" y="341.86">150000</text></g></g><g id="text_74"><text style="font-size:10px;text-anchor:middle" x="576.14" y="424.46" transform="rotate(-90 576.14 424.46)">Impedancja [Ohm]</text></g></g><g id="line2d_123"><path d="M658.29 425.38L1110.96 425.38" clip-path="url(#p0b3b7d0bce)" style="fill:none;stroke:#0000ff;stroke-width:1.5;stroke-linecap:square"/></g><g id="line2d_124"><path d="M658.29 425.38L1110.96 425.38" clip-path="url(#p0b3b7d0bce)" style="fill:none;stroke-dasharray:5.55,2.4;stroke-dashoffset:0;stroke:#0000ff;stroke-width:1.5"/></g><g id="line2d_125"><path d="M658.29 424.22L672.64 424.22L672.84 424.68L681.28 424.68L681.48 425.35L688.4 425.35L688.69 424.21L688.98 421L689.07 382.37L689.07 382.37L689.28 425.35L700.28 425.35L700.99 332.07L701.36 332.07L701.57 321.74L701.72 321.74L701.93 382.37L704.82 382.37L705.11 366.13L705.6 397.27L705.9 397.27L706.1 401.61L708.49 401.61L708.69 415.08L710.08 415.08L710.28 408.82L716.05 408.82L716.25 410.8L718.21 410.8L718.41 406.25L729.08 406.25L729.29 411.24L730.74 411.24L730.94 414.12L732.04 414.12L732.24 416.8L734.41 416.8L734.61 412.72L735.85 412.72L736.05 411.52L740.17 411.52L740.37 412.49L747.37 412.49L747.57 406.72L751.91 406.72L752.11 405.96L756.01 405.96L756.21 406.6L759.25 406.6L759.45 413.13L760.19 413.13L760.39 411.73L763.57 411.73L763.77 402.05L764 402.05L764.21 390.68L768.04 390.68L768.24 397.85L771.28 397.85L771.49 407.3L771.69 387.35L771.82 387.35L772.02 401L775.85 401L776.05 425.38L779.7 425.38L779.9 401.7L780.06 401.7L780.26 405.29L783.73 405.29L783.93 372.1L784.09 372.1L784.29 392.02L787.76 392.02L787.96 347.35L788.12 347.35L788.32 425.38L791.78 425.38L791.99 372.54L792.14 372.54L792.35 392.02L795.81 392.02L796.02 347.64L796.17 347.64L796.38 425.38L799.84 425.38L800.05 373.18L800.2 373.18L800.41 392.02L803.87 392.02L804.08 348.05L804.23 348.05L804.44 425.38L808.08 425.38L808.29 374.06L811.93 374.06L812.14 425.38L812.29 425.38L812.5 348.98L815.96 348.98L816.17 398.29L816.32 398.29L816.53 405.02L820.17 405.02L820.38 425.38L840.14 425.38L840.34 376.33L840.5 376.33L840.7 393.36L844.17 393.36L844.37 350.55L844.53 350.55L844.73 425.38L848.38 425.38L848.58 350.93L852.41 350.93L852.61 394.24L856.44 394.24L856.64 351.66L860.47 351.66L860.67 425.38L868.53 425.38L868.73 378.55L872.38 378.55L872.58 425.38L872.74 425.38L872.94 352.54L876.41 352.54L876.61 409.51L880.44 409.51L880.64 379.45L880.8 379.45L881 425.38L884.47 425.38L884.67 353.27L884.83 353.27L885.03 383.21L888.5 383.21L888.7 409.95L892.53 409.95L892.73 380.18L892.89 380.18L893.09 395.4L900.59 395.4L900.79 354.17L900.95 354.17L901.15 425.38L908.65 425.38L908.85 381.23L909.01 381.23L909.21 395.78L912.68 395.78L912.88 354.81L913.04 354.81L913.24 425.38L941.07 425.38L941.27 383.21L945.1 383.21L945.3 425.38L949.13 425.38L949.33 384.38L952.98 384.38L953.18 425.38L953.54 425.38L953.55 357.03L954.42 357.03L954.62 385.28L957.01 385.28L957.21 336.38L957.37 336.38L957.57 425.38L981.37 425.38L981.57 358.84L985.4 358.84L985.6 425.38L989.25 425.38L989.45 387.06L989.61 387.06L989.81 398.73L993.28 398.73L993.48 359.53L993.64 359.53L993.84 425.38L1005.55 425.38L1005.75 388.61L1009.58 388.61L1009.78 425.38L1013.61 425.38L1013.81 389.51L1017.64 389.51L1017.84 425.38L1029.73 425.38L1029.93 340L1033.57 340L1033.78 404.12L1033.93 404.12L1034.14 400.53L1037.78 400.53L1037.99 400.88L1041.63 400.88L1041.84 363.33L1041.99 363.33L1042.2 425.38L1049.87 425.38L1050.08 364.2L1053.9 364.2L1054.11 425.38L1061.78 425.38L1061.99 393.83L1062.14 393.83L1062.35 401.88L1065.81 401.88L1066.02 365.1L1066.17 365.1L1066.38 388.61L1069.84 388.61L1070.04 342.51L1070.2 342.51L1070.4 425.38L1077.9 425.38L1078.1 395.4L1078.26 395.4L1078.46 402.57L1081.93 402.57L1082.13 366.71L1082.29 366.71L1082.49 425.38L1090.17 425.38L1090.37 367.35L1094.2 367.35L1094.4 425.38L1098.23 425.38L1098.43 367.99L1102.26 367.99L1102.46 425.38L1106.29 425.38L1106.49 369.16L1110.43 369.16L1110.65 344.9L1110.96 425.38L1110.96 425.38" clip-path="url(#p0b3b7d0bce)" style="fill:none;stroke:#008000;stroke-width:1.5;stroke-linecap:square"/></g><g id="line2d_126"><path d="M658.29 425.49L688.4 425.4L688.69 426.25L688.98 428.28L689.07 453.8L689.07 453.8L689.28 425.4L700.28 425.4L700.99 358.95L701.36 358.95L701.57 376.6L701.72 376.6L701.93 384.62L702.73 384.62L702.93 399.81L704.82 399.81L705.11 425.38L705.4 441.61L705.6 443.12L705.9 443.12L706.1 435.51L708.06 435.51L708.26 441.56L708.49 441.56L708.69 446.44L710.08 446.44L710.28 438.75L716.05 438.75L716.25 444.03L718.21 444.03L718.41 440.68L719.94 440.68L720.14 434.38L723.97 434.38L724.17 440.68L729.08 440.68L729.29 440.9L730.74 440.9L730.94 439.53L732.04 439.53L732.24 443.39L734.41 443.39L734.61 444.63L735.85 444.63L736.05 439.72L740.17 439.72L740.37 444.33L747.37 444.33L747.57 445.85L751.91 445.85L752.11 455.53L756.01 455.53L756.21 445.74L759.25 445.74L759.45 444.75L760.19 444.75L760.39 440.08L763.57 440.08L763.77 440.75L764 440.75L764.21 464.76L768.04 464.76L768.24 448.37L771.28 448.37L771.49 445.98L771.69 469.6L771.82 469.6L772.02 526.28L775.85 526.28L776.05 425.38L779.7 425.38L779.9 526.45L780.06 526.45L780.26 473.93L783.73 473.93L783.93 514.47L784.09 514.47L784.29 465.98L787.76 465.98L787.96 493.84L788.12 493.84L788.32 425.38L791.78 425.38L791.99 514.73L792.14 514.73L792.35 465.98L795.81 465.98L796.02 494.17L796.17 494.17L796.38 425.38L799.84 425.38L800.05 515.11L800.2 515.11L800.41 465.98L803.87 465.98L804.08 494.63L804.23 494.63L804.44 425.38L808.08 425.38L808.29 515.61L811.93 515.61L812.14 425.38L812.29 425.38L812.5 495.66L815.96 495.66L816.17 472.37L816.32 472.37L816.53 527.17L820.17 527.17L820.38 425.38L840.14 425.38L840.34 516.87L840.5 516.87L840.7 467.04L844.17 467.04L844.37 497.33L844.53 497.33L844.73 425.38L848.38 425.38L848.58 497.73L852.41 497.73L852.61 467.7L856.44 467.7L856.64 498.47L860.47 498.47L860.67 425.38L868.53 425.38L868.73 518.02L872.38 518.02L872.58 425.38L872.74 425.38L872.94 499.34L876.41 499.34L876.61 457.61L876.77 457.61L876.97 475.47L880.44 475.47L880.64 518.48L880.8 518.48L881 425.38L884.47 425.38L884.67 500.05L884.83 500.05L885.03 456.73L888.5 456.73L888.7 448.6L888.86 448.6L889.06 475.61L892.53 475.61L892.73 518.83L892.89 518.83L893.09 468.53L900.59 468.53L900.79 500.91L900.95 500.91L901.15 425.38L908.65 425.38L908.85 519.33L909.01 519.33L909.21 468.8L912.68 468.8L912.88 501.51L913.04 501.51L913.24 425.38L941.07 425.38L941.27 520.24L945.1 520.24L945.3 425.38L949.13 425.38L949.33 520.75L952.98 520.75L953.18 425.38L953.54 425.38L953.55 503.51L954.42 503.51L954.62 459.34L957.01 459.34L957.21 478.82L957.37 478.82L957.57 425.38L981.37 425.38L981.57 505.05L985.4 505.05L985.6 425.38L989.25 425.38L989.45 521.86L989.61 521.86L989.81 470.66L993.28 470.66L993.48 505.63L993.64 505.63L993.84 425.38L1005.55 425.38L1005.75 522.46L1009.58 522.46L1009.78 425.38L1013.61 425.38L1013.81 522.79L1017.64 522.79L1017.84 425.38L1029.73 425.38L1029.93 484.43L1033.57 484.43L1033.78 454.34L1033.93 454.34L1034.14 471.68L1037.78 471.68L1037.99 471.87L1041.63 471.87L1041.84 508.6L1041.99 508.6L1042.2 425.38L1049.87 425.38L1050.08 509.24L1053.9 509.24L1054.11 425.38L1061.78 425.38L1061.99 524.28L1062.14 524.28L1062.35 472.37L1065.81 472.37L1066.02 509.9L1066.17 509.9L1066.38 462.91L1069.84 462.91L1070.04 487.9L1070.2 487.9L1070.4 425.38L1077.9 425.38L1078.1 524.76L1078.26 524.76L1078.46 472.72L1081.93 472.72L1082.13 511.02L1082.29 511.02L1082.49 425.38L1090.17 425.38L1090.37 511.45L1094.2 511.45L1094.4 425.38L1098.23 425.38L1098.43 511.88L1102.26 511.88L1102.46 425.38L1106.29 425.38L1106.49 512.65L1110.43 512.65L1110.65 490.95L1110.96 425.38L1110.96 425.38" clip-path="url(#p0b3b7d0bce)" style="fill:none;stroke-dasharray:5.55,2.4;stroke-dashoffset:0;stroke:#008000;stroke-width:1.5"/></g><g id="line2d_127"><path d="M689.04 425.52L689.04 453.6" clip-path="url(#p0b3b7d0bce)" style="fill:none;stroke:#008000;stroke-width:1.5;stroke-linecap:square"/></g><g id="line2d_128"><path d="M658.29 425.38L1110.96 425.38" clip-path="url(#p0b3b7d0bce)" style="fill:none;stroke:#ffa500;stroke-width:1.5;stroke-linecap:square"/></g><g id="line2d_129"><path d="M658.29 425.38L1110.96 425.38" clip-path="url(#p0b3b7d0bce)" style="fill:none;stroke-dasharray:5.55,2.4;stroke-dashoffset:0;stroke:#ffa500;stroke-width:1.5"/></g><g id="patch_27"><path d="M636.12 538.2L636.12 311.4" style="fill:none;stroke:#000000;stroke-width:0.8;stroke-linejoin:miter;stroke-linecap:square"/></g><g id="patch_28"><path d="M1134.36 538.2L1134.36 311.4" style="fill:none;stroke:#000000;stroke-width:0.8;stroke-linejoin:miter;stroke-linecap:square"/></g><g id="patch_29"><path d="M636.12 538.2L1134.36 538.2" style="fill:none;stroke:#000000;stroke-width:0.8;stroke-linejoin:miter;stroke-linecap:square"/></g><g id="patch_30"><path d="M636.12 311.4L1134.36 311.4" style="fill:none;stroke:#000000;stroke-width:0.8;stroke-linejoin:miter;stroke-linecap:square"/></g><g id="text_75"><text style="font-size:12px;text-anchor:middle" x="884.64" y="305.28">Impedancje faz (R + jX)</text></g><g id="legend_4"><g id="patch_31"><path d="M642.6 410.76L698.76 410.76Q700.92 410.76 700.92 408.6L700.92 318.6Q700.92 316.44 698.76 316.44L642.6 316.44Q641.16 316.44 641.16 318.6L641.16 408.6Q641.16 410.76 642.6 410.76z" style="fill:#ffffff;fill-opacity:0.8;stroke-opacity:0.8;stroke:#cccccc;stroke-linejoin:miter"/></g><g id="line2d_130"><path d="M644.4 324.72L654.48 324.72L664.56 324.72" style="fill:none;stroke:#0000ff;stroke-width:1.5;stroke-linecap:square"/></g><g id="text_76"><text style="font-size:10px;text-anchor:start" x="672.56" y="328.2">R_L1</text></g><g id="line2d_131"><path d="M644.4 339.84L654.48 339.84L664.56 339.84" style="fill:none;stroke-dasharray:5.55,2.4;stroke-dashoffset:0;stroke:#0000ff;stroke-width:1.5"/></g><g id="text_77"><text style="font-size:10px;text-anchor:start" x="672.56" y="343.38">X_L1</text></g><g id="line2d_132"><path d="M644.4 354.96L654.48 354.96L664.56 354.96" style="fill:none;stroke:#008000;stroke-width:1.5;stroke-linecap:square"/></g><g id="text_78"><text style="font-size:10px;text-anchor:start" x="672.56" y="358.56">R_L2</text></g><g id="line2d_133"><path d="M644.4 370.08L654.48 370.08L664.56 370.08" style="fill:none;stroke-dasharray:5.55,2.4;stroke-dashoffset:0;stroke:#008000;stroke-width:1.5"/></g><g id="text_79"><text style="font-size:10px;text-anchor:start" x="672.56" y="373.74">X_L2</text></g><g id="line2d_134"><path d="M644.4 385.2L654.48 385.2L664.56 385.2" style="fill:none;stroke:#ffa500;stroke-width:1.5;stroke-linecap:square"/></g><g id="text_80"><text style="font-size:10px;text-anchor:start" x="672.56" y="388.93">R_L3</text></g><g id="line2d_135"><path d="M644.4 400.32L654.48 400.32L664.56 400.32" style="fill:none;stroke-dasharray:5.55,2.4;stroke-dashoffset:0;stroke:#ffa500;stroke-width:1.5"/></g><g id="text_81"><text style="font-size:10px;text-anchor:start" x="672.56" y="404.11">X_L3</text></g></g></g><g id="axes_5"><g id="patch_32"><path d="M59.24 822.04L557.42 822.04L557.42 595.68L59.24 595.68z" style="fill:#ffffff"/></g><g id="matplotlib.axis_9"><g id="xtick_22"><g id="line2d_136"><path d="M78.12 822.6L78.12 595.8" clip-path="url(#p341b389b39)" style="fill:none;stroke:#b0b0b0;stroke-width:0.8;stroke-linecap:square"/></g><g id="line2d_137"><g><use x="78.12" y="822.6" style="stroke:#000000;stroke-width:0.8" href="#m1504cfccaf"/></g></g><g id="text_82"><text style="font-size:10px;text-anchor:middle" x="77.81" y="836.96">0.0</text></g></g><g id="xtick_23"><g id="line2d_138"><path d="M178.92 822.6L178.92 595.8" clip-path="url(#p341b389b39)" style="fill:none;stroke:#b0b0b0;stroke-width:0.8;stroke-linecap:square"/></g><g id="line2d_139"><g><use x="178.92" y="822.6" style="stroke:#000000;stroke-width:0.8" href="#m1504cfccaf"/></g></g><g id="text_83"><text style="font-size:10px;text-anchor:middle" x="178.68" y="836.96">0.5</text></g></g><g id="xtick_24"><g id="line2d_140"><path d="M279.72 822.6L279.72 595.8" clip-path="url(#p341b389b39)" style="fill:none;stroke:#b0b0b0;stroke-width:0.8;stroke-linecap:square"/></g><g id="line2d_141"><g><use x="279.72" y="822.6" style="stroke:#000000;stroke-width:0.8" href="#m1504cfccaf"/></g></g><g id="text_84"><text style="font-size:10px;text-anchor:middle" x="279.56" y="836.96">1.0</text></g></g><g id="xtick_25"><g id="line2d_142"><path d="M380.52 822.6L380.52 595.8" clip-path="url(#p341b389b39)" style="fill:none;stroke:#b0b0b0;stroke-width:0.8;stroke-linecap:square"/></g><g id="line2d_143"><g><use x="380.52" y="822.6" style="stroke:#000000;stroke-width:0.8" href="#m1504cfccaf"/></g></g><g id="text_85"><text style="font-size:10px;text-anchor:middle" x="380.43" y="836.96">1.5</text></g></g><g id="xtick_26"><g id="line2d_144"><path d="M481.32 822.6L481.32 595.8" clip-path="url(#p341b389b39)" style="fill:none;stroke:#b0b0b0;stroke-width:0.8;stroke-linecap:square"/></g><g id="line2d_145"><g><use x="481.32" y="822.6" style="stroke:#000000;stroke-width:0.8" href="#m1504cfccaf"/></g></g><g id="text_86"><text style="font-size:10px;text-anchor:middle" x="481.31" y="836.96">2.0</text></g></g><g id="text_87"><text style="font-size:10px;text-anchor:middle" x="308.33" y="851.04">Czas [s]</text></g></g><g id="matplotlib.axis_10"><g id="ytick_29"><g id="line2d_146"><path d="M59.4 812.52L557.64 812.52" clip-path="url(#p341b389b39)" style="fill:none;stroke:#b0b0b0;stroke-width:0.8;stroke-linecap:square"/></g><g id="line2d_147"><g><use x="59.4" y="812.52" style="stroke:#000000;stroke-width:0.8" href="#m5d545ce8f8"/></g></g><g id="text_88"><text style="font-size:10px;text-anchor:end" x="52.24" y="816.3">−100</text></g></g><g id="ytick_30"><g id="line2d_148"><path d="M59.4 785.88L557.64 785.88" clip-path="url(#p341b389b39)" style="fill:none;stroke:#b0b0b0;stroke-width:0.8;stroke-linecap:square"/></g><g id="line2d_149"><g><use x="59.4" y="785.88" style="stroke:#000000;stroke-width:0.8" href="#m5d545ce8f8"/></g></g><g id="text_89"><text style="font-size:10px;text-anchor:end" x="52.24" y="789.75">−75</text></g></g><g id="ytick_31"><g id="line2d_150"><path d="M59.4 759.96L557.64 759.96" clip-path="url(#p341b389b39)" style="fill:none;stroke:#b0b0b0;stroke-width:0.8;stroke-linecap:square"/></g><g id="line2d_151"><g><use x="59.4" y="759.96" style="stroke:#000000;stroke-width:0.8" href="#m5d545ce8f8"/></g></g><g id="text_90"><text style="font-size:10px;text-anchor:end" x="52.24" y="763.2">−50</text></g></g><g id="ytick_32"><g id="line2d_152"><path d="M59.4 733.32L557.64 733.32" clip-path="url(#p341b389b39)" style="fill:none;stroke:#b0b0b0;stroke-width:0.8;stroke-linecap:square"/></g><g id="line2d_153"><g><use x="59.4" y="733.32" style="stroke:#000000;stroke-width:0.8" href="#m5d545ce8f8"/></g></g><g id="text_91"><text style="font-size:10px;text-anchor:end" x="52.24" y="736.65">−25</text></g></g><g id="ytick_33"><g id="line2d_154"><path d="M59.4 706.68L557.64 706.68" clip-path="url(#p341b389b39)" style="fill:none;stroke:#b0b0b0;stroke-width:0.8;stroke-linecap:square"/></g><g id="line2d_155"><g><use x="59.4" y="706.68" style="stroke:#000000;stroke-width:0.8" href="#m5d545ce8f8"/></g></g><g id="text_92"><text style="font-size:10px;text-anchor:end" x="52.24" y="710.1">0</text></g></g><g id="ytick_34"><g id="line2d_156"><path d="M59.4 680.04L557.64 680.04" clip-path="url(#p341b389b39)" style="fill:none;stroke:#b0b0b0;stroke-width:0.8;stroke-linecap:square"/></g><g id="line2d_157"><g><use x="59.4" y="680.04" style="stroke:#000000;stroke-width:0.8" href="#m5d545ce8f8"/></g></g><g id="text_93"><text style="font-size:10px;text-anchor:end" x="52.24" y="683.55">25</text></g></g><g id="ytick_35"><g id="line2d_158"><path d="M59.4 653.4L557.64 653.4" clip-path="url(#p341b389b39)" style="fill:none;stroke:#b0b0b0;stroke-width:0.8;stroke-linecap:square"/></g><g id="line2d_159"><g><use x="59.4" y="653.4" style="stroke:#000000;stroke-width:0.8" href="#m5d545ce8f8"/></g></g><g id="text_94"><text style="font-size:10px;text-anchor:end" x="52.24" y="657">50</text></g></g><g id="ytick_36"><g id="line2d_160"><path d="M59.4 626.76L557.64 626.76" clip-path="url(#p341b389b39)" style="fill:none;stroke:#b0b0b0;stroke-width:0.8;stroke-linecap:square"/></g><g id="line2d_161"><g><use x="59.4" y="626.76" style="stroke:#000000;stroke-width:0.8" href="#m5d545ce8f8"/></g></g><g id="text_95"><text style="font-size:10px;text-anchor:end" x="52.24" y="630.45">75</text></g></g><g id="ytick_37"><g id="line2d_162"><path d="M59.4 600.12L557.64 600.12" clip-path="url(#p341b389b39)" style="fill:none;stroke:#b0b0b0;stroke-width:0.8;stroke-linecap:square"/></g><g id="line2d_163"><g><use x="59.4" y="600.12" style="stroke:#000000;stroke-width:0.8" href="#m5d545ce8f8"/></g></g><g id="text_96"><text style="font-size:10px;text-anchor:end" x="52.24" y="603.9">100</text></g></g><g id="text_97"><text style="font-size:10px;text-anchor:middle" x="18.72" y="708.86" transform="rotate(-90 18.72 708.86)">Wartosc</text></g></g><g id="line2d_164"><path d="M81.88 769.86L82.09 795.03L82.29 799.6L82.49 795.03L82.69 781.75L83.09 735.02L83.9 630.27L84.1 616.95L84.31 612.36L84.51 616.95L84.71 630.27L85.11 677.16L85.92 781.75L86.12 795.03L86.32 799.6L86.52 795.03L86.73 781.75L87.13 735.02L87.94 630.27L88.14 616.95L88.34 612.36L88.54 616.95L88.74 630.27L89.15 677.16L89.95 781.75L90.16 795.03L90.36 799.6L90.56 795.03L90.76 781.75L91.16 735.02L91.97 630.27L92.17 616.95L92.38 612.36L92.58 616.95L92.78 630.27L93.18 677.16L93.99 781.75L94.19 795.03L94.39 799.6L94.59 795.03L94.8 781.75L95.2 735.02L96.01 629.38L96.21 615.7L96.41 610.9L96.61 615.66L97.02 650.35L98.02 781.09L98.23 794.18L98.43 798.63L98.63 794.03L98.83 780.84L99.23 734.62L100.04 631.44L100.24 618.46L100.45 613.91L100.65 618.4L100.85 631.47L101.25 677.6L102.06 780.64L102.26 793.74L102.46 798.27L102.66 793.78L102.87 780.71L103.27 734.64L104.08 631.01L104.28 617.79L104.48 613.2L104.68 617.68L104.88 630.84L105.29 677.34L106.09 781.25L106.3 794.52L106.5 799.15L106.7 794.68L106.9 781.52L107.3 734.99L108.11 629.95L108.31 616.5L108.52 611.81L108.72 616.32L108.92 629.65L109.32 676.85L110.13 782.62L110.33 796.09L110.53 800.77L110.73 796.18L110.94 782.77L111.34 735.44L112.15 628.2L112.35 614.41L112.55 609.61L112.75 614.35L112.95 628.07L113.36 676.33L114.16 783.38L114.37 796.94L114.57 801.62L114.77 796.94L114.97 783.38L115.37 735.64L116.18 628.32L116.38 614.67L116.59 609.99L116.79 614.71L116.99 628.38L117.39 676.45L118.2 783.38L118.4 796.94L118.6 801.62L118.8 796.94L119.01 783.38L119.41 735.64L120.22 628.47L120.42 614.83L120.62 610.13L120.82 614.83L121.02 628.47L121.43 676.47L122.23 783.38L122.44 796.94L122.64 801.62L122.84 796.94L123.04 783.38L123.44 735.64L124.25 628.46L124.45 614.83L124.66 610.13L124.86 614.82L125.06 628.46L125.46 676.47L126.27 783.38L126.47 796.94L126.67 801.62L126.87 796.94L127.08 783.38L127.48 735.64L128.29 628.46L128.49 614.82L128.69 610.12L128.89 614.82L129.09 628.46L129.5 676.47L130.3 783.38L130.51 796.94L130.71 801.62L130.91 796.94L131.11 783.38L131.51 735.64L132.32 628.45L132.52 614.82L132.73 610.11L132.93 614.81L133.13 628.45L133.53 676.47L134.34 783.38L134.54 796.94L134.74 801.62L134.94 796.94L135.15 783.38L135.55 735.64L136.36 628.45L136.56 614.81L136.76 610.11L136.96 614.81L137.16 628.45L137.57 676.47L138.37 783.38L138.58 796.94L138.78 801.62L138.98 796.94L139.18 783.38L139.58 735.64L140.39 628.45L140.59 614.8L140.8 610.1L141 614.8L141.2 628.45L141.6 676.46L142.41 783.38L142.61 796.94L142.81 801.62L143.01 796.94L143.22 783.38L143.62 735.64L144.43 628.44L144.63 614.8L144.83 610.1L145.03 614.8L145.23 628.44L145.64 676.46L146.44 783.38L146.65 796.94L146.85 801.62L147.05 796.94L147.25 783.38L147.65 735.64L148.46 628.44L148.66 614.79L148.87 610.09L149.07 614.79L149.27 628.44L149.67 676.46L150.48 783.38L150.68 796.94L150.88 801.62L151.08 796.94L151.29 783.38L151.69 735.64L152.5 628.43L152.7 614.79L152.9 610.09L153.1 614.79L153.3 628.43L153.71 676.46L154.51 783.38L154.72 796.94L154.92 801.62L155.12 796.94L155.32 783.38L155.72 735.64L156.53 628.43L156.73 614.78L156.94 610.08L157.14 614.78L157.34 628.43L157.74 676.46L158.55 783.38L158.75 796.94L158.95 801.62L159.15 796.94L159.36 783.38L159.76 735.64L160.57 628.42L160.77 614.78L160.97 610.08L161.17 614.78L161.37 628.42L161.78 676.46L162.58 783.38L162.79 796.94L162.99 801.62L163.19 796.94L163.39 783.38L163.79 735.64L164.6 628.42L164.8 614.77L165 610.07L165.21 614.77L165.41 628.42L165.81 676.45L166.62 783.38L166.82 796.94L167.02 801.62L167.22 796.94L167.43 783.38L167.83 735.64L168.64 628.42L168.84 614.77L169.04 610.07L169.24 614.77L169.44 628.42L169.85 676.45L170.65 783.38L170.86 796.94L171.06 801.62L171.26 796.94L171.46 783.38L171.86 735.64L172.67 628.41L172.87 614.76L173.07 610.06L173.28 614.76L173.48 628.41L173.88 676.45L174.69 783.38L174.89 796.94L175.09 801.62L175.29 796.94L175.5 783.38L175.9 735.64L176.71 628.41L176.91 614.76L177.11 610.06L177.31 614.76L177.51 628.41L177.92 676.45L178.72 783.38L178.93 796.94L179.13 801.62L179.33 796.94L179.53 783.38L179.93 735.64L180.74 628.4L180.94 614.75L181.14 610.05L181.35 614.75L181.55 628.4L181.95 676.45L182.76 783.38L182.96 796.94L183.16 801.62L183.36 796.94L183.57 783.38L183.97 735.64L184.78 628.4L184.98 614.75L185.18 610.05L185.38 614.75L185.58 628.4L185.99 676.45L186.79 783.38L187 796.94L187.2 801.62L187.4 796.94L187.6 783.38L188 735.64L188.81 628.39L189.01 614.74L189.21 610.04L189.42 614.74L189.62 628.39L190.02 676.44L190.83 783.38L191.03 796.94L191.23 801.62L191.43 796.94L191.64 783.38L192.04 735.64L192.85 628.39L193.05 614.74L193.25 610.04L193.45 614.74L193.65 628.39L194.06 676.44L194.86 783.38L195.07 796.94L195.27 801.62L195.47 796.94L195.67 783.38L196.07 735.64L196.88 628.39L197.08 614.73L197.28 610.03L197.49 614.73L197.69 628.39L198.09 676.44L198.9 783.38L199.1 796.94L199.3 801.62L199.5 796.94L199.71 783.38L200.11 735.64L200.92 628.39L201.12 614.74L201.32 610.04L201.52 614.75L201.72 628.4L202.13 676.45L202.93 783.38L203.14 796.94L203.34 801.62L203.54 796.94L203.74 783.38L204.14 735.64L204.95 628.41L205.15 614.76L205.35 610.06L205.56 614.77L205.76 628.41L206.16 676.45L206.97 783.38L207.17 796.94L207.37 801.62L207.57 796.94L207.78 783.38L208.18 735.64L208.99 628.43L209.19 614.78L209.39 610.08L209.59 614.79L209.79 628.43L210.2 676.46L211 783.38L211.21 796.94L211.41 801.62L211.61 796.94L211.81 783.38L212.21 735.64L213.02 628.44L213.22 614.8L213.42 610.1L213.63 614.81L213.83 628.45L214.23 676.47L215.04 783.38L215.24 796.94L215.44 801.62L215.64 796.94L215.85 783.38L216.25 735.64L217.06 628.46L217.26 614.82L217.46 610.13L217.66 614.83L217.86 628.46L218.27 676.47L219.07 783.38L219.28 796.94L219.48 801.62L219.68 796.94L219.88 783.38L220.28 735.64L221.09 628.48L221.29 614.84L221.49 610.15L221.7 614.85L221.9 628.48L222.3 676.48L223.11 783.38L223.31 796.94L223.51 801.62L223.71 796.94L223.92 783.38L224.32 735.64L225.13 628.5L225.33 614.86L225.53 610.17L225.73 614.87L225.93 628.5L226.34 676.49L227.14 783.38L227.35 796.94L227.55 801.62L227.75 796.94L227.95 783.38L228.35 735.64L229.16 628.51L229.36 614.88L229.56 610.19L229.77 614.89L229.97 628.52L230.37 676.49L231.18 783.38L231.38 796.94L231.58 801.62L231.78 796.94L231.99 783.38L232.39 735.64L233.2 628.53L233.4 614.9L233.6 610.21L233.8 614.91L234 628.53L234.41 676.5L235.21 783.38L235.42 796.94L235.62 801.62L235.82 796.94L236.02 783.38L236.42 735.64L237.23 628.55L237.43 614.93L237.63 610.23L237.84 614.93L238.04 628.55L238.44 676.5L239.25 783.38L239.45 796.94L239.65 801.62L239.85 796.94L240.06 783.38L240.46 735.64L241.27 628.56L241.47 614.95L241.67 610.25L241.87 614.95L242.07 628.57L242.48 676.51L243.28 783.38L243.49 796.94L243.69 801.62L243.89 796.94L244.09 783.38L244.49 735.64L245.3 628.58L245.5 614.97L245.7 610.27L245.91 614.97L246.11 628.59L246.51 676.52L247.32 783.38L247.52 796.94L247.72 801.62L247.92 796.94L248.13 783.38L248.53 735.64L249.34 628.6L249.54 614.99L249.74 610.3L249.94 614.99L250.14 628.6L250.55 676.52L251.35 783.38L251.56 796.94L251.76 801.62L251.96 796.94L252.16 783.38L252.56 735.64L253.37 628.62L253.57 615.01L253.77 610.32L253.98 615.01L254.18 628.62L254.58 676.53L255.39 783.38L255.59 796.94L255.79 801.62L255.99 796.94L256.2 783.38L256.6 735.64L257.41 628.63L257.61 615.03L257.81 610.34L258.01 615.03L258.21 628.64L258.62 676.54L259.42 783.38L259.63 796.94L259.83 801.62L260.03 796.94L260.23 783.38L260.63 735.64L261.44 628.65L261.64 615.05L261.84 610.36L262.05 615.05L262.25 628.65L262.65 676.54L263.46 783.38L263.66 796.94L263.86 801.62L264.06 796.94L264.27 783.38L264.67 735.64L265.48 628.67L265.68 615.07L265.88 610.38L266.08 615.07L266.28 628.67L266.69 676.55L267.49 783.38L267.7 796.94L267.9 801.62L268.1 796.94L268.3 783.38L268.7 735.64L269.51 628.68L269.71 615.09L269.91 610.4L270.12 615.09L270.32 628.69L270.72 676.56L271.53 783.38L271.73 796.94L271.93 801.62L272.13 796.94L272.34 783.38L272.74 735.64L273.55 628.7L273.75 615.11L273.95 610.42L274.15 615.11L274.35 628.71L274.76 676.56L275.56 783.38L275.77 796.94L275.97 801.62L276.17 796.94L276.37 783.38L276.77 735.64L277.58 628.72L277.78 615.13L277.98 610.44L278.19 615.13L278.39 628.72L278.79 676.57L279.6 783.38L279.8 796.94L280 801.61L280.2 796.94L280.41 783.38L280.81 735.64L281.62 628.75L281.82 615.16L282.02 610.48L282.22 615.17L282.42 628.76L282.83 676.58L283.63 783.36L283.84 796.91L284.04 801.58L284.24 796.91L284.44 783.35L284.84 735.63L285.65 628.79L285.85 615.21L286.05 610.53L286.26 615.21L286.46 628.8L286.86 676.6L287.67 783.33L287.87 796.88L288.07 801.55L288.27 796.88L288.48 783.33L288.88 735.62L289.69 628.83L289.89 615.26L290.09 610.58L290.29 615.26L290.49 628.84L290.9 676.61L291.7 783.31L291.91 796.85L292.11 801.52L292.31 796.85L292.51 783.3L292.91 735.61L293.72 628.87L293.92 615.3L294.12 610.63L294.33 615.31L294.53 628.88L294.93 676.63L295.74 783.28L295.94 796.82L296.14 801.49L296.34 796.82L296.55 783.27L296.95 735.6L297.76 628.91L297.96 615.35L298.16 610.68L298.36 615.36L298.56 628.92L298.97 676.65L299.77 783.25L299.98 796.79L300.18 801.45L300.38 796.79L300.58 783.25L300.98 735.59L301.79 628.95L301.99 615.4L302.19 610.73L302.4 615.4L302.6 628.96L303 676.66L303.81 783.23L304.01 796.76L304.21 801.42L304.41 796.76L304.62 783.22L305.02 735.58L305.83 628.99L306.03 615.45L306.23 610.78L306.43 615.45L306.63 629L307.04 676.68L307.84 783.2L308.05 796.73L308.25 801.39L308.45 796.73L308.65 783.2L309.05 735.57L309.86 629.03L310.06 615.49L310.26 610.83L310.47 615.5L310.67 629.04L311.07 676.69L311.88 783.18L312.08 796.7L312.28 801.36L312.48 796.7L312.69 783.17L313.09 735.56L313.9 629.07L314.1 615.54L314.3 610.88L314.5 615.54L314.7 629.08L315.11 676.71L315.91 783.15L316.12 796.67L316.32 801.33L316.52 796.67L316.72 783.15L317.12 735.55L317.93 629.11L318.13 615.59L318.33 610.93L318.54 615.59L318.74 629.12L319.14 676.72L319.95 783.12L320.15 796.64L320.35 801.3L320.55 796.64L320.76 783.12L321.16 735.54L321.97 629.15L322.17 615.63L322.37 610.98L322.57 615.64L322.77 629.16L323.18 676.74L323.98 783.1L324.19 796.61L324.39 801.26L324.59 796.61L324.79 783.09L325.19 735.53L326 629.19L326.2 615.68L326.4 611.03L326.61 615.69L326.81 629.2L327.21 676.75L328.02 783.07L328.22 796.58L328.42 801.23L328.62 796.58L328.83 783.07L329.23 735.52L330.04 629.23L330.24 615.73L330.44 611.08L330.64 615.73L330.84 629.24L331.25 676.77L332.05 783.05L332.26 796.55L332.46 801.2L332.66 796.55L332.86 783.04L333.26 735.51L334.07 629.27L334.27 615.78L334.47 611.13L334.68 615.78L334.88 629.28L335.28 676.78L336.09 783.02L336.29 796.52L336.49 801.17L336.69 796.52L336.9 783.02L337.3 735.5L338.11 629.31L338.31 615.82L338.51 611.18L338.71 615.83L338.91 629.32L339.32 676.8L340.12 783L340.33 796.49L340.53 801.14L340.73 796.48L340.93 782.99L341.33 735.49L342.14 629.34L342.34 615.86L342.54 611.22L342.75 615.86L342.95 629.35L343.35 676.81L344.16 782.97L344.36 796.46L344.56 801.1L344.76 796.45L344.97 782.97L345.37 735.48L346.18 629.37L346.38 615.89L346.58 611.25L346.78 615.89L346.98 629.37L347.39 676.82L348.19 782.94L348.39 796.43L348.6 801.07L348.8 796.42L349 782.94L349.4 735.47L350.21 629.4L350.41 615.92L350.61 611.28L350.82 615.93L351.02 629.4L351.42 676.83L352.23 782.92L352.43 796.4L352.63 801.04L352.83 796.39L353.04 782.91L353.44 735.46L354.25 629.42L354.45 615.95L354.65 611.31L354.85 615.96L355.05 629.43L355.46 676.84L356.26 782.89L356.46 796.37L356.67 801.01L356.87 796.36L357.07 782.89L357.47 735.45L358.28 629.45L358.48 615.98L358.68 611.35L358.89 615.99L359.09 629.45L359.49 676.85L360.3 782.87L360.5 796.33L360.7 800.97L360.9 796.33L361.11 782.86L361.51 735.44L362.32 629.47L362.52 616.02L362.72 611.38L362.92 616.02L363.12 629.48L363.53 676.86L364.33 782.82L364.53 796.27L364.74 800.91L364.94 796.27L365.14 782.81L365.54 735.42L366.35 629.5L366.55 616.05L366.75 611.41L366.96 616.05L367.16 629.5L367.56 676.87L368.37 782.76L368.57 796.21L368.77 800.85L368.97 796.21L369.18 782.75L369.58 735.4L370.39 629.5L370.59 616.05L370.79 611.41L370.99 616.05L371.19 629.5L371.6 676.87L372.4 782.71L372.6 796.15L372.81 800.78L373.01 796.15L373.21 782.7L373.61 735.38L374.42 629.5L374.62 616.05L374.82 611.41L375.03 616.05L375.23 629.5L375.63 676.87L376.44 782.66L376.64 796.09L376.84 800.72L377.04 796.09L377.25 782.65L377.65 735.36L378.46 629.5L378.66 616.05L378.86 611.41L379.06 616.05L379.26 629.5L379.67 676.87L380.47 782.61L380.67 796.03L380.88 800.66L381.08 796.03L381.28 782.6L381.68 735.35L382.49 629.51L382.69 616.06L382.89 611.43L383.1 616.07L383.3 629.52L383.7 676.88L384.51 782.57L384.71 795.99L384.91 800.61L385.11 795.99L385.32 782.57L385.72 735.33L386.53 629.54L386.73 616.09L386.93 611.46L387.13 616.1L387.33 629.54L387.74 676.89L388.54 782.54L388.74 795.95L388.95 800.57L389.15 795.95L389.35 782.53L389.75 735.32L390.56 629.57L390.76 616.12L390.96 611.49L391.17 616.13L391.37 629.57L391.77 676.89L392.58 782.51L392.78 795.91L392.98 800.53L393.18 795.91L393.39 782.5L393.79 735.31L394.6 629.59L394.8 616.15L395 611.52L395.2 616.16L395.4 629.6L395.81 676.9L396.61 782.47L396.81 795.87L397.02 800.49L397.22 795.87L397.42 782.46L397.82 735.29L398.63 629.62L398.83 616.18L399.03 611.56L399.24 616.19L399.44 629.62L399.84 676.91L400.65 782.44L400.85 795.83L401.05 800.44L401.25 795.83L401.46 782.43L401.86 735.28L402.67 629.64L402.87 616.21L403.07 611.59L403.27 616.22L403.47 629.65L403.88 676.92L404.68 782.4L404.88 795.79L405.09 800.4L405.29 795.79L405.49 782.4L405.89 735.27L406.7 629.67L406.9 616.24L407.1 611.62L407.31 616.25L407.51 629.67L407.91 676.93L408.72 782.37L408.92 795.75L409.12 800.36L409.32 795.75L409.52 782.36L409.93 735.25L410.74 629.69L410.94 616.27L411.14 611.65L411.34 616.28L411.54 629.7L411.95 676.94L412.75 782.33L412.95 795.71L413.16 800.32L413.36 795.71L413.56 782.33L413.96 735.24L414.77 629.72L414.97 616.3L415.17 611.68L415.38 616.31L415.58 629.73L415.98 676.95L416.79 782.3L416.99 795.67L417.19 800.27L417.39 795.67L417.59 782.29L418 735.23L418.81 629.75L419.01 616.33L419.21 611.71L419.41 616.34L419.61 629.75L420.02 676.96L420.82 782.27L421.02 795.63L421.23 800.24L421.43 795.64L421.63 782.27L422.03 735.22L422.84 629.75L423.04 616.34L423.24 611.71L423.45 616.33L423.65 629.75L424.05 676.96L424.86 782.29L425.06 795.66L425.26 800.27L425.46 795.67L425.66 782.3L426.07 735.23L426.88 629.73L427.08 616.32L427.28 611.69L427.48 616.31L427.68 629.73L428.09 676.95L428.89 782.32L429.09 795.69L429.3 800.3L429.5 795.7L429.7 782.32L430.1 735.24L430.91 629.72L431.11 616.3L431.31 611.67L431.52 616.29L431.72 629.71L432.12 676.95L432.93 782.34L433.13 795.72L433.33 800.34L433.53 795.73L433.73 782.35L434.14 735.25L434.95 629.7L435.15 616.28L435.35 611.65L435.55 616.27L435.75 629.69L436.16 676.94L436.96 782.37L437.16 795.75L437.37 800.37L437.57 795.76L437.77 782.37L438.17 735.26L438.98 629.68L439.18 616.26L439.38 611.63L439.59 616.25L439.79 629.68L440.19 676.93L441 782.4L441.2 795.78L441.4 800.4L441.6 795.79L441.8 782.4L442.21 735.27L443.02 629.66L443.22 616.24L443.42 611.61L443.62 616.23L443.82 629.66L444.23 676.93L445.03 782.42L445.23 795.81L445.44 800.43L445.64 795.82L445.84 782.43L446.24 735.28L447.05 629.65L447.25 616.22L447.45 611.59L447.66 616.21L447.86 629.64L448.26 676.92L449.07 782.45L449.27 795.85L449.47 800.46L449.67 795.85L449.87 782.45L450.28 735.29L451.09 629.63L451.29 616.2L451.49 611.57L451.69 616.19L451.89 629.63L452.3 676.91L453.1 782.47L453.3 795.88L453.51 800.5L453.71 795.88L453.91 782.48L454.31 735.3L455.12 629.61L455.32 616.18L455.52 611.54L455.73 616.17L455.93 629.61L456.33 676.91L457.14 782.5L457.34 795.91L457.54 800.53L457.74 795.91L457.94 782.5L458.35 735.31L459.16 629.6L459.36 616.16L459.56 611.52L459.76 616.15L459.96 629.59L460.37 676.9L461.17 782.52L461.37 795.94L461.58 800.56L461.78 795.95L461.98 782.54L462.38 735.32L463.19 629.56L463.39 616.12L463.59 611.48L463.8 616.11L464 629.55L464.4 676.89L465.21 782.58L465.41 796.01L465.61 800.63L465.81 796.01L466.01 782.59L466.42 735.35L467.23 629.52L467.43 616.06L467.63 611.42L467.83 616.06L468.03 629.51L468.44 676.87L469.24 782.64L469.44 796.07L469.65 800.7L469.85 796.08L470.05 782.65L470.45 735.37L471.26 629.47L471.46 616.01L471.66 611.37L471.87 616L472.07 629.46L472.47 676.85L473.28 782.7L473.48 796.14L473.68 800.78L473.88 796.15L474.08 782.71L474.49 735.39L475.3 629.43L475.5 615.95L475.7 611.31L475.9 615.95L476.1 629.42L476.51 676.83L477.31 782.75L477.51 796.21L477.72 800.85L477.92 796.21L478.12 782.76L478.52 735.41L479.33 629.38L479.53 615.9L479.73 611.25L479.94 615.9L480.14 629.37L480.54 676.82L481.35 782.81L481.55 796.28L481.75 800.92L481.95 796.28L482.15 782.82L482.56 735.43L483.37 629.33L483.57 615.85L483.77 611.2L483.97 615.84L484.17 629.33L484.58 676.8L485.38 782.87L485.58 796.34L485.79 800.99L485.99 796.35L486.19 782.88L486.59 735.45L487.4 629.29L487.6 615.79L487.8 611.14L488.01 615.79L488.21 629.28L488.61 676.78L489.42 782.93L489.62 796.41L489.82 801.06L490.02 796.42L490.22 782.94L490.63 735.48L491.44 629.24L491.64 615.74L491.84 611.08L492.04 615.73L492.24 629.23L492.65 676.76L493.45 782.96L493.65 796.44L493.86 801.09L494.06 796.44L494.26 782.96L494.66 735.48L495.47 629.17L495.67 615.66L495.87 611L496.08 615.65L496.28 629.16L496.68 676.73L497.49 782.96L497.69 796.45L497.89 801.1L498.09 796.45L498.29 782.97L498.7 735.49L499.51 629.1L499.71 615.58L499.91 610.91L500.11 615.57L500.31 629.09L500.72 676.71L501.52 782.97L501.72 796.46L501.93 801.11L502.13 796.46L502.33 782.97L502.73 735.49L503.54 629.04L503.74 615.49L503.94 610.83L504.15 615.49L504.35 629.02L504.75 676.68L505.56 782.98L505.76 796.47L505.96 801.12L506.16 796.47L506.36 782.98L506.77 735.49L507.58 628.97L507.78 615.41L507.98 610.74L508.18 615.41L508.38 628.95L508.79 676.66L509.59 782.98L509.79 796.48L510 801.13L510.2 796.48L510.4 782.99L510.8 735.49L511.61 628.9L511.81 615.34L512.01 610.66L512.22 615.34L512.42 628.9L512.82 676.64L513.63 782.99L513.83 796.48L514.03 801.13L514.23 796.49L514.43 782.99L514.84 735.5L515.65 628.89L515.85 615.32L516.05 610.65L516.25 615.32L516.45 628.89L516.86 676.63L517.66 783L517.86 796.49L518.07 801.14L518.27 796.49L518.47 783L518.87 735.5L519.68 628.88L519.88 615.31L520.08 610.64L520.29 615.31L520.49 628.87L520.89 676.63L521.7 783L521.9 796.5L522.1 801.15L522.3 796.5L522.5 783.01L522.91 735.5L523.72 628.86L523.92 615.3L524.12 610.62L524.32 615.3L524.52 628.86L524.93 676.62L525.73 783.01L525.93 796.51L526.14 801.16L526.34 796.51L526.54 783.01L526.94 735.5L527.75 628.85L527.95 615.28L528.15 610.61L528.36 615.28L528.56 628.85L528.96 676.62L529.77 783.02L529.97 796.52L530.17 801.17L530.37 796.52L530.57 783.02L530.98 735.51L531.78 628.84L531.99 615.27L532.19 610.59L532.39 615.27L532.59 628.84L533 676.61L533.8 783.03L534 796.52L534.21 801.18L534.41 796.53L534.61 783.03L534.81 728.44L534.81 728.44" clip-path="url(#p341b389b39)" style="fill:none;stroke:#0000ff;stroke-opacity:0.5;stroke-width:1.5;stroke-linecap:square"/></g><g id="line2d_165"><path d="M81.88 706.14L534.81 706.14" clip-path="url(#p341b389b39)" style="fill:none;stroke:#008000;stroke-opacity:0.5;stroke-width:1.5;stroke-linecap:square"/></g><g id="line2d_166"><path d="M81.88 615.23L82.09 620.81L82.49 660.71L83.5 788.78L83.7 798.78L83.9 799.71L84.1 791.47L84.51 751.57L85.52 623.5L85.72 613.5L85.92 612.58L86.12 620.81L86.52 660.71L87.53 788.78L87.74 798.78L87.94 799.71L88.14 791.47L88.54 751.57L89.55 623.5L89.75 613.5L89.95 612.58L90.16 620.81L90.56 660.71L91.57 788.78L91.77 798.78L91.97 799.71L92.17 791.47L92.58 751.57L93.59 623.5L93.79 613.5L93.99 612.58L94.19 620.81L94.59 660.71L95.4 770.7L95.6 713.34L95.81 713.55L96.01 713.13L96.41 710.62L97.62 700.02L97.82 699.45L98.02 699.46L98.23 700.06L98.63 702.77L99.64 711.81L99.84 712.77L100.04 713.18L100.24 712.91L100.65 710.81L101.86 702.35L102.06 701.92L102.26 701.93L102.46 702.33L102.87 704.03L103.67 708.16L104.08 709.17L104.48 709.25L104.68 709.06L105.09 708.09L106.3 704.28L106.5 704.1L106.7 704.24L107.1 705.1L108.11 707.87L108.52 708.12L108.92 708.05L109.32 707.64L110.53 705.9L110.94 705.7L111.34 705.78L111.94 706.21L112.95 707.03L113.36 707.12L113.96 706.96L114.97 706.52L115.58 706.56L116.38 706.79L116.99 706.91L117.8 707.1L118.2 706.89L118.6 706.36L119.61 704.68L119.81 704.59L120.01 704.65L120.42 705.28L121.23 707.61L121.83 709.3L122.03 709.42L122.23 709.13L122.44 708.4L123.04 704.27L123.65 700.51L123.85 700.02L124.05 700.15L124.25 700.95L124.66 704.41L125.66 716.44L125.87 716.93L126.07 716.36L126.27 714.73L126.67 708.88L127.48 695.35L127.68 693.48L127.88 692.96L128.08 694.1L128.49 699.52L129.7 721.15L129.9 721.69L130.1 720.5L130.51 714.24L131.11 702.27L131.51 697.75L131.72 696.73L131.92 696.59L132.12 697.23L132.52 701.01L132.93 707.16L133.53 718.31L133.73 719.99L133.94 720.33L134.14 719.3L134.54 713.64L135.35 699.55L135.75 696.08L135.95 695.74L136.15 696.42L136.56 700.49L137.16 711.17L137.57 717.58L137.77 719.23L137.97 719.59L138.17 718.64L138.58 713.31L139.38 699.01L139.79 695.18L139.99 694.79L140.19 695.51L140.59 699.94L141.8 718.39L142.01 718.75L142.21 717.87L142.61 712.91L143.62 696.04L143.82 694.47L144.02 694.04L144.22 694.8L144.63 699.48L145.64 715.99L145.84 717.45L146.04 717.82L146.24 717.09L146.65 712.58L147.86 693.91L148.06 693.44L148.26 694.22L148.66 699.09L149.67 716.18L149.87 717.77L150.08 718.22L150.28 717.49L150.68 712.87L151.89 693.57L152.09 693.09L152.29 693.89L152.7 698.88L153.71 716.38L153.91 718.01L154.11 718.48L154.31 717.74L154.72 713.05L155.93 693.61L156.13 693.11L156.33 693.88L156.73 698.82L157.74 716.39L157.94 718.05L158.15 718.55L158.35 717.83L158.75 713.15L159.96 693.65L160.16 693.12L160.36 693.86L160.77 698.75L161.78 716.4L161.98 718.09L162.18 718.61L162.38 717.92L162.79 713.26L164 693.69L164.2 693.13L164.4 693.85L164.8 698.69L165.81 716.41L166.01 718.13L166.22 718.68L166.42 718.01L166.82 713.36L168.03 693.73L168.23 693.15L168.43 693.83L168.84 698.63L169.85 716.41L170.05 718.17L170.25 718.75L170.45 718.1L170.86 713.47L172.07 693.77L172.27 693.16L172.47 693.82L172.87 698.57L173.88 716.42L174.08 718.21L174.29 718.81L174.49 718.19L174.69 716.38L175.09 710.04L175.9 695.64L176.1 693.81L176.3 693.18L176.5 693.81L176.71 695.65L177.11 702.12L177.92 716.42L178.12 718.24L178.32 718.88L178.52 718.27L178.72 716.48L179.13 710.13L179.93 695.71L180.14 693.85L180.34 693.2L180.54 693.8L180.74 695.62L181.14 702.05L181.95 716.37L182.15 718.21L182.36 718.87L182.56 718.29L182.76 716.51L183.16 710.21L183.97 695.78L184.17 693.9L184.37 693.22L184.57 693.8L184.78 695.59L185.18 701.97L185.99 716.31L186.19 718.17L186.39 718.85L186.59 718.29L186.79 716.55L187.2 710.28L188 695.85L188.21 693.95L188.41 693.25L188.61 693.8L188.81 695.56L189.21 701.9L190.02 716.25L190.22 718.12L190.43 718.83L190.63 718.3L190.83 716.58L191.23 710.35L192.04 695.92L192.24 694.01L192.44 693.28L192.64 693.8L192.85 695.53L193.25 701.83L194.06 716.18L194.26 718.08L194.46 718.81L194.66 718.31L194.86 716.62L195.27 710.43L196.07 695.99L196.28 694.06L196.48 693.3L196.68 693.8L196.88 695.51L197.28 701.76L198.09 716.12L198.29 718.04L198.5 718.79L198.7 718.32L198.9 716.65L199.3 710.5L200.11 696.07L200.31 694.11L200.51 693.33L200.71 693.8L200.92 695.48L201.32 701.69L202.13 716.05L202.33 717.99L202.53 718.77L202.73 718.32L202.93 716.68L203.34 710.57L204.14 696.14L204.35 694.16L204.55 693.36L204.75 693.81L204.95 695.46L205.35 701.62L206.16 715.99L206.36 717.95L206.57 718.75L206.77 718.33L206.97 716.71L207.37 710.64L208.18 696.21L208.38 694.22L208.58 693.39L208.78 693.81L208.99 695.43L209.39 701.55L210.2 715.92L210.4 717.9L210.6 718.73L210.8 718.33L211 716.74L211.41 710.71L212.21 696.28L212.42 694.27L212.62 693.42L212.82 693.81L213.02 695.41L213.42 701.49L214.23 715.86L214.43 717.86L214.64 718.71L214.84 718.34L215.04 716.77L215.44 710.78L216.25 696.36L216.45 694.33L216.65 693.45L216.85 693.82L217.06 695.39L217.46 701.42L218.27 715.79L218.47 717.81L218.67 718.69L218.87 718.34L219.07 716.8L219.48 710.85L220.28 696.43L220.49 694.38L220.69 693.48L220.89 693.82L221.09 695.36L221.49 701.35L222.3 715.73L222.5 717.76L222.71 718.66L222.91 718.34L223.11 716.83L223.51 710.92L224.32 696.5L224.52 694.44L224.72 693.51L224.92 693.83L225.13 695.34L225.53 701.28L226.34 715.66L226.74 718.64L226.94 718.35L227.14 716.86L227.55 710.99L228.35 696.57L228.76 693.55L228.96 693.83L229.16 695.32L229.56 701.22L230.37 715.59L230.78 718.62L230.98 718.35L231.18 716.89L231.58 711.06L232.39 696.65L232.79 693.58L232.99 693.84L233.2 695.3L233.6 701.15L234.41 715.53L234.81 718.59L235.01 718.35L235.21 716.91L235.62 711.13L236.42 696.72L236.83 693.61L237.03 693.85L237.23 695.28L237.63 701.09L238.44 715.46L238.85 718.57L239.05 718.35L239.25 716.94L239.65 711.2L240.46 696.79L240.86 693.65L241.06 693.85L241.27 695.26L241.67 701.02L242.48 715.39L242.88 718.54L243.08 718.35L243.28 716.97L243.69 711.26L244.49 696.87L244.9 693.68L245.1 693.86L245.3 695.24L245.7 700.96L246.51 715.33L246.92 718.52L247.12 718.35L247.32 716.99L247.72 711.33L248.53 696.94L248.93 693.71L249.13 693.87L249.34 695.22L249.74 700.89L250.55 715.26L250.95 718.49L251.15 718.35L251.35 717.02L251.76 711.4L252.56 697.02L252.97 693.75L253.17 693.88L253.37 695.21L253.77 700.83L254.58 715.19L254.99 718.46L255.19 718.35L255.39 717.04L255.79 711.46L256.8 694.89L257 693.79L257.2 693.89L257.41 695.19L257.81 700.77L258.62 715.12L259.02 718.44L259.22 718.35L259.42 717.06L259.83 711.53L260.84 694.95L261.04 693.82L261.24 693.9L261.44 695.17L261.84 700.7L262.85 717.27L263.06 718.41L263.26 718.34L263.46 717.09L263.86 711.59L264.87 695.01L265.07 693.86L265.27 693.91L265.48 695.16L265.88 700.64L266.89 717.22L267.09 718.38L267.29 718.34L267.49 717.11L267.9 711.66L268.91 695.06L269.11 693.9L269.31 693.92L269.51 695.14L269.91 700.58L270.92 717.17L271.13 718.35L271.33 718.34L271.53 717.13L271.93 711.72L272.94 695.12L273.14 693.93L273.34 693.93L273.55 695.13L273.95 700.52L274.96 717.12L275.16 718.32L275.36 718.33L275.56 717.15L275.97 711.79L276.98 695.18L277.18 693.97L277.38 693.95L277.58 695.12L277.98 700.46L278.99 717.07L279.2 718.29L279.4 718.33L279.6 717.17L280 711.85L281.01 695.24L281.21 694.01L281.41 693.96L281.62 695.1L282.02 700.4L283.03 717.02L283.23 718.27L283.43 718.33L283.63 717.2L284.04 711.92L285.05 695.3L285.25 694.04L285.45 693.97L285.65 695.08L286.05 700.34L287.06 716.98L287.26 718.24L287.47 718.33L287.67 717.23L288.07 711.98L289.08 695.35L289.28 694.07L289.48 693.97L289.69 695.06L290.09 700.28L291.1 716.93L291.3 718.22L291.5 718.33L291.7 717.25L292.11 712.05L293.12 695.41L293.32 694.11L293.52 693.98L293.72 695.05L294.12 700.22L295.13 716.88L295.33 718.2L295.54 718.33L295.74 717.28L296.14 712.12L297.15 695.46L297.35 694.14L297.55 693.99L297.76 695.03L298.16 700.16L299.17 716.83L299.37 718.17L299.57 718.33L299.77 717.3L300.18 712.18L301.19 695.52L301.39 694.18L301.59 694L301.79 695.02L302.19 700.1L303.2 716.79L303.4 718.15L303.61 718.33L303.81 717.33L304.21 712.25L305.22 695.57L305.42 694.21L305.62 694.01L305.83 695L306.23 700.04L307.24 716.74L307.44 718.12L307.64 718.33L307.84 717.35L308.25 712.31L309.26 695.63L309.46 694.25L309.66 694.02L309.86 694.99L310.26 699.98L311.27 716.69L311.47 718.09L311.68 718.33L311.88 717.37L312.28 712.37L313.29 695.69L313.49 694.28L313.69 694.04L313.9 694.97L314.3 699.92L315.31 716.64L315.51 718.07L315.71 718.33L315.91 717.4L316.32 712.44L317.33 695.75L317.53 694.32L317.73 694.05L317.93 694.96L318.33 699.86L319.34 716.59L319.54 718.04L319.75 718.32L319.95 717.42L320.35 712.5L321.36 695.8L321.56 694.36L321.76 694.06L321.97 694.95L322.37 699.8L323.38 716.54L323.58 718.01L323.78 718.32L323.98 717.44L324.39 712.56L325.4 695.86L325.6 694.39L325.8 694.07L326 694.93L326.4 699.75L327.41 716.49L327.61 717.98L327.82 718.32L328.02 717.46L328.42 712.63L329.43 695.92L329.63 694.43L329.83 694.09L330.04 694.92L330.44 699.69L331.45 716.44L331.65 717.95L331.85 718.31L332.05 717.48L332.46 712.69L333.47 695.98L333.67 694.47L333.87 694.1L334.07 694.91L334.47 699.63L335.48 716.39L335.68 717.92L335.89 718.31L336.09 717.5L336.49 712.75L337.5 696.04L337.7 694.51L337.9 694.12L338.11 694.9L338.51 699.58L339.52 716.34L339.72 717.89L339.92 718.3L340.12 717.52L340.53 712.81L341.54 696.1L341.74 694.55L341.94 694.13L342.14 694.89L342.54 699.52L343.55 716.28L343.75 717.86L343.96 718.3L344.16 717.54L344.56 712.87L345.57 696.15L345.77 694.59L345.97 694.15L346.18 694.88L346.58 699.47L347.59 716.23L347.79 717.83L347.99 718.29L348.19 717.56L348.6 712.93L349.61 696.21L349.81 694.63L350.01 694.17L350.21 694.87L350.61 699.41L351.62 716.18L351.82 717.8L352.03 718.28L352.23 717.58L352.63 712.99L353.64 696.27L353.84 694.67L354.04 694.18L354.25 694.86L354.65 699.36L355.86 717.77L356.06 718.27L356.26 717.59L356.67 713.05L357.68 696.33L357.88 694.71L358.08 694.2L358.28 694.86L358.68 699.31L359.89 717.74L360.1 718.27L360.3 717.61L360.7 713.11L361.71 696.4L361.91 694.75L362.11 694.22L362.32 694.85L362.72 699.25L363.93 717.7L364.13 718.26L364.33 717.63L364.74 713.17L365.75 696.46L365.95 694.79L366.15 694.24L366.35 694.84L366.75 699.2L367.56 713.3L367.76 618.21L367.96 609.73L368.17 610.69L368.37 620.99L368.77 665.15L369.78 802.24L369.98 811.51L370.18 810.46L370.39 799.21L370.79 751.28L371.6 640.57L372 617.79L372.2 619.11L372.4 628.9L372.81 668.59L373.82 800.77L374.02 809.8L374.22 808.68L374.42 797.53L374.82 750.5L375.63 641.64L376.03 618.31L376.24 619.16L376.44 628.52L376.84 668.13L377.85 799.69L378.05 808.66L378.25 807.59L378.46 796.6L378.86 749.68L379.67 637.49L380.07 612.01L380.27 612.6L380.47 622.38L380.88 665.25L381.68 775.69L382.09 799.83L382.29 798.42L382.49 788.04L382.89 745.94L383.9 616.14L384.1 607.24L384.31 607.99L384.51 618.38L384.91 663.53L385.72 774.34L386.12 798.97L386.32 798.05L386.53 788.14L386.93 745.99L387.94 616.1L388.14 607.45L388.34 608.47L388.54 619.03L388.95 663.83L389.75 774.42L390.16 799.09L390.36 798.17L390.56 788.25L390.96 746.04L391.97 616.44L392.17 607.81L392.38 608.8L392.58 619.32L392.98 663.98L393.79 774.51L394.19 799.2L394.39 798.29L394.6 788.35L395 746.09L396.01 616.9L396.21 608.32L396.41 609.31L396.61 619.78L397.02 664.22L397.82 774.6L398.23 799.32L398.43 798.4L398.63 788.45L399.03 746.14L400.04 617.63L400.24 609.13L400.45 610.13L400.65 620.53L401.05 664.58L401.86 775.14L402.26 800.25L402.46 799.43L402.67 789.45L403.07 746.71L404.08 618.48L404.28 610.07L404.48 611.07L404.68 621.37L405.09 664.99L405.89 776.66L406.3 802.32L406.5 801.46L406.7 791.27L407.1 747.59L407.91 636.18L408.31 611.02L408.52 612.01L408.72 622.2L409.12 665.38L410.13 794.95L410.33 803.52L410.53 802.56L410.74 792.16L411.14 747.94L411.95 636.62L412.35 611.58L412.55 612.54L412.75 622.66L413.16 665.59L414.17 795L414.37 803.57L414.57 802.61L414.77 792.2L415.17 747.96L415.98 636.89L416.38 611.92L416.59 612.87L416.79 622.94L417.19 665.72L418.2 795.05L418.4 803.63L418.6 802.66L418.81 792.25L419.21 747.98L420.02 636.93L420.42 611.94L420.62 612.88L420.82 622.94L421.23 665.72L422.24 795.09L422.44 803.68L422.64 802.71L422.84 792.3L423.24 748.01L424.05 636.93L424.45 611.94L424.66 612.88L424.86 622.94L425.26 665.7L426.27 794.99L426.47 803.54L426.67 802.55L426.88 792.13L427.28 747.9L428.09 636.68L428.49 611.56L428.69 612.48L428.89 622.56L429.3 665.51L430.31 794.62L430.51 803.14L430.71 802.16L430.91 791.78L431.31 747.74L432.12 636.31L432.52 611.04L432.73 611.96L432.93 622.1L433.33 665.28L434.34 794.28L434.54 802.77L434.74 801.79L434.95 791.46L435.35 747.58L436.16 635.86L436.56 610.42L436.76 611.34L436.96 621.54L437.37 665.01L438.17 776.86L438.58 802.33L438.78 801.36L438.98 791.06L439.38 747.38L440.19 635.39L440.59 609.79L440.8 610.71L441 620.98L441.4 664.75L442.21 776.47L442.61 801.81L442.81 800.83L443.02 790.59L443.42 747.15L444.43 617.88L444.63 609.35L444.83 610.29L445.03 620.61L445.44 664.58L446.24 776.1L446.65 801.3L446.85 800.34L447.05 790.15L447.45 746.94L448.46 617.66L448.66 609.12L448.87 610.07L449.07 620.43L449.47 664.5L450.28 775.75L450.68 800.83L450.88 799.87L451.09 789.73L451.49 746.74L452.5 617.8L452.7 609.29L452.9 610.26L453.1 620.62L453.51 664.61L454.31 775.51L454.72 800.55L454.92 799.61L455.12 789.53L455.52 746.66L456.53 618.16L456.73 609.69L456.94 610.67L457.14 620.99L457.54 664.79L458.35 775.51L458.75 800.55L458.95 799.61L459.16 789.53L459.56 746.66L460.57 618.54L460.77 610.12L460.97 611.09L461.17 621.36L461.58 664.98L462.38 775.51L462.79 800.55L462.99 799.61L463.19 789.53L463.59 746.66L464.6 619.09L464.8 610.73L465.01 611.71L465.21 621.92L465.61 665.25L466.42 775.62L466.82 800.74L467.02 799.83L467.23 789.74L467.63 746.78L468.44 636.45L468.84 611.36L469.04 612.33L469.24 622.48L469.65 665.51L470.45 775.96L470.86 801.22L471.06 800.3L471.26 790.16L471.66 746.98L472.47 636.86L472.87 611.9L473.08 612.86L473.28 622.94L473.68 665.72L474.69 793.09L474.89 801.47L475.09 800.53L475.3 790.34L475.7 747.05L476.51 636.93L476.91 611.94L477.11 612.88L477.31 622.94L477.72 665.72L478.72 793.04L478.93 801.42L479.13 800.48L479.33 790.3L479.73 747.03L480.54 636.93L480.94 611.94L481.15 612.88L481.35 622.94L481.75 665.71L482.76 793.08L482.96 801.48L483.16 800.54L483.37 790.37L483.77 747.07L484.58 636.8L484.98 611.75L485.18 612.68L485.38 622.75L485.79 665.63L486.79 793.11L487 801.49L487.2 800.53L487.4 790.33L487.8 747.04L488.61 636.77L489.01 611.73L489.22 612.67L489.42 622.75L489.82 665.63L490.83 792.85L491.03 801.21L491.23 800.25L491.44 790.09L491.84 746.93L492.65 636.77L493.05 611.73L493.25 612.67L493.45 622.75L493.86 665.63L494.66 775.96L495.07 801.17L495.27 800.22L495.47 790.07L495.87 746.92L496.68 636.77L497.08 611.73L497.29 612.67L497.49 622.75L497.89 665.63L498.7 775.95L499.1 801.15L499.3 800.21L499.51 790.06L499.91 746.91L500.72 636.77L501.12 611.73L501.32 612.67L501.52 622.75L501.93 665.63L502.73 775.94L503.14 801.13L503.34 800.19L503.54 790.04L503.94 746.91L504.75 636.77L505.15 611.73L505.36 612.67L505.56 622.75L505.96 665.63L506.77 775.93L507.17 801.11L507.37 800.17L507.58 790.03L507.98 746.9L508.79 636.77L509.19 611.73L509.39 612.67L509.59 622.75L510 665.63L510.8 775.91L511.21 801.1L511.41 800.16L511.61 790.01L512.01 746.89L512.82 636.77L513.22 611.73L513.43 612.67L513.63 622.75L514.03 665.63L514.84 775.9L515.24 801.08L515.44 800.14L515.65 790L516.05 746.88L516.86 636.77L517.26 611.73L517.46 612.67L517.66 622.75L518.07 665.63L518.87 775.89L519.28 801.06L519.48 800.12L519.68 789.98L520.08 746.88L520.89 636.77L521.29 611.73L521.5 612.67L521.7 622.75L522.1 665.63L522.91 775.88L523.31 801.05L523.51 800.11L523.72 789.97L524.12 746.87L524.93 636.77L525.33 611.73L525.53 612.67L525.73 622.75L526.14 665.63L526.94 775.86L527.35 801.03L527.55 800.09L527.75 789.95L528.15 746.86L528.96 636.77L529.36 611.73L529.57 612.67L529.77 622.75L530.17 665.63L530.98 775.85L531.38 801.01L531.58 800.07L531.78 789.94L532.19 746.86L533 636.77L533.4 611.73L533.6 612.67L533.8 622.75L534.21 665.63L534.61 724.06L534.81 773.58L534.81 773.58" clip-path="url(#p341b389b39)" style="fill:none;stroke:#ffa500;stroke-opacity:0.5;stroke-width:1.5;stroke-linecap:square"/></g><g id="line2d_167"><path d="M81.88 706.14L534.81 706.14" clip-path="url(#p341b389b39)" style="fill:none;stroke:#ff0000;stroke-width:2;stroke-linecap:square"/></g><g id="line2d_168"><path d="M81.88 706.14L534.81 706.14" clip-path="url(#p341b389b39)" style="fill:none;stroke-dasharray:7.4,3.2;stroke-dashoffset:0;stroke:#8b0000;stroke-width:2"/></g><g id="line2d_169"><path d="M81.88 706.14L534.81 706.14" clip-path="url(#p341b389b39)" style="fill:none;stroke-dasharray:2,3.3;stroke-dashoffset:0;stroke:#ff8c00;stroke-width:2"/></g><g id="patch_33"><path d="M59.4 822.6L59.4 595.8" style="fill:none;stroke:#000000;stroke-width:0.8;stroke-linejoin:miter;stroke-linecap:square"/></g><g id="patch_34"><path d="M557.64 822.6L557.64 595.8" style="fill:none;stroke:#000000;stroke-width:0.8;stroke-linejoin:miter;stroke-linecap:square"/></g><g id="patch_35"><path d="M59.4 822.6L557.64 822.6" style="fill:none;stroke:#000000;stroke-width:0.8;stroke-linejoin:miter;stroke-linecap:square"/></g><g id="patch_36"><path d="M59.4 595.8L557.64 595.8" style="fill:none;stroke:#000000;stroke-width:0.8;stroke-linejoin:miter;stroke-linecap:square"/></g><g id="text_98"><text style="font-size:12px;text-anchor:middle" x="308.33" y="589.68">Wynik testu algorytmu ZDistA</text></g><g id="legend_5"><g id="patch_37"><path d="M66.6 817.56L141.48 817.56Q143.64 817.56 143.64 815.4L143.64 725.4Q143.64 723.96 141.48 723.96L66.6 723.96Q64.44 723.96 64.44 725.4L64.44 815.4Q64.44 817.56 66.6 817.56z" style="fill:#ffffff;fill-opacity:0.8;stroke-opacity:0.8;stroke:#cccccc;stroke-linejoin:miter"/></g><g id="line2d_170"><path d="M68.4 731.52L78.48 731.52L88.56 731.52" style="fill:none;stroke:#0000ff;stroke-opacity:0.5;stroke-width:1.5;stroke-linecap:square"/></g><g id="text_99"><text style="font-size:10px;text-anchor:start" x="96.24" y="735.18">I_L1</text></g><g id="line2d_171"><path d="M68.4 746.64L78.48 746.64L88.56 746.64" style="fill:none;stroke:#008000;stroke-opacity:0.5;stroke-width:1.5;stroke-linecap:square"/></g><g id="text_100"><text style="font-size:10px;text-anchor:start" x="96.24" y="750.36">I_L2</text></g><g id="line2d_172"><path d="M68.4 761.76L78.48 761.76L88.56 761.76" style="fill:none;stroke:#ffa500;stroke-opacity:0.5;stroke-width:1.5;stroke-linecap:square"/></g><g id="text_101"><text style="font-size:10px;text-anchor:start" x="96.24" y="765.54">I_L3</text></g><g id="line2d_173"><path d="M68.76 777.24L78.84 777.24L88.92 777.24" style="fill:none;stroke:#ff0000;stroke-width:2;stroke-linecap:square"/></g><g id="text_102"><text style="font-size:10px;text-anchor:start" x="96.24" y="780.72">Trip L1-E</text></g><g id="line2d_174"><path d="M68.76 792.36L78.84 792.36L88.92 792.36" style="fill:none;stroke-dasharray:7.4,3.2;stroke-dashoffset:0;stroke:#8b0000;stroke-width:2"/></g><g id="text_103"><text style="font-size:10px;text-anchor:start" x="96.24" y="795.8">Trip L2-E</text></g><g id="line2d_175"><path d="M68.76 807.48L78.84 807.48L88.92 807.48" style="fill:none;stroke-dasharray:2,3.3;stroke-dashoffset:0;stroke:#ff8c00;stroke-width:2"/></g><g id="text_104"><text style="font-size:10px;text-anchor:start" x="96.24" y="810.88">Trip L3-E</text></g></g></g><g id="axes_6"><g id="patch_38"><path d="M635.56 822.04L1133.73 822.04L1133.73 595.68L635.56 595.68z" style="fill:#ffffff"/></g><g id="matplotlib.axis_11"><g id="xtick_27"><g id="line2d_176"><path d="M654.84 822.6L654.84 595.8" clip-path="url(#peea3182d98)" style="fill:none;stroke:#b0b0b0;stroke-width:0.8;stroke-linecap:square"/></g><g id="line2d_177"><g><use x="654.84" y="822.6" style="stroke:#000000;stroke-width:0.8" href="#m1504cfccaf"/></g></g><g id="text_105"><text style="font-size:10px;text-anchor:middle" x="654.33" y="836.96">0.0</text></g></g><g id="xtick_28"><g id="line2d_178"><path d="M755.64 822.6L755.64 595.8" clip-path="url(#peea3182d98)" style="fill:none;stroke:#b0b0b0;stroke-width:0.8;stroke-linecap:square"/></g><g id="line2d_179"><g><use x="755.64" y="822.6" style="stroke:#000000;stroke-width:0.8" href="#m1504cfccaf"/></g></g><g id="text_106"><text style="font-size:10px;text-anchor:middle" x="755.04" y="836.96">0.5</text></g></g><g id="xtick_29"><g id="line2d_180"><path d="M856.44 822.6L856.44 595.8" clip-path="url(#peea3182d98)" style="fill:none;stroke:#b0b0b0;stroke-width:0.8;stroke-linecap:square"/></g><g id="line2d_181"><g><use x="856.44" y="822.6" style="stroke:#000000;stroke-width:0.8" href="#m1504cfccaf"/></g></g><g id="text_107"><text style="font-size:10px;text-anchor:middle" x="855.75" y="836.96">1.0</text></g></g><g id="xtick_30"><g id="line2d_182"><path d="M956.52 822.6L956.52 595.8" clip-path="url(#peea3182d98)" style="fill:none;stroke:#b0b0b0;stroke-width:0.8;stroke-linecap:square"/></g><g id="line2d_183"><g><use x="956.52" y="822.6" style="stroke:#000000;stroke-width:0.8" href="#m1504cfccaf"/></g></g><g id="text_108"><text style="font-size:10px;text-anchor:middle" x="956.46" y="836.96">1.5</text></g></g><g id="xtick_31"><g id="line2d_184"><path d="M1057.32 822.6L1057.32 595.8" clip-path="url(#peea3182d98)" style="fill:none;stroke:#b0b0b0;stroke-width:0.8;stroke-linecap:square"/></g><g id="line2d_185"><g><use x="1057.32" y="822.6" style="stroke:#000000;stroke-width:0.8" href="#m1504cfccaf"/></g></g><g id="text_109"><text style="font-size:10px;text-anchor:middle" x="1057.17" y="836.96">2.0</text></g></g><g id="text_110"><text style="font-size:10px;text-anchor:middle" x="884.64" y="851.04">Czas [s]</text></g></g><g id="matplotlib.axis_12"><g id="ytick_38"><g id="line2d_186"><path d="M636.12 811.8L1134.36 811.8" clip-path="url(#peea3182d98)" style="fill:none;stroke:#b0b0b0;stroke-width:0.8;stroke-linecap:square"/></g><g id="line2d_187"><g><use x="636.12" y="811.8" style="stroke:#000000;stroke-width:0.8" href="#m5d545ce8f8"/></g></g><g id="text_111"><text style="font-size:10px;text-anchor:end" x="628.56" y="815.55">0</text></g></g><g id="ytick_39"><g id="line2d_188"><path d="M636.12 785.88L1134.36 785.88" clip-path="url(#peea3182d98)" style="fill:none;stroke:#b0b0b0;stroke-width:0.8;stroke-linecap:square"/></g><g id="line2d_189"><g><use x="636.12" y="785.88" style="stroke:#000000;stroke-width:0.8" href="#m5d545ce8f8"/></g></g><g id="text_112"><text style="font-size:10px;text-anchor:end" x="628.56" y="789.33">25000</text></g></g><g id="ytick_40"><g id="line2d_190"><path d="M636.12 759.24L1134.36 759.24" clip-path="url(#peea3182d98)" style="fill:none;stroke:#b0b0b0;stroke-width:0.8;stroke-linecap:square"/></g><g id="line2d_191"><g><use x="636.12" y="759.24" style="stroke:#000000;stroke-width:0.8" href="#m5d545ce8f8"/></g></g><g id="text_113"><text style="font-size:10px;text-anchor:end" x="628.56" y="763.12">50000</text></g></g><g id="ytick_41"><g id="line2d_192"><path d="M636.12 733.32L1134.36 733.32" clip-path="url(#peea3182d98)" style="fill:none;stroke:#b0b0b0;stroke-width:0.8;stroke-linecap:square"/></g><g id="line2d_193"><g><use x="636.12" y="733.32" style="stroke:#000000;stroke-width:0.8" href="#m5d545ce8f8"/></g></g><g id="text_114"><text style="font-size:10px;text-anchor:end" x="628.56" y="736.9">75000</text></g></g><g id="ytick_42"><g id="line2d_194"><path d="M636.12 707.4L1134.36 707.4" clip-path="url(#peea3182d98)" style="fill:none;stroke:#b0b0b0;stroke-width:0.8;stroke-linecap:square"/></g><g id="line2d_195"><g><use x="636.12" y="707.4" style="stroke:#000000;stroke-width:0.8" href="#m5d545ce8f8"/></g></g><g id="text_115"><text style="font-size:10px;text-anchor:end" x="628.56" y="710.69">100000</text></g></g><g id="ytick_43"><g id="line2d_196"><path d="M636.12 680.76L1134.36 680.76" clip-path="url(#peea3182d98)" style="fill:none;stroke:#b0b0b0;stroke-width:0.8;stroke-linecap:square"/></g><g id="line2d_197"><g><use x="636.12" y="680.76" style="stroke:#000000;stroke-width:0.8" href="#m5d545ce8f8"/></g></g><g id="text_116"><text style="font-size:10px;text-anchor:end" x="628.56" y="684.47">125000</text></g></g><g id="ytick_44"><g id="line2d_198"><path d="M636.12 654.84L1134.36 654.84" clip-path="url(#peea3182d98)" style="fill:none;stroke:#b0b0b0;stroke-width:0.8;stroke-linecap:square"/></g><g id="line2d_199"><g><use x="636.12" y="654.84" style="stroke:#000000;stroke-width:0.8" href="#m5d545ce8f8"/></g></g><g id="text_117"><text style="font-size:10px;text-anchor:end" x="628.56" y="658.25">150000</text></g></g><g id="ytick_45"><g id="line2d_200"><path d="M636.12 628.2L1134.36 628.2" clip-path="url(#peea3182d98)" style="fill:none;stroke:#b0b0b0;stroke-width:0.8;stroke-linecap:square"/></g><g id="line2d_201"><g><use x="636.12" y="628.2" style="stroke:#000000;stroke-width:0.8" href="#m5d545ce8f8"/></g></g><g id="text_118"><text style="font-size:10px;text-anchor:end" x="628.56" y="632.04">175000</text></g></g><g id="ytick_46"><g id="line2d_202"><path d="M636.12 602.28L1134.36 602.28" clip-path="url(#peea3182d98)" style="fill:none;stroke:#b0b0b0;stroke-width:0.8;stroke-linecap:square"/></g><g id="line2d_203"><g><use x="636.12" y="602.28" style="stroke:#000000;stroke-width:0.8" href="#m5d545ce8f8"/></g></g><g id="text_119"><text style="font-size:10px;text-anchor:end" x="628.56" y="605.82">200000</text></g></g><g id="text_120"><text style="font-size:10px;text-anchor:middle" x="584.15" y="708.86" transform="rotate(-90 584.15 708.86)">|Z| [Ohm]</text></g></g><g id="line2d_204"><path d="M658.29 811.59L1110.96 811.58" clip-path="url(#peea3182d98)" style="fill:none;stroke:#0000ff;stroke-width:1.5;stroke-linecap:square"/></g><g id="line2d_205"><path d="M658.29 809.49L672.64 809.49L672.84 810.33L681.28 810.33L681.48 811.53L688.4 811.53L688.69 808.96L688.98 802.15L689.07 718.89L689.07 718.89L689.28 811.53L700.28 811.53L700.99 605.64L701.72 605.64L701.93 705.05L702.73 705.05L702.93 721.62L704.82 721.62L705.11 705.05L705.6 751.82L705.9 751.82L706.1 765.13L708.06 765.13L708.26 759.89L708.49 759.89L708.69 769.43L710.08 769.43L710.28 773.31L716.05 773.31L716.25 769.01L718.21 769.01L718.41 767.54L719.94 767.54L720.14 773.57L723.97 773.57L724.17 767.54L729.08 767.54L729.29 773.84L730.74 773.84L730.94 779.08L732.04 779.08L732.24 775.72L734.41 775.72L734.61 770.17L735.85 770.17L736.05 775.72L740.17 775.72L740.37 770.38L747.37 770.38L747.57 761.78L751.91 761.78L752.11 747.1L756.01 747.1L756.21 761.78L759.25 761.78L759.45 770.38L760.19 770.38L760.39 775.51L763.57 775.51L763.77 761.36L764 761.36L764.21 717.21L768.04 717.21L768.24 747.1L771.28 747.1L771.49 762.3L771.69 706.73L771.82 706.73L772.02 624.93L775.85 624.93L776.05 811.59L779.7 811.59L779.9 624.93L780.06 624.93L780.26 717.11L783.73 717.11L783.93 624.93L784.09 624.93L784.29 717.11L787.76 717.11L787.96 624.93L788.12 624.93L788.32 811.59L791.78 811.59L791.99 624.93L792.14 624.93L792.35 717.11L795.81 717.11L796.02 624.93L796.17 624.93L796.38 811.59L799.84 811.59L800.05 624.93L800.2 624.93L800.41 717.11L803.87 717.11L804.08 624.93L804.23 624.93L804.44 811.59L808.08 811.59L808.29 624.93L811.93 624.93L812.14 811.59L812.29 811.59L812.5 624.93L815.96 624.93L816.17 714.07L816.32 714.07L816.53 624.93L820.17 624.93L820.38 811.59L840.14 811.59L840.34 624.93L840.5 624.93L840.7 717.11L844.17 717.11L844.37 624.93L844.53 624.93L844.73 811.59L848.38 811.59L848.58 624.93L852.41 624.93L852.61 717.11L856.44 717.11L856.64 624.93L860.47 624.93L860.67 811.59L868.53 811.59L868.73 624.93L872.38 624.93L872.58 811.59L872.74 811.59L872.94 624.93L876.41 624.93L876.61 746.99L876.77 746.99L876.97 717.11L880.44 717.11L880.64 624.93L880.8 624.93L881 811.59L884.47 811.59L884.67 624.93L884.83 624.93L885.03 717.11L888.5 717.11L888.7 761.46L888.86 761.46L889.06 717.11L892.53 717.11L892.73 624.93L892.89 624.93L893.09 717.11L900.59 717.11L900.79 624.93L900.95 624.93L901.15 811.59L908.65 811.59L908.85 624.93L909.01 624.93L909.21 717.11L912.68 717.11L912.88 624.93L913.04 624.93L913.24 811.59L941.07 811.59L941.27 624.93L945.1 624.93L945.3 811.59L949.13 811.59L949.33 624.93L952.98 624.93L953.18 811.59L953.54 811.59L953.55 624.93L954.42 624.93L954.62 717.11L957.01 717.11L957.21 624.93L957.37 624.93L957.57 811.59L981.37 811.59L981.57 624.93L985.4 624.93L985.6 811.59L989.25 811.59L989.45 624.93L989.61 624.93L989.81 717.11L993.28 717.11L993.48 624.93L993.64 624.93L993.84 811.59L1005.55 811.59L1005.75 624.93L1009.58 624.93L1009.78 811.59L1013.61 811.59L1013.81 624.93L1017.64 624.93L1017.84 811.59L1029.73 811.59L1029.93 624.93L1033.57 624.93L1033.78 746.99L1033.93 746.99L1034.14 717.11L1041.63 717.11L1041.84 624.93L1041.99 624.93L1042.2 811.59L1049.87 811.59L1050.08 624.93L1053.9 624.93L1054.11 811.59L1061.78 811.59L1061.99 624.93L1062.14 624.93L1062.35 717.11L1065.81 717.11L1066.02 624.93L1066.17 624.93L1066.38 717.11L1069.84 717.11L1070.04 624.93L1070.2 624.93L1070.4 811.59L1077.9 811.59L1078.1 624.93L1078.26 624.93L1078.46 717.11L1081.93 717.11L1082.13 624.93L1082.29 624.93L1082.49 811.59L1090.17 811.59L1090.37 624.93L1094.2 624.93L1094.4 811.59L1098.23 811.59L1098.43 624.93L1102.26 624.93L1102.46 811.59L1106.29 811.59L1106.49 624.93L1110.65 624.93L1110.96 811.59L1110.96 811.59" clip-path="url(#peea3182d98)" style="fill:none;stroke:#008000;stroke-width:1.5;stroke-linecap:square"/></g><g id="line2d_206"><path d="M658.29 811.59L1110.96 811.58" clip-path="url(#peea3182d98)" style="fill:none;stroke:#ffa500;stroke-width:1.5;stroke-linecap:square"/></g><g id="line2d_207"><path d="M635.76 811.44L1134 811.44" clip-path="url(#peea3182d98)" style="fill:none;stroke-dasharray:5.55,2.4;stroke-dashoffset:0;stroke:#008000;stroke-width:1.5"/></g><g id="line2d_208"><path d="M635.76 811.44L1134 811.44" clip-path="url(#peea3182d98)" style="fill:none;stroke-dasharray:5.55,2.4;stroke-dashoffset:0;stroke:#ffa500;stroke-width:1.5"/></g><g id="line2d_209"><path d="M635.76 811.44L1134 811.44" clip-path="url(#peea3182d98)" style="fill:none;stroke-dasharray:5.55,2.4;stroke-dashoffset:0;stroke:#ff0000;stroke-width:1.5"/></g><g id="patch_39"><path d="M636.12 822.6L636.12 595.8" style="fill:none;stroke:#000000;stroke-width:0.8;stroke-linejoin:miter;stroke-linecap:square"/></g><g id="patch_40"><path d="M1134.36 822.6L1134.36 595.8" style="fill:none;stroke:#000000;stroke-width:0.8;stroke-linejoin:miter;stroke-linecap:square"/></g><g id="patch_41"><path d="M636.12 822.6L1134.36 822.6" style="fill:none;stroke:#000000;stroke-width:0.8;stroke-linejoin:miter;stroke-linecap:square"/></g><g id="patch_42"><path d="M636.12 595.8L1134.36 595.8" style="fill:none;stroke:#000000;stroke-width:0.8;stroke-linejoin:miter;stroke-linecap:square"/></g><g id="text_121"><text style="font-size:12px;text-anchor:middle" x="884.64" y="589.68">Modul impedancji |Z|</text></g><g id="legend_6"><g id="patch_43"><path d="M642.6 695.88L719.64 695.88Q721.08 695.88 721.08 693.72L721.08 603Q721.08 600.84 719.64 600.84L642.6 600.84Q641.16 600.84 641.16 603L641.16 693.72Q641.16 695.88 642.6 695.88z" style="fill:#ffffff;fill-opacity:0.8;stroke-opacity:0.8;stroke:#cccccc;stroke-linejoin:miter"/></g><g id="line2d_210"><path d="M644.4 609.12L654.48 609.12L664.56 609.12" style="fill:none;stroke:#0000ff;stroke-width:1.5;stroke-linecap:square"/></g><g id="text_122"><text style="font-size:10px;text-anchor:start" x="672.56" y="612.6">|Z_L1|</text></g><g id="line2d_211"><path d="M644.4 624.24L654.48 624.24L664.56 624.24" style="fill:none;stroke:#008000;stroke-width:1.5;stroke-linecap:square"/></g><g id="text_123"><text style="font-size:10px;text-anchor:start" x="672.56" y="628.04">|Z_L2|</text></g><g id="line2d_212"><path d="M644.4 640.08L654.48 640.08L664.56 640.08" style="fill:none;stroke:#ffa500;stroke-width:1.5;stroke-linecap:square"/></g><g id="text_124"><text style="font-size:10px;text-anchor:start" x="672.56" y="643.48">|Z_L3|</text></g><g id="line2d_213"><path d="M644.4 655.2L654.48 655.2L664.56 655.2" style="fill:none;stroke-dasharray:5.55,2.4;stroke-dashoffset:0;stroke:#008000;stroke-width:1.5"/></g><g id="text_125"><text style="font-size:10px;text-anchor:start" x="672.56" y="658.92">Z1 reach</text></g><g id="line2d_214"><path d="M644.4 670.32L654.48 670.32L664.56 670.32" style="fill:none;stroke-dasharray:5.55,2.4;stroke-dashoffset:0;stroke:#ffa500;stroke-width:1.5"/></g><g id="text_126"><text style="font-size:10px;text-anchor:start" x="672.56" y="674">Z2 reach</text></g><g id="line2d_215"><path d="M644.4 685.44L654.48 685.44L664.56 685.44" style="fill:none;stroke-dasharray:5.55,2.4;stroke-dashoffset:0;stroke:#ff0000;stroke-width:1.5"/></g><g id="text_127"><text style="font-size:10px;text-anchor:start" x="672.56" y="689.08">Z3 reach</text></g></g></g></g><defs><clipPath id="p536cd106fd"><rect x="59.24" y="26.88" width="498.175" height="226.36"/></clipPath><clipPath id="p5d44a16f98"><rect x="635.555" y="26.88" width="498.175" height="226.36"/></clipPath><clipPath id="p6669831fa6"><rect x="59.24" y="311.28" width="498.175" height="226.36"/></clipPath><clipPath id="p0b3b7d0bce"><rect x="635.555" y="311.28" width="498.175" height="226.36"/></clipPath><clipPath id="p341b389b39"><rect x="59.24" y="595.68" width="498.175" height="226.36"/></clipPath><clipPath id="peea3182d98"><rect x="635.555" y="595.68" width="498.175" height="226.36"/></clipPath></defs></svg></body></html>
